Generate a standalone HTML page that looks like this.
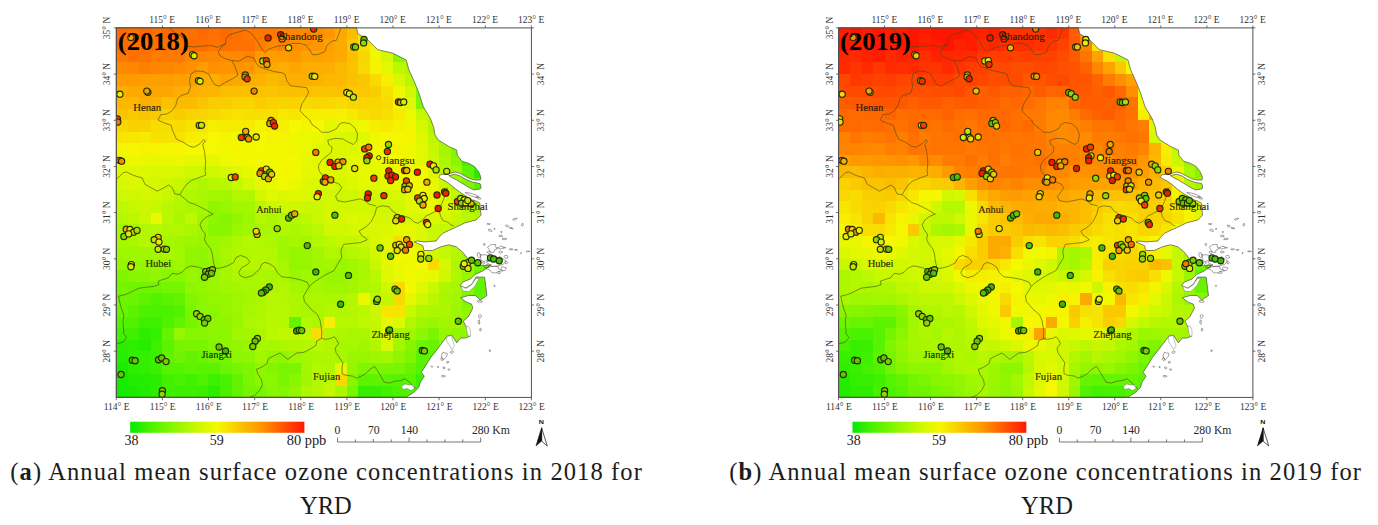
<!DOCTYPE html><html><head><meta charset="utf-8"><title>fig</title>
<style>html,body{margin:0;padding:0;background:#fff}body{width:1378px;height:525px;overflow:hidden;position:relative;font-family:"Liberation Serif",serif}svg{position:absolute;left:0;top:0;display:block}.cap{position:absolute;font-family:"Liberation Serif",serif;font-size:22.5px;color:#222;white-space:nowrap;line-height:1}</style></head><body>
<svg width="1378" height="525" viewBox="0 0 1378 525">
<defs>
<path id="landshape" d="M116.3,27.6 L356.5,27.6 L357.8,33.7 L361.7,36.0 L367.4,39.4 L374.3,46.3 L377.7,49.7 L392.6,53.1 L406.3,60.0 L408.6,69.1 L414.3,81.7 L418.9,93.1 L423.4,106.9 L430.3,118.3 L433.7,127.4 L435.0,135.0 L438.3,140.0 L449.7,146.9 L456.7,150.0 L457.3,155.3 L462.0,161.3 L468.7,163.3 L474.7,166.7 L478.7,172.0 L480.9,177.3 L480.4,180.0 L475.3,180.0 L470.0,178.7 L464.7,176.0 L460.0,173.3 L455.3,172.0 L450.0,173.3 L446.0,174.0 L440.7,174.7 L438.7,176.7 L440.7,178.7 L446.0,181.3 L451.3,185.3 L455.3,188.7 L460.7,192.7 L466.0,196.0 L472.7,200.0 L476.7,201.3 L480.0,203.3 L480.0,207.6 L481.0,215.2 L476.2,220.0 L464.8,222.9 L455.2,227.6 L448.6,230.5 L442.9,233.3 L439.0,237.1 L436.2,241.0 L424.8,241.9 L417.1,241.0 L414.3,241.9 L422.9,245.7 L423.8,250.5 L432.4,250.5 L441.0,246.7 L448.6,244.8 L456.2,246.7 L461.9,251.4 L466.7,257.1 L469.5,261.9 L481.9,265.7 L491.4,264.8 L481.9,271.4 L475.2,274.3 L470.5,279.0 L462.9,281.9 L460.0,285.7 L466.0,288.0 L472.0,284.0 L476.0,277.0 L484.6,277.2 L486.9,295.5 L480.1,300.1 L475.5,295.5 L468.6,295.5 L460.6,297.8 L466.3,302.0 L471.5,304.0 L472.9,308.0 L468.1,317.1 L463.3,321.0 L466.2,326.7 L470.0,336.2 L465.2,338.1 L460.5,338.1 L456.7,342.9 L451.9,335.2 L447.1,336.2 L441.4,343.8 L435.7,351.4 L431.0,357.1 L426.2,364.8 L421.4,372.4 L424.3,376.2 L420.5,381.9 L418.6,387.6 L413.8,392.4 L406.2,397.2 L116.3,397.2Z M448.7,175.6 L455.3,174.2 L460.7,176.2 L466.0,179.5 L472.7,182.2 L480.0,183.5 L481.0,186.0 L480.7,188.7 L474.0,190.0 L468.7,187.3 L463.3,184.0 L456.7,180.0 L451.3,177.3Z"/>
<clipPath id="land"><use href="#landshape"/></clipPath>
<clipPath id="frameclip"><rect x="116.3" y="27.9" width="415.1" height="369.5"/></clipPath>
<linearGradient id="cb" x1="0" x2="1" y1="0" y2="0">
<stop offset="0.000" stop-color="#06e804"/>
<stop offset="0.120" stop-color="#4cf200"/>
<stop offset="0.250" stop-color="#8cf600"/>
<stop offset="0.370" stop-color="#c3f800"/>
<stop offset="0.500" stop-color="#f5f800"/>
<stop offset="0.750" stop-color="#ff9600"/>
<stop offset="1.000" stop-color="#ff1800"/>
</linearGradient>
<filter id="blur" x="-2%" y="-2%" width="104%" height="104%"><feGaussianBlur stdDeviation="0.7"/></filter><filter id="blur2" x="-2%" y="-2%" width="104%" height="104%"><feGaussianBlur stdDeviation="0.35"/></filter>
</defs>
<g transform="translate(0.00,0) scale(1.00000,1)">
<g clip-path="url(#land)"><g filter="url(#blur)" shape-rendering="crispEdges">
<rect x="116.25" y="27.85" width="11.63" height="11.65" fill="#ff6b00"/>
<rect x="127.78" y="27.85" width="11.63" height="11.65" fill="#ff6e00"/>
<rect x="139.31" y="27.85" width="11.63" height="11.65" fill="#ff6600"/>
<rect x="150.84" y="27.85" width="11.63" height="11.65" fill="#ff6f00"/>
<rect x="162.37" y="27.85" width="11.63" height="11.65" fill="#ff6800"/>
<rect x="173.90" y="27.85" width="11.63" height="11.65" fill="#ff6b00"/>
<rect x="185.43" y="27.85" width="11.63" height="11.65" fill="#ff6f00"/>
<rect x="196.96" y="27.85" width="11.63" height="11.65" fill="#ff6900"/>
<rect x="208.49" y="27.85" width="11.63" height="11.65" fill="#ff7000"/>
<rect x="220.02" y="27.85" width="11.63" height="11.65" fill="#ff6a00"/>
<rect x="231.55" y="27.85" width="11.63" height="11.65" fill="#ff6f00"/>
<rect x="243.08" y="27.85" width="11.63" height="11.65" fill="#ff7400"/>
<rect x="254.61" y="27.85" width="11.63" height="11.65" fill="#ff7900"/>
<rect x="266.14" y="27.85" width="11.63" height="11.65" fill="#ff7800"/>
<rect x="277.67" y="27.85" width="11.63" height="11.65" fill="#ff8200"/>
<rect x="289.20" y="27.85" width="11.63" height="11.65" fill="#ff8600"/>
<rect x="300.73" y="27.85" width="11.63" height="11.65" fill="#ff8a00"/>
<rect x="312.26" y="27.85" width="11.63" height="11.65" fill="#ff8d00"/>
<rect x="323.79" y="27.85" width="11.63" height="11.65" fill="#ff9700"/>
<rect x="335.32" y="27.85" width="11.63" height="11.65" fill="#fda900"/>
<rect x="346.85" y="27.85" width="11.63" height="11.65" fill="#fbbd00"/>
<rect x="358.38" y="27.85" width="11.63" height="11.65" fill="#f6ea00"/>
<rect x="369.91" y="27.85" width="11.63" height="11.65" fill="#e6f800"/>
<rect x="381.44" y="27.85" width="11.63" height="11.65" fill="#c9f800"/>
<rect x="392.97" y="27.85" width="11.63" height="11.65" fill="#c2f800"/>
<rect x="404.50" y="27.85" width="11.63" height="11.65" fill="#baf800"/>
<rect x="416.03" y="27.85" width="11.63" height="11.65" fill="#b6f800"/>
<rect x="427.56" y="27.85" width="11.63" height="11.65" fill="#b9f800"/>
<rect x="439.09" y="27.85" width="11.63" height="11.65" fill="#aef700"/>
<rect x="450.62" y="27.85" width="11.63" height="11.65" fill="#b1f700"/>
<rect x="462.15" y="27.85" width="11.63" height="11.65" fill="#aff700"/>
<rect x="473.68" y="27.85" width="11.63" height="11.65" fill="#a9f700"/>
<rect x="485.21" y="27.85" width="11.63" height="11.65" fill="#a8f700"/>
<rect x="496.74" y="27.85" width="11.63" height="11.65" fill="#9df700"/>
<rect x="508.27" y="27.85" width="11.63" height="11.65" fill="#99f600"/>
<rect x="519.80" y="27.85" width="11.63" height="11.65" fill="#99f600"/>
<rect x="116.25" y="39.40" width="11.63" height="11.65" fill="#ff6b00"/>
<rect x="127.78" y="39.40" width="11.63" height="11.65" fill="#ff6f00"/>
<rect x="139.31" y="39.40" width="11.63" height="11.65" fill="#ff7000"/>
<rect x="150.84" y="39.40" width="11.63" height="11.65" fill="#ff6c00"/>
<rect x="162.37" y="39.40" width="11.63" height="11.65" fill="#ff6e00"/>
<rect x="173.90" y="39.40" width="11.63" height="11.65" fill="#ff7200"/>
<rect x="185.43" y="39.40" width="11.63" height="11.65" fill="#ff6c00"/>
<rect x="196.96" y="39.40" width="11.63" height="11.65" fill="#ff6e00"/>
<rect x="208.49" y="39.40" width="11.63" height="11.65" fill="#ff7500"/>
<rect x="220.02" y="39.40" width="11.63" height="11.65" fill="#ff7000"/>
<rect x="231.55" y="39.40" width="11.63" height="11.65" fill="#ff7100"/>
<rect x="243.08" y="39.40" width="11.63" height="11.65" fill="#ff7100"/>
<rect x="254.61" y="39.40" width="11.63" height="11.65" fill="#ff7e00"/>
<rect x="266.14" y="39.40" width="11.63" height="11.65" fill="#ff8a00"/>
<rect x="277.67" y="39.40" width="11.63" height="11.65" fill="#ff8000"/>
<rect x="289.20" y="39.40" width="11.63" height="11.65" fill="#ff9000"/>
<rect x="300.73" y="39.40" width="11.63" height="11.65" fill="#ff9300"/>
<rect x="312.26" y="39.40" width="11.63" height="11.65" fill="#ff9500"/>
<rect x="323.79" y="39.40" width="11.63" height="11.65" fill="#fea000"/>
<rect x="335.32" y="39.40" width="11.63" height="11.65" fill="#fdaa00"/>
<rect x="346.85" y="39.40" width="11.63" height="11.65" fill="#fac800"/>
<rect x="358.38" y="39.40" width="11.63" height="11.65" fill="#f8df00"/>
<rect x="369.91" y="39.40" width="11.63" height="11.65" fill="#eaf800"/>
<rect x="381.44" y="39.40" width="11.63" height="11.65" fill="#d0f800"/>
<rect x="392.97" y="39.40" width="11.63" height="11.65" fill="#c7f800"/>
<rect x="404.50" y="39.40" width="11.63" height="11.65" fill="#b5f700"/>
<rect x="416.03" y="39.40" width="11.63" height="11.65" fill="#b7f800"/>
<rect x="427.56" y="39.40" width="11.63" height="11.65" fill="#b3f700"/>
<rect x="439.09" y="39.40" width="11.63" height="11.65" fill="#b0f700"/>
<rect x="450.62" y="39.40" width="11.63" height="11.65" fill="#acf700"/>
<rect x="462.15" y="39.40" width="11.63" height="11.65" fill="#aff700"/>
<rect x="473.68" y="39.40" width="11.63" height="11.65" fill="#adf700"/>
<rect x="485.21" y="39.40" width="11.63" height="11.65" fill="#a2f700"/>
<rect x="496.74" y="39.40" width="11.63" height="11.65" fill="#a1f700"/>
<rect x="508.27" y="39.40" width="11.63" height="11.65" fill="#94f600"/>
<rect x="519.80" y="39.40" width="11.63" height="11.65" fill="#9af700"/>
<rect x="116.25" y="50.94" width="11.63" height="11.65" fill="#ff7600"/>
<rect x="127.78" y="50.94" width="11.63" height="11.65" fill="#ff7000"/>
<rect x="139.31" y="50.94" width="11.63" height="11.65" fill="#ff7300"/>
<rect x="150.84" y="50.94" width="11.63" height="11.65" fill="#ff7b00"/>
<rect x="162.37" y="50.94" width="11.63" height="11.65" fill="#ff7900"/>
<rect x="173.90" y="50.94" width="11.63" height="11.65" fill="#ff7800"/>
<rect x="185.43" y="50.94" width="11.63" height="11.65" fill="#ff8700"/>
<rect x="196.96" y="50.94" width="11.63" height="11.65" fill="#ff8400"/>
<rect x="208.49" y="50.94" width="11.63" height="11.65" fill="#ff8800"/>
<rect x="220.02" y="50.94" width="11.63" height="11.65" fill="#ff8900"/>
<rect x="231.55" y="50.94" width="11.63" height="11.65" fill="#ff8a00"/>
<rect x="243.08" y="50.94" width="11.63" height="11.65" fill="#ff8500"/>
<rect x="254.61" y="50.94" width="11.63" height="11.65" fill="#ff9a00"/>
<rect x="266.14" y="50.94" width="11.63" height="11.65" fill="#fe9d00"/>
<rect x="277.67" y="50.94" width="11.63" height="11.65" fill="#fe9b00"/>
<rect x="289.20" y="50.94" width="11.63" height="11.65" fill="#ff9700"/>
<rect x="300.73" y="50.94" width="11.63" height="11.65" fill="#fea200"/>
<rect x="312.26" y="50.94" width="11.63" height="11.65" fill="#fea000"/>
<rect x="323.79" y="50.94" width="11.63" height="11.65" fill="#fea300"/>
<rect x="335.32" y="50.94" width="11.63" height="11.65" fill="#fdaa00"/>
<rect x="346.85" y="50.94" width="11.63" height="11.65" fill="#fbbe00"/>
<rect x="358.38" y="50.94" width="11.63" height="11.65" fill="#f8d700"/>
<rect x="369.91" y="50.94" width="11.63" height="11.65" fill="#f0f800"/>
<rect x="381.44" y="50.94" width="11.63" height="11.65" fill="#d5f800"/>
<rect x="392.97" y="50.94" width="11.63" height="11.65" fill="#8cf600"/>
<rect x="404.50" y="50.94" width="11.63" height="11.65" fill="#b6f800"/>
<rect x="416.03" y="50.94" width="11.63" height="11.65" fill="#b5f700"/>
<rect x="427.56" y="50.94" width="11.63" height="11.65" fill="#a7f700"/>
<rect x="439.09" y="50.94" width="11.63" height="11.65" fill="#a4f700"/>
<rect x="450.62" y="50.94" width="11.63" height="11.65" fill="#a2f700"/>
<rect x="462.15" y="50.94" width="11.63" height="11.65" fill="#9ef700"/>
<rect x="473.68" y="50.94" width="11.63" height="11.65" fill="#9df700"/>
<rect x="485.21" y="50.94" width="11.63" height="11.65" fill="#99f600"/>
<rect x="496.74" y="50.94" width="11.63" height="11.65" fill="#8ff600"/>
<rect x="508.27" y="50.94" width="11.63" height="11.65" fill="#85f600"/>
<rect x="519.80" y="50.94" width="11.63" height="11.65" fill="#87f600"/>
<rect x="116.25" y="62.49" width="11.63" height="11.65" fill="#ff8900"/>
<rect x="127.78" y="62.49" width="11.63" height="11.65" fill="#ff8600"/>
<rect x="139.31" y="62.49" width="11.63" height="11.65" fill="#ff8000"/>
<rect x="150.84" y="62.49" width="11.63" height="11.65" fill="#ff8400"/>
<rect x="162.37" y="62.49" width="11.63" height="11.65" fill="#ff8700"/>
<rect x="173.90" y="62.49" width="11.63" height="11.65" fill="#ff8900"/>
<rect x="185.43" y="62.49" width="11.63" height="11.65" fill="#ff9100"/>
<rect x="196.96" y="62.49" width="11.63" height="11.65" fill="#fe9c00"/>
<rect x="208.49" y="62.49" width="11.63" height="11.65" fill="#ff9100"/>
<rect x="220.02" y="62.49" width="11.63" height="11.65" fill="#ff9300"/>
<rect x="231.55" y="62.49" width="11.63" height="11.65" fill="#ff9200"/>
<rect x="243.08" y="62.49" width="11.63" height="11.65" fill="#ff9800"/>
<rect x="254.61" y="62.49" width="11.63" height="11.65" fill="#fda500"/>
<rect x="266.14" y="62.49" width="11.63" height="11.65" fill="#fda900"/>
<rect x="277.67" y="62.49" width="11.63" height="11.65" fill="#fdac00"/>
<rect x="289.20" y="62.49" width="11.63" height="11.65" fill="#fda600"/>
<rect x="300.73" y="62.49" width="11.63" height="11.65" fill="#fdad00"/>
<rect x="312.26" y="62.49" width="11.63" height="11.65" fill="#fdae00"/>
<rect x="323.79" y="62.49" width="11.63" height="11.65" fill="#fcaf00"/>
<rect x="335.32" y="62.49" width="11.63" height="11.65" fill="#fcb800"/>
<rect x="346.85" y="62.49" width="11.63" height="11.65" fill="#fbc200"/>
<rect x="358.38" y="62.49" width="11.63" height="11.65" fill="#f8d800"/>
<rect x="369.91" y="62.49" width="11.63" height="11.65" fill="#f6f200"/>
<rect x="381.44" y="62.49" width="11.63" height="11.65" fill="#e0f800"/>
<rect x="392.97" y="62.49" width="11.63" height="11.65" fill="#bef800"/>
<rect x="404.50" y="62.49" width="11.63" height="11.65" fill="#b0f700"/>
<rect x="416.03" y="62.49" width="11.63" height="11.65" fill="#a6f700"/>
<rect x="427.56" y="62.49" width="11.63" height="11.65" fill="#acf700"/>
<rect x="439.09" y="62.49" width="11.63" height="11.65" fill="#a5f700"/>
<rect x="450.62" y="62.49" width="11.63" height="11.65" fill="#9af700"/>
<rect x="462.15" y="62.49" width="11.63" height="11.65" fill="#97f600"/>
<rect x="473.68" y="62.49" width="11.63" height="11.65" fill="#93f600"/>
<rect x="485.21" y="62.49" width="11.63" height="11.65" fill="#8df600"/>
<rect x="496.74" y="62.49" width="11.63" height="11.65" fill="#83f500"/>
<rect x="508.27" y="62.49" width="11.63" height="11.65" fill="#86f600"/>
<rect x="519.80" y="62.49" width="11.63" height="11.65" fill="#84f500"/>
<rect x="116.25" y="74.04" width="11.63" height="11.65" fill="#ff9a00"/>
<rect x="127.78" y="74.04" width="11.63" height="11.65" fill="#ff9a00"/>
<rect x="139.31" y="74.04" width="11.63" height="11.65" fill="#fe9f00"/>
<rect x="150.84" y="74.04" width="11.63" height="11.65" fill="#fe9f00"/>
<rect x="162.37" y="74.04" width="11.63" height="11.65" fill="#fe9c00"/>
<rect x="173.90" y="74.04" width="11.63" height="11.65" fill="#fea000"/>
<rect x="185.43" y="74.04" width="11.63" height="11.65" fill="#fea100"/>
<rect x="196.96" y="74.04" width="11.63" height="11.65" fill="#fdad00"/>
<rect x="208.49" y="74.04" width="11.63" height="11.65" fill="#fdae00"/>
<rect x="220.02" y="74.04" width="11.63" height="11.65" fill="#fea300"/>
<rect x="231.55" y="74.04" width="11.63" height="11.65" fill="#fda800"/>
<rect x="243.08" y="74.04" width="11.63" height="11.65" fill="#fcaf00"/>
<rect x="254.61" y="74.04" width="11.63" height="11.65" fill="#fcb000"/>
<rect x="266.14" y="74.04" width="11.63" height="11.65" fill="#fbb900"/>
<rect x="277.67" y="74.04" width="11.63" height="11.65" fill="#fcb300"/>
<rect x="289.20" y="74.04" width="11.63" height="11.65" fill="#fdae00"/>
<rect x="300.73" y="74.04" width="11.63" height="11.65" fill="#fcaf00"/>
<rect x="312.26" y="74.04" width="11.63" height="11.65" fill="#fcb200"/>
<rect x="323.79" y="74.04" width="11.63" height="11.65" fill="#fcb800"/>
<rect x="335.32" y="74.04" width="11.63" height="11.65" fill="#fbba00"/>
<rect x="346.85" y="74.04" width="11.63" height="11.65" fill="#fbc100"/>
<rect x="358.38" y="74.04" width="11.63" height="11.65" fill="#fac600"/>
<rect x="369.91" y="74.04" width="11.63" height="11.65" fill="#f8da00"/>
<rect x="381.44" y="74.04" width="11.63" height="11.65" fill="#f6f000"/>
<rect x="392.97" y="74.04" width="11.63" height="11.65" fill="#d8f800"/>
<rect x="404.50" y="74.04" width="11.63" height="11.65" fill="#b9f800"/>
<rect x="416.03" y="74.04" width="11.63" height="11.65" fill="#b2f700"/>
<rect x="427.56" y="74.04" width="11.63" height="11.65" fill="#abf700"/>
<rect x="439.09" y="74.04" width="11.63" height="11.65" fill="#a6f700"/>
<rect x="450.62" y="74.04" width="11.63" height="11.65" fill="#a0f700"/>
<rect x="462.15" y="74.04" width="11.63" height="11.65" fill="#9bf700"/>
<rect x="473.68" y="74.04" width="11.63" height="11.65" fill="#95f600"/>
<rect x="485.21" y="74.04" width="11.63" height="11.65" fill="#87f600"/>
<rect x="496.74" y="74.04" width="11.63" height="11.65" fill="#83f500"/>
<rect x="508.27" y="74.04" width="11.63" height="11.65" fill="#79f500"/>
<rect x="519.80" y="74.04" width="11.63" height="11.65" fill="#6ff400"/>
<rect x="116.25" y="85.58" width="11.63" height="11.65" fill="#fdad00"/>
<rect x="127.78" y="85.58" width="11.63" height="11.65" fill="#fdaa00"/>
<rect x="139.31" y="85.58" width="11.63" height="11.65" fill="#fdaa00"/>
<rect x="150.84" y="85.58" width="11.63" height="11.65" fill="#fda600"/>
<rect x="162.37" y="85.58" width="11.63" height="11.65" fill="#fda500"/>
<rect x="173.90" y="85.58" width="11.63" height="11.65" fill="#fcaf00"/>
<rect x="185.43" y="85.58" width="11.63" height="11.65" fill="#fcaf00"/>
<rect x="196.96" y="85.58" width="11.63" height="11.65" fill="#fcb300"/>
<rect x="208.49" y="85.58" width="11.63" height="11.65" fill="#fcb500"/>
<rect x="220.02" y="85.58" width="11.63" height="11.65" fill="#fbbd00"/>
<rect x="231.55" y="85.58" width="11.63" height="11.65" fill="#fbbf00"/>
<rect x="243.08" y="85.58" width="11.63" height="11.65" fill="#fbc000"/>
<rect x="254.61" y="85.58" width="11.63" height="11.65" fill="#fac300"/>
<rect x="266.14" y="85.58" width="11.63" height="11.65" fill="#fac500"/>
<rect x="277.67" y="85.58" width="11.63" height="11.65" fill="#fbc100"/>
<rect x="289.20" y="85.58" width="11.63" height="11.65" fill="#fbbf00"/>
<rect x="300.73" y="85.58" width="11.63" height="11.65" fill="#fbc000"/>
<rect x="312.26" y="85.58" width="11.63" height="11.65" fill="#fac500"/>
<rect x="323.79" y="85.58" width="11.63" height="11.65" fill="#fac300"/>
<rect x="335.32" y="85.58" width="11.63" height="11.65" fill="#fbc100"/>
<rect x="346.85" y="85.58" width="11.63" height="11.65" fill="#fac900"/>
<rect x="358.38" y="85.58" width="11.63" height="11.65" fill="#fac700"/>
<rect x="369.91" y="85.58" width="11.63" height="11.65" fill="#f9cd00"/>
<rect x="381.44" y="85.58" width="11.63" height="11.65" fill="#f7e100"/>
<rect x="392.97" y="85.58" width="11.63" height="11.65" fill="#f0f800"/>
<rect x="404.50" y="85.58" width="11.63" height="11.65" fill="#cef800"/>
<rect x="416.03" y="85.58" width="11.63" height="11.65" fill="#7df500"/>
<rect x="427.56" y="85.58" width="11.63" height="11.65" fill="#abf700"/>
<rect x="439.09" y="85.58" width="11.63" height="11.65" fill="#a1f700"/>
<rect x="450.62" y="85.58" width="11.63" height="11.65" fill="#a3f700"/>
<rect x="462.15" y="85.58" width="11.63" height="11.65" fill="#a0f700"/>
<rect x="473.68" y="85.58" width="11.63" height="11.65" fill="#93f600"/>
<rect x="485.21" y="85.58" width="11.63" height="11.65" fill="#8df600"/>
<rect x="496.74" y="85.58" width="11.63" height="11.65" fill="#8ef600"/>
<rect x="508.27" y="85.58" width="11.63" height="11.65" fill="#82f500"/>
<rect x="519.80" y="85.58" width="11.63" height="11.65" fill="#76f500"/>
<rect x="116.25" y="97.13" width="11.63" height="11.65" fill="#fcb800"/>
<rect x="127.78" y="97.13" width="11.63" height="11.65" fill="#fcb800"/>
<rect x="139.31" y="97.13" width="11.63" height="11.65" fill="#fcaf00"/>
<rect x="150.84" y="97.13" width="11.63" height="11.65" fill="#fcb300"/>
<rect x="162.37" y="97.13" width="11.63" height="11.65" fill="#fbc000"/>
<rect x="173.90" y="97.13" width="11.63" height="11.65" fill="#fbbc00"/>
<rect x="185.43" y="97.13" width="11.63" height="11.65" fill="#fbbc00"/>
<rect x="196.96" y="97.13" width="11.63" height="11.65" fill="#fac400"/>
<rect x="208.49" y="97.13" width="11.63" height="11.65" fill="#f9ce00"/>
<rect x="220.02" y="97.13" width="11.63" height="11.65" fill="#f9ce00"/>
<rect x="231.55" y="97.13" width="11.63" height="11.65" fill="#f9d300"/>
<rect x="243.08" y="97.13" width="11.63" height="11.65" fill="#f9d500"/>
<rect x="254.61" y="97.13" width="11.63" height="11.65" fill="#facb00"/>
<rect x="266.14" y="97.13" width="11.63" height="11.65" fill="#f9d100"/>
<rect x="277.67" y="97.13" width="11.63" height="11.65" fill="#f9d500"/>
<rect x="289.20" y="97.13" width="11.63" height="11.65" fill="#f9d200"/>
<rect x="300.73" y="97.13" width="11.63" height="11.65" fill="#f8da00"/>
<rect x="312.26" y="97.13" width="11.63" height="11.65" fill="#f8d600"/>
<rect x="323.79" y="97.13" width="11.63" height="11.65" fill="#f8d800"/>
<rect x="335.32" y="97.13" width="11.63" height="11.65" fill="#f8dd00"/>
<rect x="346.85" y="97.13" width="11.63" height="11.65" fill="#f8d700"/>
<rect x="358.38" y="97.13" width="11.63" height="11.65" fill="#f9d400"/>
<rect x="369.91" y="97.13" width="11.63" height="11.65" fill="#f9d600"/>
<rect x="381.44" y="97.13" width="11.63" height="11.65" fill="#f8dc00"/>
<rect x="392.97" y="97.13" width="11.63" height="11.65" fill="#f6f300"/>
<rect x="404.50" y="97.13" width="11.63" height="11.65" fill="#def800"/>
<rect x="416.03" y="97.13" width="11.63" height="11.65" fill="#7df500"/>
<rect x="427.56" y="97.13" width="11.63" height="11.65" fill="#b1f700"/>
<rect x="439.09" y="97.13" width="11.63" height="11.65" fill="#a7f700"/>
<rect x="450.62" y="97.13" width="11.63" height="11.65" fill="#a5f700"/>
<rect x="462.15" y="97.13" width="11.63" height="11.65" fill="#a3f700"/>
<rect x="473.68" y="97.13" width="11.63" height="11.65" fill="#a3f700"/>
<rect x="485.21" y="97.13" width="11.63" height="11.65" fill="#97f600"/>
<rect x="496.74" y="97.13" width="11.63" height="11.65" fill="#98f600"/>
<rect x="508.27" y="97.13" width="11.63" height="11.65" fill="#8cf600"/>
<rect x="519.80" y="97.13" width="11.63" height="11.65" fill="#89f600"/>
<rect x="116.25" y="108.67" width="11.63" height="11.65" fill="#fac300"/>
<rect x="127.78" y="108.67" width="11.63" height="11.65" fill="#fac900"/>
<rect x="139.31" y="108.67" width="11.63" height="11.65" fill="#fac400"/>
<rect x="150.84" y="108.67" width="11.63" height="11.65" fill="#faca00"/>
<rect x="162.37" y="108.67" width="11.63" height="11.65" fill="#f9d200"/>
<rect x="173.90" y="108.67" width="11.63" height="11.65" fill="#facc00"/>
<rect x="185.43" y="108.67" width="11.63" height="11.65" fill="#f9d300"/>
<rect x="196.96" y="108.67" width="11.63" height="11.65" fill="#f9d400"/>
<rect x="208.49" y="108.67" width="11.63" height="11.65" fill="#f8d900"/>
<rect x="220.02" y="108.67" width="11.63" height="11.65" fill="#f8df00"/>
<rect x="231.55" y="108.67" width="11.63" height="11.65" fill="#f7e200"/>
<rect x="243.08" y="108.67" width="11.63" height="11.65" fill="#f7e000"/>
<rect x="254.61" y="108.67" width="11.63" height="11.65" fill="#f7e000"/>
<rect x="266.14" y="108.67" width="11.63" height="11.65" fill="#f8df00"/>
<rect x="277.67" y="108.67" width="11.63" height="11.65" fill="#f6ea00"/>
<rect x="289.20" y="108.67" width="11.63" height="11.65" fill="#f7e700"/>
<rect x="300.73" y="108.67" width="11.63" height="11.65" fill="#f6ed00"/>
<rect x="312.26" y="108.67" width="11.63" height="11.65" fill="#f6f000"/>
<rect x="323.79" y="108.67" width="11.63" height="11.65" fill="#f6ef00"/>
<rect x="335.32" y="108.67" width="11.63" height="11.65" fill="#f6f100"/>
<rect x="346.85" y="108.67" width="11.63" height="11.65" fill="#f7e900"/>
<rect x="358.38" y="108.67" width="11.63" height="11.65" fill="#f7e000"/>
<rect x="369.91" y="108.67" width="11.63" height="11.65" fill="#f8d900"/>
<rect x="381.44" y="108.67" width="11.63" height="11.65" fill="#f7e000"/>
<rect x="392.97" y="108.67" width="11.63" height="11.65" fill="#f7e900"/>
<rect x="404.50" y="108.67" width="11.63" height="11.65" fill="#ebf800"/>
<rect x="416.03" y="108.67" width="11.63" height="11.65" fill="#c5f800"/>
<rect x="427.56" y="108.67" width="11.63" height="11.65" fill="#b3f700"/>
<rect x="439.09" y="108.67" width="11.63" height="11.65" fill="#a7f700"/>
<rect x="450.62" y="108.67" width="11.63" height="11.65" fill="#a1f700"/>
<rect x="462.15" y="108.67" width="11.63" height="11.65" fill="#9cf700"/>
<rect x="473.68" y="108.67" width="11.63" height="11.65" fill="#9df700"/>
<rect x="485.21" y="108.67" width="11.63" height="11.65" fill="#94f600"/>
<rect x="496.74" y="108.67" width="11.63" height="11.65" fill="#90f600"/>
<rect x="508.27" y="108.67" width="11.63" height="11.65" fill="#8af600"/>
<rect x="519.80" y="108.67" width="11.63" height="11.65" fill="#7cf500"/>
<rect x="116.25" y="120.22" width="11.63" height="11.65" fill="#f8d600"/>
<rect x="127.78" y="120.22" width="11.63" height="11.65" fill="#f9d100"/>
<rect x="139.31" y="120.22" width="11.63" height="11.65" fill="#f9d300"/>
<rect x="150.84" y="120.22" width="11.63" height="11.65" fill="#f8dc00"/>
<rect x="162.37" y="120.22" width="11.63" height="11.65" fill="#f8de00"/>
<rect x="173.90" y="120.22" width="11.63" height="11.65" fill="#f8dc00"/>
<rect x="185.43" y="120.22" width="11.63" height="11.65" fill="#f7e200"/>
<rect x="196.96" y="120.22" width="11.63" height="11.65" fill="#f7e500"/>
<rect x="208.49" y="120.22" width="11.63" height="11.65" fill="#f6ee00"/>
<rect x="220.02" y="120.22" width="11.63" height="11.65" fill="#f6ec00"/>
<rect x="231.55" y="120.22" width="11.63" height="11.65" fill="#f6ec00"/>
<rect x="243.08" y="120.22" width="11.63" height="11.65" fill="#f6eb00"/>
<rect x="254.61" y="120.22" width="11.63" height="11.65" fill="#f5f400"/>
<rect x="266.14" y="120.22" width="11.63" height="11.65" fill="#f6ee00"/>
<rect x="277.67" y="120.22" width="11.63" height="11.65" fill="#f6f000"/>
<rect x="289.20" y="120.22" width="11.63" height="11.65" fill="#f5f800"/>
<rect x="300.73" y="120.22" width="11.63" height="11.65" fill="#f6f300"/>
<rect x="312.26" y="120.22" width="11.63" height="11.65" fill="#f5f800"/>
<rect x="323.79" y="120.22" width="11.63" height="11.65" fill="#e3f800"/>
<rect x="335.32" y="120.22" width="11.63" height="11.65" fill="#e9f800"/>
<rect x="346.85" y="120.22" width="11.63" height="11.65" fill="#e8f800"/>
<rect x="358.38" y="120.22" width="11.63" height="11.65" fill="#f0f800"/>
<rect x="369.91" y="120.22" width="11.63" height="11.65" fill="#f6ed00"/>
<rect x="381.44" y="120.22" width="11.63" height="11.65" fill="#f6ea00"/>
<rect x="392.97" y="120.22" width="11.63" height="11.65" fill="#f6f100"/>
<rect x="404.50" y="120.22" width="11.63" height="11.65" fill="#f0f800"/>
<rect x="416.03" y="120.22" width="11.63" height="11.65" fill="#d4f800"/>
<rect x="427.56" y="120.22" width="11.63" height="11.65" fill="#b1f700"/>
<rect x="439.09" y="120.22" width="11.63" height="11.65" fill="#9cf700"/>
<rect x="450.62" y="120.22" width="11.63" height="11.65" fill="#88f600"/>
<rect x="462.15" y="120.22" width="11.63" height="11.65" fill="#86f600"/>
<rect x="473.68" y="120.22" width="11.63" height="11.65" fill="#74f400"/>
<rect x="485.21" y="120.22" width="11.63" height="11.65" fill="#73f400"/>
<rect x="496.74" y="120.22" width="11.63" height="11.65" fill="#67f400"/>
<rect x="508.27" y="120.22" width="11.63" height="11.65" fill="#57f300"/>
<rect x="519.80" y="120.22" width="11.63" height="11.65" fill="#56f300"/>
<rect x="116.25" y="131.77" width="11.63" height="11.65" fill="#f7e500"/>
<rect x="127.78" y="131.77" width="11.63" height="11.65" fill="#f7e600"/>
<rect x="139.31" y="131.77" width="11.63" height="11.65" fill="#f6eb00"/>
<rect x="150.84" y="131.77" width="11.63" height="11.65" fill="#f7e100"/>
<rect x="162.37" y="131.77" width="11.63" height="11.65" fill="#f7e300"/>
<rect x="173.90" y="131.77" width="11.63" height="11.65" fill="#f7e200"/>
<rect x="185.43" y="131.77" width="11.63" height="11.65" fill="#f6ed00"/>
<rect x="196.96" y="131.77" width="11.63" height="11.65" fill="#f6ef00"/>
<rect x="208.49" y="131.77" width="11.63" height="11.65" fill="#f5f800"/>
<rect x="220.02" y="131.77" width="11.63" height="11.65" fill="#f6f300"/>
<rect x="231.55" y="131.77" width="11.63" height="11.65" fill="#f3f800"/>
<rect x="243.08" y="131.77" width="11.63" height="11.65" fill="#f1f800"/>
<rect x="254.61" y="131.77" width="11.63" height="11.65" fill="#f4f800"/>
<rect x="266.14" y="131.77" width="11.63" height="11.65" fill="#f5f300"/>
<rect x="277.67" y="131.77" width="11.63" height="11.65" fill="#f5f400"/>
<rect x="289.20" y="131.77" width="11.63" height="11.65" fill="#f0f800"/>
<rect x="300.73" y="131.77" width="11.63" height="11.65" fill="#eaf800"/>
<rect x="312.26" y="131.77" width="11.63" height="11.65" fill="#ecf800"/>
<rect x="323.79" y="131.77" width="11.63" height="11.65" fill="#ddf800"/>
<rect x="335.32" y="131.77" width="11.63" height="11.65" fill="#dbf800"/>
<rect x="346.85" y="131.77" width="11.63" height="11.65" fill="#d8f800"/>
<rect x="358.38" y="131.77" width="11.63" height="11.65" fill="#dff800"/>
<rect x="369.91" y="131.77" width="11.63" height="11.65" fill="#f0f800"/>
<rect x="381.44" y="131.77" width="11.63" height="11.65" fill="#f5f800"/>
<rect x="392.97" y="131.77" width="11.63" height="11.65" fill="#f5f700"/>
<rect x="404.50" y="131.77" width="11.63" height="11.65" fill="#f5f500"/>
<rect x="416.03" y="131.77" width="11.63" height="11.65" fill="#dff800"/>
<rect x="427.56" y="131.77" width="11.63" height="11.65" fill="#bdf800"/>
<rect x="439.09" y="131.77" width="11.63" height="11.65" fill="#99f600"/>
<rect x="450.62" y="131.77" width="11.63" height="11.65" fill="#82f500"/>
<rect x="462.15" y="131.77" width="11.63" height="11.65" fill="#61f300"/>
<rect x="473.68" y="131.77" width="11.63" height="11.65" fill="#5df300"/>
<rect x="485.21" y="131.77" width="11.63" height="11.65" fill="#4ff200"/>
<rect x="496.74" y="131.77" width="11.63" height="11.65" fill="#44f100"/>
<rect x="508.27" y="131.77" width="11.63" height="11.65" fill="#3df001"/>
<rect x="519.80" y="131.77" width="11.63" height="11.65" fill="#3ef001"/>
<rect x="116.25" y="143.31" width="11.63" height="11.65" fill="#f5f500"/>
<rect x="127.78" y="143.31" width="11.63" height="11.65" fill="#f5f600"/>
<rect x="139.31" y="143.31" width="11.63" height="11.65" fill="#f6f200"/>
<rect x="150.84" y="143.31" width="11.63" height="11.65" fill="#f5f500"/>
<rect x="162.37" y="143.31" width="11.63" height="11.65" fill="#f5f700"/>
<rect x="173.90" y="143.31" width="11.63" height="11.65" fill="#f5f600"/>
<rect x="185.43" y="143.31" width="11.63" height="11.65" fill="#f5f800"/>
<rect x="196.96" y="143.31" width="11.63" height="11.65" fill="#f5f800"/>
<rect x="208.49" y="143.31" width="11.63" height="11.65" fill="#f5f800"/>
<rect x="220.02" y="143.31" width="11.63" height="11.65" fill="#f3f800"/>
<rect x="231.55" y="143.31" width="11.63" height="11.65" fill="#f5f500"/>
<rect x="243.08" y="143.31" width="11.63" height="11.65" fill="#f3f800"/>
<rect x="254.61" y="143.31" width="11.63" height="11.65" fill="#f5f800"/>
<rect x="266.14" y="143.31" width="11.63" height="11.65" fill="#f1f800"/>
<rect x="277.67" y="143.31" width="11.63" height="11.65" fill="#f3f800"/>
<rect x="289.20" y="143.31" width="11.63" height="11.65" fill="#edf800"/>
<rect x="300.73" y="143.31" width="11.63" height="11.65" fill="#eaf800"/>
<rect x="312.26" y="143.31" width="11.63" height="11.65" fill="#e0f800"/>
<rect x="323.79" y="143.31" width="11.63" height="11.65" fill="#def800"/>
<rect x="335.32" y="143.31" width="11.63" height="11.65" fill="#d9f800"/>
<rect x="346.85" y="143.31" width="11.63" height="11.65" fill="#dbf800"/>
<rect x="358.38" y="143.31" width="11.63" height="11.65" fill="#e4f800"/>
<rect x="369.91" y="143.31" width="11.63" height="11.65" fill="#f1f800"/>
<rect x="381.44" y="143.31" width="11.63" height="11.65" fill="#edf800"/>
<rect x="392.97" y="143.31" width="11.63" height="11.65" fill="#f5f400"/>
<rect x="404.50" y="143.31" width="11.63" height="11.65" fill="#f0f800"/>
<rect x="416.03" y="143.31" width="11.63" height="11.65" fill="#e1f800"/>
<rect x="427.56" y="143.31" width="11.63" height="11.65" fill="#c7f800"/>
<rect x="439.09" y="143.31" width="11.63" height="11.65" fill="#a3f700"/>
<rect x="450.62" y="143.31" width="11.63" height="11.65" fill="#80f500"/>
<rect x="462.15" y="143.31" width="11.63" height="11.65" fill="#54f300"/>
<rect x="473.68" y="143.31" width="11.63" height="11.65" fill="#39ef01"/>
<rect x="485.21" y="143.31" width="11.63" height="11.65" fill="#2aed02"/>
<rect x="496.74" y="143.31" width="11.63" height="11.65" fill="#2fee02"/>
<rect x="508.27" y="143.31" width="11.63" height="11.65" fill="#29ed02"/>
<rect x="519.80" y="143.31" width="11.63" height="11.65" fill="#26ed02"/>
<rect x="116.25" y="154.86" width="11.63" height="11.65" fill="#eef800"/>
<rect x="127.78" y="154.86" width="11.63" height="11.65" fill="#edf800"/>
<rect x="139.31" y="154.86" width="11.63" height="11.65" fill="#e9f800"/>
<rect x="150.84" y="154.86" width="11.63" height="11.65" fill="#e9f800"/>
<rect x="162.37" y="154.86" width="11.63" height="11.65" fill="#e7f800"/>
<rect x="173.90" y="154.86" width="11.63" height="11.65" fill="#edf800"/>
<rect x="185.43" y="154.86" width="11.63" height="11.65" fill="#e6f800"/>
<rect x="196.96" y="154.86" width="11.63" height="11.65" fill="#e4f800"/>
<rect x="208.49" y="154.86" width="11.63" height="11.65" fill="#e3f800"/>
<rect x="220.02" y="154.86" width="11.63" height="11.65" fill="#eef800"/>
<rect x="231.55" y="154.86" width="11.63" height="11.65" fill="#f2f800"/>
<rect x="243.08" y="154.86" width="11.63" height="11.65" fill="#f3f800"/>
<rect x="254.61" y="154.86" width="11.63" height="11.65" fill="#f1f800"/>
<rect x="266.14" y="154.86" width="11.63" height="11.65" fill="#f2f800"/>
<rect x="277.67" y="154.86" width="11.63" height="11.65" fill="#f3f800"/>
<rect x="289.20" y="154.86" width="11.63" height="11.65" fill="#f1f800"/>
<rect x="300.73" y="154.86" width="11.63" height="11.65" fill="#e8f800"/>
<rect x="312.26" y="154.86" width="11.63" height="11.65" fill="#e3f800"/>
<rect x="323.79" y="154.86" width="11.63" height="11.65" fill="#d8f800"/>
<rect x="335.32" y="154.86" width="11.63" height="11.65" fill="#def800"/>
<rect x="346.85" y="154.86" width="11.63" height="11.65" fill="#e4f800"/>
<rect x="358.38" y="154.86" width="11.63" height="11.65" fill="#e5f800"/>
<rect x="369.91" y="154.86" width="11.63" height="11.65" fill="#e7f800"/>
<rect x="381.44" y="154.86" width="11.63" height="11.65" fill="#f4f800"/>
<rect x="392.97" y="154.86" width="11.63" height="11.65" fill="#f1f800"/>
<rect x="404.50" y="154.86" width="11.63" height="11.65" fill="#eff800"/>
<rect x="416.03" y="154.86" width="11.63" height="11.65" fill="#e2f800"/>
<rect x="427.56" y="154.86" width="11.63" height="11.65" fill="#ccf800"/>
<rect x="439.09" y="154.86" width="11.63" height="11.65" fill="#acf700"/>
<rect x="450.62" y="154.86" width="11.63" height="11.65" fill="#8cf600"/>
<rect x="462.15" y="154.86" width="11.63" height="11.65" fill="#48f100"/>
<rect x="473.68" y="154.86" width="11.63" height="11.65" fill="#1deb03"/>
<rect x="485.21" y="154.86" width="11.63" height="11.65" fill="#12ea03"/>
<rect x="496.74" y="154.86" width="11.63" height="11.65" fill="#16ea03"/>
<rect x="508.27" y="154.86" width="11.63" height="11.65" fill="#13ea03"/>
<rect x="519.80" y="154.86" width="11.63" height="11.65" fill="#18eb03"/>
<rect x="116.25" y="166.41" width="11.63" height="11.65" fill="#def800"/>
<rect x="127.78" y="166.41" width="11.63" height="11.65" fill="#ddf800"/>
<rect x="139.31" y="166.41" width="11.63" height="11.65" fill="#ddf800"/>
<rect x="150.84" y="166.41" width="11.63" height="11.65" fill="#d9f800"/>
<rect x="162.37" y="166.41" width="11.63" height="11.65" fill="#dbf800"/>
<rect x="173.90" y="166.41" width="11.63" height="11.65" fill="#d6f800"/>
<rect x="185.43" y="166.41" width="11.63" height="11.65" fill="#d2f800"/>
<rect x="196.96" y="166.41" width="11.63" height="11.65" fill="#cef800"/>
<rect x="208.49" y="166.41" width="11.63" height="11.65" fill="#cff800"/>
<rect x="220.02" y="166.41" width="11.63" height="11.65" fill="#d7f800"/>
<rect x="231.55" y="166.41" width="11.63" height="11.65" fill="#dff800"/>
<rect x="243.08" y="166.41" width="11.63" height="11.65" fill="#e8f800"/>
<rect x="254.61" y="166.41" width="11.63" height="11.65" fill="#f5f600"/>
<rect x="266.14" y="166.41" width="11.63" height="11.65" fill="#f1f800"/>
<rect x="277.67" y="166.41" width="11.63" height="11.65" fill="#f5f500"/>
<rect x="289.20" y="166.41" width="11.63" height="11.65" fill="#f3f800"/>
<rect x="300.73" y="166.41" width="11.63" height="11.65" fill="#e5f800"/>
<rect x="312.26" y="166.41" width="11.63" height="11.65" fill="#e6f800"/>
<rect x="323.79" y="166.41" width="11.63" height="11.65" fill="#dff800"/>
<rect x="335.32" y="166.41" width="11.63" height="11.65" fill="#dbf800"/>
<rect x="346.85" y="166.41" width="11.63" height="11.65" fill="#e2f800"/>
<rect x="358.38" y="166.41" width="11.63" height="11.65" fill="#e8f800"/>
<rect x="369.91" y="166.41" width="11.63" height="11.65" fill="#e4f800"/>
<rect x="381.44" y="166.41" width="11.63" height="11.65" fill="#edf800"/>
<rect x="392.97" y="166.41" width="11.63" height="11.65" fill="#f2f800"/>
<rect x="404.50" y="166.41" width="11.63" height="11.65" fill="#f5f600"/>
<rect x="416.03" y="166.41" width="11.63" height="11.65" fill="#f4f800"/>
<rect x="427.56" y="166.41" width="11.63" height="11.65" fill="#dff800"/>
<rect x="439.09" y="166.41" width="11.63" height="11.65" fill="#b5f700"/>
<rect x="450.62" y="166.41" width="11.63" height="11.65" fill="#a1f700"/>
<rect x="462.15" y="166.41" width="11.63" height="11.65" fill="#5ff300"/>
<rect x="473.68" y="166.41" width="11.63" height="11.65" fill="#28ed02"/>
<rect x="485.21" y="166.41" width="11.63" height="11.65" fill="#19eb03"/>
<rect x="496.74" y="166.41" width="11.63" height="11.65" fill="#12ea03"/>
<rect x="508.27" y="166.41" width="11.63" height="11.65" fill="#13ea03"/>
<rect x="519.80" y="166.41" width="11.63" height="11.65" fill="#17ea03"/>
<rect x="116.25" y="177.95" width="11.63" height="11.65" fill="#d6f800"/>
<rect x="127.78" y="177.95" width="11.63" height="11.65" fill="#ddf800"/>
<rect x="139.31" y="177.95" width="11.63" height="11.65" fill="#d6f800"/>
<rect x="150.84" y="177.95" width="11.63" height="11.65" fill="#d3f800"/>
<rect x="162.37" y="177.95" width="11.63" height="11.65" fill="#cff800"/>
<rect x="173.90" y="177.95" width="11.63" height="11.65" fill="#c7f800"/>
<rect x="185.43" y="177.95" width="11.63" height="11.65" fill="#b8f800"/>
<rect x="196.96" y="177.95" width="11.63" height="11.65" fill="#adf700"/>
<rect x="208.49" y="177.95" width="11.63" height="11.65" fill="#b7f800"/>
<rect x="220.02" y="177.95" width="11.63" height="11.65" fill="#b9f800"/>
<rect x="231.55" y="177.95" width="11.63" height="11.65" fill="#c7f800"/>
<rect x="243.08" y="177.95" width="11.63" height="11.65" fill="#d6f800"/>
<rect x="254.61" y="177.95" width="11.63" height="11.65" fill="#e6f800"/>
<rect x="266.14" y="177.95" width="11.63" height="11.65" fill="#e7f800"/>
<rect x="277.67" y="177.95" width="11.63" height="11.65" fill="#f1f800"/>
<rect x="289.20" y="177.95" width="11.63" height="11.65" fill="#e9f800"/>
<rect x="300.73" y="177.95" width="11.63" height="11.65" fill="#dff800"/>
<rect x="312.26" y="177.95" width="11.63" height="11.65" fill="#daf800"/>
<rect x="323.79" y="177.95" width="11.63" height="11.65" fill="#daf800"/>
<rect x="335.32" y="177.95" width="11.63" height="11.65" fill="#d3f800"/>
<rect x="346.85" y="177.95" width="11.63" height="11.65" fill="#def800"/>
<rect x="358.38" y="177.95" width="11.63" height="11.65" fill="#e4f800"/>
<rect x="369.91" y="177.95" width="11.63" height="11.65" fill="#e1f800"/>
<rect x="381.44" y="177.95" width="11.63" height="11.65" fill="#e4f800"/>
<rect x="392.97" y="177.95" width="11.63" height="11.65" fill="#eaf800"/>
<rect x="404.50" y="177.95" width="11.63" height="11.65" fill="#f1f800"/>
<rect x="416.03" y="177.95" width="11.63" height="11.65" fill="#f5f700"/>
<rect x="427.56" y="177.95" width="11.63" height="11.65" fill="#e7f800"/>
<rect x="439.09" y="177.95" width="11.63" height="11.65" fill="#c8f800"/>
<rect x="450.62" y="177.95" width="11.63" height="11.65" fill="#a6f700"/>
<rect x="462.15" y="177.95" width="11.63" height="11.65" fill="#81f500"/>
<rect x="473.68" y="177.95" width="11.63" height="11.65" fill="#5cf300"/>
<rect x="485.21" y="177.95" width="11.63" height="11.65" fill="#5bf300"/>
<rect x="496.74" y="177.95" width="11.63" height="11.65" fill="#4ff200"/>
<rect x="508.27" y="177.95" width="11.63" height="11.65" fill="#50f200"/>
<rect x="519.80" y="177.95" width="11.63" height="11.65" fill="#45f100"/>
<rect x="116.25" y="189.50" width="11.63" height="11.65" fill="#cdf800"/>
<rect x="127.78" y="189.50" width="11.63" height="11.65" fill="#cff800"/>
<rect x="139.31" y="189.50" width="11.63" height="11.65" fill="#d3f800"/>
<rect x="150.84" y="189.50" width="11.63" height="11.65" fill="#cff800"/>
<rect x="162.37" y="189.50" width="11.63" height="11.65" fill="#c8f800"/>
<rect x="173.90" y="189.50" width="11.63" height="11.65" fill="#b6f800"/>
<rect x="185.43" y="189.50" width="11.63" height="11.65" fill="#b0f700"/>
<rect x="196.96" y="189.50" width="11.63" height="11.65" fill="#a9f700"/>
<rect x="208.49" y="189.50" width="11.63" height="11.65" fill="#a5f700"/>
<rect x="220.02" y="189.50" width="11.63" height="11.65" fill="#a1f700"/>
<rect x="231.55" y="189.50" width="11.63" height="11.65" fill="#b2f700"/>
<rect x="243.08" y="189.50" width="11.63" height="11.65" fill="#b0f700"/>
<rect x="254.61" y="189.50" width="11.63" height="11.65" fill="#d2f800"/>
<rect x="266.14" y="189.50" width="11.63" height="11.65" fill="#e0f800"/>
<rect x="277.67" y="189.50" width="11.63" height="11.65" fill="#dbf800"/>
<rect x="289.20" y="189.50" width="11.63" height="11.65" fill="#dff800"/>
<rect x="300.73" y="189.50" width="11.63" height="11.65" fill="#dcf800"/>
<rect x="312.26" y="189.50" width="11.63" height="11.65" fill="#d9f800"/>
<rect x="323.79" y="189.50" width="11.63" height="11.65" fill="#d1f800"/>
<rect x="335.32" y="189.50" width="11.63" height="11.65" fill="#cff800"/>
<rect x="346.85" y="189.50" width="11.63" height="11.65" fill="#cff800"/>
<rect x="358.38" y="189.50" width="11.63" height="11.65" fill="#d9f800"/>
<rect x="369.91" y="189.50" width="11.63" height="11.65" fill="#d1f800"/>
<rect x="381.44" y="189.50" width="11.63" height="11.65" fill="#d8f800"/>
<rect x="392.97" y="189.50" width="11.63" height="11.65" fill="#d8f800"/>
<rect x="404.50" y="189.50" width="11.63" height="11.65" fill="#e4f800"/>
<rect x="416.03" y="189.50" width="11.63" height="11.65" fill="#f4f800"/>
<rect x="427.56" y="189.50" width="11.63" height="11.65" fill="#e8f800"/>
<rect x="439.09" y="189.50" width="11.63" height="11.65" fill="#dff800"/>
<rect x="450.62" y="189.50" width="11.63" height="11.65" fill="#c2f800"/>
<rect x="462.15" y="189.50" width="11.63" height="11.65" fill="#b1f700"/>
<rect x="473.68" y="189.50" width="11.63" height="11.65" fill="#a2f700"/>
<rect x="485.21" y="189.50" width="11.63" height="11.65" fill="#98f600"/>
<rect x="496.74" y="189.50" width="11.63" height="11.65" fill="#9cf700"/>
<rect x="508.27" y="189.50" width="11.63" height="11.65" fill="#92f600"/>
<rect x="519.80" y="189.50" width="11.63" height="11.65" fill="#8af600"/>
<rect x="116.25" y="201.04" width="11.63" height="11.65" fill="#bcf800"/>
<rect x="127.78" y="201.04" width="11.63" height="11.65" fill="#c6f800"/>
<rect x="139.31" y="201.04" width="11.63" height="11.65" fill="#cbf800"/>
<rect x="150.84" y="201.04" width="11.63" height="11.65" fill="#c7f800"/>
<rect x="162.37" y="201.04" width="11.63" height="11.65" fill="#b9f800"/>
<rect x="173.90" y="201.04" width="11.63" height="11.65" fill="#b1f700"/>
<rect x="185.43" y="201.04" width="11.63" height="11.65" fill="#a9f700"/>
<rect x="196.96" y="201.04" width="11.63" height="11.65" fill="#a7f700"/>
<rect x="208.49" y="201.04" width="11.63" height="11.65" fill="#8ff600"/>
<rect x="220.02" y="201.04" width="11.63" height="11.65" fill="#97f600"/>
<rect x="231.55" y="201.04" width="11.63" height="11.65" fill="#a3f700"/>
<rect x="243.08" y="201.04" width="11.63" height="11.65" fill="#a5f700"/>
<rect x="254.61" y="201.04" width="11.63" height="11.65" fill="#bbf800"/>
<rect x="266.14" y="201.04" width="11.63" height="11.65" fill="#caf800"/>
<rect x="277.67" y="201.04" width="11.63" height="11.65" fill="#d2f800"/>
<rect x="289.20" y="201.04" width="11.63" height="11.65" fill="#cdf800"/>
<rect x="300.73" y="201.04" width="11.63" height="11.65" fill="#cbf800"/>
<rect x="312.26" y="201.04" width="11.63" height="11.65" fill="#cbf800"/>
<rect x="323.79" y="201.04" width="11.63" height="11.65" fill="#d5f800"/>
<rect x="335.32" y="201.04" width="11.63" height="11.65" fill="#d2f800"/>
<rect x="346.85" y="201.04" width="11.63" height="11.65" fill="#d1f800"/>
<rect x="358.38" y="201.04" width="11.63" height="11.65" fill="#d2f800"/>
<rect x="369.91" y="201.04" width="11.63" height="11.65" fill="#cff800"/>
<rect x="381.44" y="201.04" width="11.63" height="11.65" fill="#cdf800"/>
<rect x="392.97" y="201.04" width="11.63" height="11.65" fill="#d2f800"/>
<rect x="404.50" y="201.04" width="11.63" height="11.65" fill="#e1f800"/>
<rect x="416.03" y="201.04" width="11.63" height="11.65" fill="#e4f800"/>
<rect x="427.56" y="201.04" width="11.63" height="11.65" fill="#edf800"/>
<rect x="439.09" y="201.04" width="11.63" height="11.65" fill="#def800"/>
<rect x="450.62" y="201.04" width="11.63" height="11.65" fill="#cdf800"/>
<rect x="462.15" y="201.04" width="11.63" height="11.65" fill="#b5f700"/>
<rect x="473.68" y="201.04" width="11.63" height="11.65" fill="#aaf700"/>
<rect x="485.21" y="201.04" width="11.63" height="11.65" fill="#aaf700"/>
<rect x="496.74" y="201.04" width="11.63" height="11.65" fill="#aff700"/>
<rect x="508.27" y="201.04" width="11.63" height="11.65" fill="#aaf700"/>
<rect x="519.80" y="201.04" width="11.63" height="11.65" fill="#a7f700"/>
<rect x="116.25" y="212.59" width="11.63" height="11.65" fill="#b3f700"/>
<rect x="127.78" y="212.59" width="11.63" height="11.65" fill="#baf800"/>
<rect x="139.31" y="212.59" width="11.63" height="11.65" fill="#cbf800"/>
<rect x="150.84" y="212.59" width="11.63" height="11.65" fill="#e9f800"/>
<rect x="162.37" y="212.59" width="11.63" height="11.65" fill="#b8f800"/>
<rect x="173.90" y="212.59" width="11.63" height="11.65" fill="#aaf700"/>
<rect x="185.43" y="212.59" width="11.63" height="11.65" fill="#bef800"/>
<rect x="196.96" y="212.59" width="11.63" height="11.65" fill="#a2f700"/>
<rect x="208.49" y="212.59" width="11.63" height="11.65" fill="#8ff600"/>
<rect x="220.02" y="212.59" width="11.63" height="11.65" fill="#86f600"/>
<rect x="231.55" y="212.59" width="11.63" height="11.65" fill="#91f600"/>
<rect x="243.08" y="212.59" width="11.63" height="11.65" fill="#9df700"/>
<rect x="254.61" y="212.59" width="11.63" height="11.65" fill="#b5f700"/>
<rect x="266.14" y="212.59" width="11.63" height="11.65" fill="#aef700"/>
<rect x="277.67" y="212.59" width="11.63" height="11.65" fill="#b4f700"/>
<rect x="289.20" y="212.59" width="11.63" height="11.65" fill="#b5f700"/>
<rect x="300.73" y="212.59" width="11.63" height="11.65" fill="#bcf800"/>
<rect x="312.26" y="212.59" width="11.63" height="11.65" fill="#caf800"/>
<rect x="323.79" y="212.59" width="11.63" height="11.65" fill="#d5f800"/>
<rect x="335.32" y="212.59" width="11.63" height="11.65" fill="#d4f800"/>
<rect x="346.85" y="212.59" width="11.63" height="11.65" fill="#ddf800"/>
<rect x="358.38" y="212.59" width="11.63" height="11.65" fill="#d9f800"/>
<rect x="369.91" y="212.59" width="11.63" height="11.65" fill="#d7f800"/>
<rect x="381.44" y="212.59" width="11.63" height="11.65" fill="#d5f800"/>
<rect x="392.97" y="212.59" width="11.63" height="11.65" fill="#d6f800"/>
<rect x="404.50" y="212.59" width="11.63" height="11.65" fill="#d7f800"/>
<rect x="416.03" y="212.59" width="11.63" height="11.65" fill="#d6f800"/>
<rect x="427.56" y="212.59" width="11.63" height="11.65" fill="#dcf800"/>
<rect x="439.09" y="212.59" width="11.63" height="11.65" fill="#d5f800"/>
<rect x="450.62" y="212.59" width="11.63" height="11.65" fill="#c5f800"/>
<rect x="462.15" y="212.59" width="11.63" height="11.65" fill="#b9f800"/>
<rect x="473.68" y="212.59" width="11.63" height="11.65" fill="#b5f700"/>
<rect x="485.21" y="212.59" width="11.63" height="11.65" fill="#abf700"/>
<rect x="496.74" y="212.59" width="11.63" height="11.65" fill="#a3f700"/>
<rect x="508.27" y="212.59" width="11.63" height="11.65" fill="#a1f700"/>
<rect x="519.80" y="212.59" width="11.63" height="11.65" fill="#9df700"/>
<rect x="116.25" y="224.14" width="11.63" height="11.65" fill="#a7f700"/>
<rect x="127.78" y="224.14" width="11.63" height="11.65" fill="#a8f700"/>
<rect x="139.31" y="224.14" width="11.63" height="11.65" fill="#b3f700"/>
<rect x="150.84" y="224.14" width="11.63" height="11.65" fill="#b7f800"/>
<rect x="162.37" y="224.14" width="11.63" height="11.65" fill="#b2f700"/>
<rect x="173.90" y="224.14" width="11.63" height="11.65" fill="#b1f700"/>
<rect x="185.43" y="224.14" width="11.63" height="11.65" fill="#acf700"/>
<rect x="196.96" y="224.14" width="11.63" height="11.65" fill="#9ef700"/>
<rect x="208.49" y="224.14" width="11.63" height="11.65" fill="#89f600"/>
<rect x="220.02" y="224.14" width="11.63" height="11.65" fill="#89f600"/>
<rect x="231.55" y="224.14" width="11.63" height="11.65" fill="#9af700"/>
<rect x="243.08" y="224.14" width="11.63" height="11.65" fill="#a4f700"/>
<rect x="254.61" y="224.14" width="11.63" height="11.65" fill="#a7f700"/>
<rect x="266.14" y="224.14" width="11.63" height="11.65" fill="#abf700"/>
<rect x="277.67" y="224.14" width="11.63" height="11.65" fill="#b3f700"/>
<rect x="289.20" y="224.14" width="11.63" height="11.65" fill="#a9f700"/>
<rect x="300.73" y="224.14" width="11.63" height="11.65" fill="#b2f700"/>
<rect x="312.26" y="224.14" width="11.63" height="11.65" fill="#b9f800"/>
<rect x="323.79" y="224.14" width="11.63" height="11.65" fill="#cdf800"/>
<rect x="335.32" y="224.14" width="11.63" height="11.65" fill="#cff800"/>
<rect x="346.85" y="224.14" width="11.63" height="11.65" fill="#d4f800"/>
<rect x="358.38" y="224.14" width="11.63" height="11.65" fill="#d6f800"/>
<rect x="369.91" y="224.14" width="11.63" height="11.65" fill="#d7f800"/>
<rect x="381.44" y="224.14" width="11.63" height="11.65" fill="#daf800"/>
<rect x="392.97" y="224.14" width="11.63" height="11.65" fill="#e6f800"/>
<rect x="404.50" y="224.14" width="11.63" height="11.65" fill="#e3f800"/>
<rect x="416.03" y="224.14" width="11.63" height="11.65" fill="#daf800"/>
<rect x="427.56" y="224.14" width="11.63" height="11.65" fill="#c9f800"/>
<rect x="439.09" y="224.14" width="11.63" height="11.65" fill="#c6f800"/>
<rect x="450.62" y="224.14" width="11.63" height="11.65" fill="#c1f800"/>
<rect x="462.15" y="224.14" width="11.63" height="11.65" fill="#b5f800"/>
<rect x="473.68" y="224.14" width="11.63" height="11.65" fill="#a9f700"/>
<rect x="485.21" y="224.14" width="11.63" height="11.65" fill="#a7f700"/>
<rect x="496.74" y="224.14" width="11.63" height="11.65" fill="#9bf700"/>
<rect x="508.27" y="224.14" width="11.63" height="11.65" fill="#9cf700"/>
<rect x="519.80" y="224.14" width="11.63" height="11.65" fill="#a1f700"/>
<rect x="116.25" y="235.68" width="11.63" height="11.65" fill="#a6f700"/>
<rect x="127.78" y="235.68" width="11.63" height="11.65" fill="#abf700"/>
<rect x="139.31" y="235.68" width="11.63" height="11.65" fill="#b4f700"/>
<rect x="150.84" y="235.68" width="11.63" height="11.65" fill="#acf700"/>
<rect x="162.37" y="235.68" width="11.63" height="11.65" fill="#a6f700"/>
<rect x="173.90" y="235.68" width="11.63" height="11.65" fill="#a2f700"/>
<rect x="185.43" y="235.68" width="11.63" height="11.65" fill="#9ef700"/>
<rect x="196.96" y="235.68" width="11.63" height="11.65" fill="#9af600"/>
<rect x="208.49" y="235.68" width="11.63" height="11.65" fill="#9bf700"/>
<rect x="220.02" y="235.68" width="11.63" height="11.65" fill="#a2f700"/>
<rect x="231.55" y="235.68" width="11.63" height="11.65" fill="#aff700"/>
<rect x="243.08" y="235.68" width="11.63" height="11.65" fill="#b5f800"/>
<rect x="254.61" y="235.68" width="11.63" height="11.65" fill="#b0f700"/>
<rect x="266.14" y="235.68" width="11.63" height="11.65" fill="#adf700"/>
<rect x="277.67" y="235.68" width="11.63" height="11.65" fill="#a0f700"/>
<rect x="289.20" y="235.68" width="11.63" height="11.65" fill="#a8f700"/>
<rect x="300.73" y="235.68" width="11.63" height="11.65" fill="#a2f700"/>
<rect x="312.26" y="235.68" width="11.63" height="11.65" fill="#b3f700"/>
<rect x="323.79" y="235.68" width="11.63" height="11.65" fill="#baf800"/>
<rect x="335.32" y="235.68" width="11.63" height="11.65" fill="#c3f800"/>
<rect x="346.85" y="235.68" width="11.63" height="11.65" fill="#c3f800"/>
<rect x="358.38" y="235.68" width="11.63" height="11.65" fill="#caf800"/>
<rect x="369.91" y="235.68" width="11.63" height="11.65" fill="#d9f800"/>
<rect x="381.44" y="235.68" width="11.63" height="11.65" fill="#e3f800"/>
<rect x="392.97" y="235.68" width="11.63" height="11.65" fill="#f8dd00"/>
<rect x="404.50" y="235.68" width="11.63" height="11.65" fill="#e4f800"/>
<rect x="416.03" y="235.68" width="11.63" height="11.65" fill="#dbf800"/>
<rect x="427.56" y="235.68" width="11.63" height="11.65" fill="#d0f800"/>
<rect x="439.09" y="235.68" width="11.63" height="11.65" fill="#c4f800"/>
<rect x="450.62" y="235.68" width="11.63" height="11.65" fill="#b0f700"/>
<rect x="462.15" y="235.68" width="11.63" height="11.65" fill="#a9f700"/>
<rect x="473.68" y="235.68" width="11.63" height="11.65" fill="#95f600"/>
<rect x="485.21" y="235.68" width="11.63" height="11.65" fill="#94f600"/>
<rect x="496.74" y="235.68" width="11.63" height="11.65" fill="#91f600"/>
<rect x="508.27" y="235.68" width="11.63" height="11.65" fill="#91f600"/>
<rect x="519.80" y="235.68" width="11.63" height="11.65" fill="#89f600"/>
<rect x="116.25" y="247.23" width="11.63" height="11.65" fill="#9ff700"/>
<rect x="127.78" y="247.23" width="11.63" height="11.65" fill="#9df700"/>
<rect x="139.31" y="247.23" width="11.63" height="11.65" fill="#a1f700"/>
<rect x="150.84" y="247.23" width="11.63" height="11.65" fill="#a3f700"/>
<rect x="162.37" y="247.23" width="11.63" height="11.65" fill="#abf700"/>
<rect x="173.90" y="247.23" width="11.63" height="11.65" fill="#a3f700"/>
<rect x="185.43" y="247.23" width="11.63" height="11.65" fill="#93f600"/>
<rect x="196.96" y="247.23" width="11.63" height="11.65" fill="#8df600"/>
<rect x="208.49" y="247.23" width="11.63" height="11.65" fill="#9af700"/>
<rect x="220.02" y="247.23" width="11.63" height="11.65" fill="#a8f700"/>
<rect x="231.55" y="247.23" width="11.63" height="11.65" fill="#b0f700"/>
<rect x="243.08" y="247.23" width="11.63" height="11.65" fill="#b1f700"/>
<rect x="254.61" y="247.23" width="11.63" height="11.65" fill="#b4f700"/>
<rect x="266.14" y="247.23" width="11.63" height="11.65" fill="#b2f700"/>
<rect x="277.67" y="247.23" width="11.63" height="11.65" fill="#9ef700"/>
<rect x="289.20" y="247.23" width="11.63" height="11.65" fill="#95f600"/>
<rect x="300.73" y="247.23" width="11.63" height="11.65" fill="#99f600"/>
<rect x="312.26" y="247.23" width="11.63" height="11.65" fill="#a2f700"/>
<rect x="323.79" y="247.23" width="11.63" height="11.65" fill="#b1f700"/>
<rect x="335.32" y="247.23" width="11.63" height="11.65" fill="#aef700"/>
<rect x="346.85" y="247.23" width="11.63" height="11.65" fill="#b6f800"/>
<rect x="358.38" y="247.23" width="11.63" height="11.65" fill="#bbf800"/>
<rect x="369.91" y="247.23" width="11.63" height="11.65" fill="#d2f800"/>
<rect x="381.44" y="247.23" width="11.63" height="11.65" fill="#e0f800"/>
<rect x="392.97" y="247.23" width="11.63" height="11.65" fill="#f5f800"/>
<rect x="404.50" y="247.23" width="11.63" height="11.65" fill="#eef800"/>
<rect x="416.03" y="247.23" width="11.63" height="11.65" fill="#e9f800"/>
<rect x="427.56" y="247.23" width="11.63" height="11.65" fill="#d4f800"/>
<rect x="439.09" y="247.23" width="11.63" height="11.65" fill="#c3f800"/>
<rect x="450.62" y="247.23" width="11.63" height="11.65" fill="#b5f700"/>
<rect x="462.15" y="247.23" width="11.63" height="11.65" fill="#9df700"/>
<rect x="473.68" y="247.23" width="11.63" height="11.65" fill="#94f600"/>
<rect x="485.21" y="247.23" width="11.63" height="11.65" fill="#87f600"/>
<rect x="496.74" y="247.23" width="11.63" height="11.65" fill="#7af500"/>
<rect x="508.27" y="247.23" width="11.63" height="11.65" fill="#72f400"/>
<rect x="519.80" y="247.23" width="11.63" height="11.65" fill="#71f400"/>
<rect x="116.25" y="258.77" width="11.63" height="11.65" fill="#95f600"/>
<rect x="127.78" y="258.77" width="11.63" height="11.65" fill="#9bf700"/>
<rect x="139.31" y="258.77" width="11.63" height="11.65" fill="#96f600"/>
<rect x="150.84" y="258.77" width="11.63" height="11.65" fill="#9bf700"/>
<rect x="162.37" y="258.77" width="11.63" height="11.65" fill="#98f600"/>
<rect x="173.90" y="258.77" width="11.63" height="11.65" fill="#a0f700"/>
<rect x="185.43" y="258.77" width="11.63" height="11.65" fill="#91f600"/>
<rect x="196.96" y="258.77" width="11.63" height="11.65" fill="#90f600"/>
<rect x="208.49" y="258.77" width="11.63" height="11.65" fill="#95f600"/>
<rect x="220.02" y="258.77" width="11.63" height="11.65" fill="#a2f700"/>
<rect x="231.55" y="258.77" width="11.63" height="11.65" fill="#b3f700"/>
<rect x="243.08" y="258.77" width="11.63" height="11.65" fill="#b7f800"/>
<rect x="254.61" y="258.77" width="11.63" height="11.65" fill="#b5f700"/>
<rect x="266.14" y="258.77" width="11.63" height="11.65" fill="#b4f700"/>
<rect x="277.67" y="258.77" width="11.63" height="11.65" fill="#a7f700"/>
<rect x="289.20" y="258.77" width="11.63" height="11.65" fill="#96f600"/>
<rect x="300.73" y="258.77" width="11.63" height="11.65" fill="#94f600"/>
<rect x="312.26" y="258.77" width="11.63" height="11.65" fill="#a1f700"/>
<rect x="323.79" y="258.77" width="11.63" height="11.65" fill="#a4f700"/>
<rect x="335.32" y="258.77" width="11.63" height="11.65" fill="#9bf700"/>
<rect x="346.85" y="258.77" width="11.63" height="11.65" fill="#a2f700"/>
<rect x="358.38" y="258.77" width="11.63" height="11.65" fill="#aaf700"/>
<rect x="369.91" y="258.77" width="11.63" height="11.65" fill="#c8f800"/>
<rect x="381.44" y="258.77" width="11.63" height="11.65" fill="#e2f800"/>
<rect x="392.97" y="258.77" width="11.63" height="11.65" fill="#ebf800"/>
<rect x="404.50" y="258.77" width="11.63" height="11.65" fill="#eff800"/>
<rect x="416.03" y="258.77" width="11.63" height="11.65" fill="#f1f800"/>
<rect x="427.56" y="258.77" width="11.63" height="11.65" fill="#f8d900"/>
<rect x="439.09" y="258.77" width="11.63" height="11.65" fill="#d5f800"/>
<rect x="450.62" y="258.77" width="11.63" height="11.65" fill="#adf700"/>
<rect x="462.15" y="258.77" width="11.63" height="11.65" fill="#a2f700"/>
<rect x="473.68" y="258.77" width="11.63" height="11.65" fill="#7df500"/>
<rect x="485.21" y="258.77" width="11.63" height="11.65" fill="#77f500"/>
<rect x="496.74" y="258.77" width="11.63" height="11.65" fill="#75f500"/>
<rect x="508.27" y="258.77" width="11.63" height="11.65" fill="#6bf400"/>
<rect x="519.80" y="258.77" width="11.63" height="11.65" fill="#60f300"/>
<rect x="116.25" y="270.32" width="11.63" height="11.65" fill="#80f500"/>
<rect x="127.78" y="270.32" width="11.63" height="11.65" fill="#88f600"/>
<rect x="139.31" y="270.32" width="11.63" height="11.65" fill="#89f600"/>
<rect x="150.84" y="270.32" width="11.63" height="11.65" fill="#92f600"/>
<rect x="162.37" y="270.32" width="11.63" height="11.65" fill="#87f600"/>
<rect x="173.90" y="270.32" width="11.63" height="11.65" fill="#8cf600"/>
<rect x="185.43" y="270.32" width="11.63" height="11.65" fill="#98f600"/>
<rect x="196.96" y="270.32" width="11.63" height="11.65" fill="#90f600"/>
<rect x="208.49" y="270.32" width="11.63" height="11.65" fill="#98f600"/>
<rect x="220.02" y="270.32" width="11.63" height="11.65" fill="#a5f700"/>
<rect x="231.55" y="270.32" width="11.63" height="11.65" fill="#adf700"/>
<rect x="243.08" y="270.32" width="11.63" height="11.65" fill="#a8f700"/>
<rect x="254.61" y="270.32" width="11.63" height="11.65" fill="#aaf700"/>
<rect x="266.14" y="270.32" width="11.63" height="11.65" fill="#a8f700"/>
<rect x="277.67" y="270.32" width="11.63" height="11.65" fill="#abf700"/>
<rect x="289.20" y="270.32" width="11.63" height="11.65" fill="#9bf700"/>
<rect x="300.73" y="270.32" width="11.63" height="11.65" fill="#9ff700"/>
<rect x="312.26" y="270.32" width="11.63" height="11.65" fill="#9ff700"/>
<rect x="323.79" y="270.32" width="11.63" height="11.65" fill="#98f600"/>
<rect x="335.32" y="270.32" width="11.63" height="11.65" fill="#97f600"/>
<rect x="346.85" y="270.32" width="11.63" height="11.65" fill="#a0f700"/>
<rect x="358.38" y="270.32" width="11.63" height="11.65" fill="#a9f700"/>
<rect x="369.91" y="270.32" width="11.63" height="11.65" fill="#bbf800"/>
<rect x="381.44" y="270.32" width="11.63" height="11.65" fill="#def800"/>
<rect x="392.97" y="270.32" width="11.63" height="11.65" fill="#eaf800"/>
<rect x="404.50" y="270.32" width="11.63" height="11.65" fill="#f1f800"/>
<rect x="416.03" y="270.32" width="11.63" height="11.65" fill="#ecf800"/>
<rect x="427.56" y="270.32" width="11.63" height="11.65" fill="#e7f800"/>
<rect x="439.09" y="270.32" width="11.63" height="11.65" fill="#cff800"/>
<rect x="450.62" y="270.32" width="11.63" height="11.65" fill="#b1f700"/>
<rect x="462.15" y="270.32" width="11.63" height="11.65" fill="#99f600"/>
<rect x="473.68" y="270.32" width="11.63" height="11.65" fill="#6cf400"/>
<rect x="485.21" y="270.32" width="11.63" height="11.65" fill="#66f400"/>
<rect x="496.74" y="270.32" width="11.63" height="11.65" fill="#5ff300"/>
<rect x="508.27" y="270.32" width="11.63" height="11.65" fill="#5cf300"/>
<rect x="519.80" y="270.32" width="11.63" height="11.65" fill="#56f300"/>
<rect x="116.25" y="281.87" width="11.63" height="11.65" fill="#75f500"/>
<rect x="127.78" y="281.87" width="11.63" height="11.65" fill="#71f400"/>
<rect x="139.31" y="281.87" width="11.63" height="11.65" fill="#71f400"/>
<rect x="150.84" y="281.87" width="11.63" height="11.65" fill="#70f400"/>
<rect x="162.37" y="281.87" width="11.63" height="11.65" fill="#77f500"/>
<rect x="173.90" y="281.87" width="11.63" height="11.65" fill="#75f500"/>
<rect x="185.43" y="281.87" width="11.63" height="11.65" fill="#8ef600"/>
<rect x="196.96" y="281.87" width="11.63" height="11.65" fill="#96f600"/>
<rect x="208.49" y="281.87" width="11.63" height="11.65" fill="#9bf700"/>
<rect x="220.02" y="281.87" width="11.63" height="11.65" fill="#a0f700"/>
<rect x="231.55" y="281.87" width="11.63" height="11.65" fill="#a5f700"/>
<rect x="243.08" y="281.87" width="11.63" height="11.65" fill="#a7f700"/>
<rect x="254.61" y="281.87" width="11.63" height="11.65" fill="#acf700"/>
<rect x="266.14" y="281.87" width="11.63" height="11.65" fill="#aef700"/>
<rect x="277.67" y="281.87" width="11.63" height="11.65" fill="#b2f700"/>
<rect x="289.20" y="281.87" width="11.63" height="11.65" fill="#a5f700"/>
<rect x="300.73" y="281.87" width="11.63" height="11.65" fill="#a0f700"/>
<rect x="312.26" y="281.87" width="11.63" height="11.65" fill="#a4f700"/>
<rect x="323.79" y="281.87" width="11.63" height="11.65" fill="#9ef700"/>
<rect x="335.32" y="281.87" width="11.63" height="11.65" fill="#9ef700"/>
<rect x="346.85" y="281.87" width="11.63" height="11.65" fill="#a2f700"/>
<rect x="358.38" y="281.87" width="11.63" height="11.65" fill="#aef700"/>
<rect x="369.91" y="281.87" width="11.63" height="11.65" fill="#b1f700"/>
<rect x="381.44" y="281.87" width="11.63" height="11.65" fill="#cff800"/>
<rect x="392.97" y="281.87" width="11.63" height="11.65" fill="#f8d900"/>
<rect x="404.50" y="281.87" width="11.63" height="11.65" fill="#f4f800"/>
<rect x="416.03" y="281.87" width="11.63" height="11.65" fill="#def800"/>
<rect x="427.56" y="281.87" width="11.63" height="11.65" fill="#c9f800"/>
<rect x="439.09" y="281.87" width="11.63" height="11.65" fill="#aff700"/>
<rect x="450.62" y="281.87" width="11.63" height="11.65" fill="#a7f700"/>
<rect x="462.15" y="281.87" width="11.63" height="11.65" fill="#88f600"/>
<rect x="473.68" y="281.87" width="11.63" height="11.65" fill="#62f300"/>
<rect x="485.21" y="281.87" width="11.63" height="11.65" fill="#55f300"/>
<rect x="496.74" y="281.87" width="11.63" height="11.65" fill="#4cf200"/>
<rect x="508.27" y="281.87" width="11.63" height="11.65" fill="#42f101"/>
<rect x="519.80" y="281.87" width="11.63" height="11.65" fill="#3cf001"/>
<rect x="116.25" y="293.41" width="11.63" height="11.65" fill="#6df400"/>
<rect x="127.78" y="293.41" width="11.63" height="11.65" fill="#6bf400"/>
<rect x="139.31" y="293.41" width="11.63" height="11.65" fill="#5ff300"/>
<rect x="150.84" y="293.41" width="11.63" height="11.65" fill="#52f200"/>
<rect x="162.37" y="293.41" width="11.63" height="11.65" fill="#5cf300"/>
<rect x="173.90" y="293.41" width="11.63" height="11.65" fill="#63f300"/>
<rect x="185.43" y="293.41" width="11.63" height="11.65" fill="#82f500"/>
<rect x="196.96" y="293.41" width="11.63" height="11.65" fill="#8cf600"/>
<rect x="208.49" y="293.41" width="11.63" height="11.65" fill="#96f600"/>
<rect x="220.02" y="293.41" width="11.63" height="11.65" fill="#95f600"/>
<rect x="231.55" y="293.41" width="11.63" height="11.65" fill="#9df700"/>
<rect x="243.08" y="293.41" width="11.63" height="11.65" fill="#a5f700"/>
<rect x="254.61" y="293.41" width="11.63" height="11.65" fill="#aaf700"/>
<rect x="266.14" y="293.41" width="11.63" height="11.65" fill="#b7f800"/>
<rect x="277.67" y="293.41" width="11.63" height="11.65" fill="#b4f700"/>
<rect x="289.20" y="293.41" width="11.63" height="11.65" fill="#aef700"/>
<rect x="300.73" y="293.41" width="11.63" height="11.65" fill="#a9f700"/>
<rect x="312.26" y="293.41" width="11.63" height="11.65" fill="#aff700"/>
<rect x="323.79" y="293.41" width="11.63" height="11.65" fill="#aaf700"/>
<rect x="335.32" y="293.41" width="11.63" height="11.65" fill="#a9f700"/>
<rect x="346.85" y="293.41" width="11.63" height="11.65" fill="#b4f700"/>
<rect x="358.38" y="293.41" width="11.63" height="11.65" fill="#e9f800"/>
<rect x="369.91" y="293.41" width="11.63" height="11.65" fill="#bcf800"/>
<rect x="381.44" y="293.41" width="11.63" height="11.65" fill="#c1f800"/>
<rect x="392.97" y="293.41" width="11.63" height="11.65" fill="#f8d900"/>
<rect x="404.50" y="293.41" width="11.63" height="11.65" fill="#e4f800"/>
<rect x="416.03" y="293.41" width="11.63" height="11.65" fill="#cff800"/>
<rect x="427.56" y="293.41" width="11.63" height="11.65" fill="#bbf800"/>
<rect x="439.09" y="293.41" width="11.63" height="11.65" fill="#a8f700"/>
<rect x="450.62" y="293.41" width="11.63" height="11.65" fill="#9ff700"/>
<rect x="462.15" y="293.41" width="11.63" height="11.65" fill="#80f500"/>
<rect x="473.68" y="293.41" width="11.63" height="11.65" fill="#67f400"/>
<rect x="485.21" y="293.41" width="11.63" height="11.65" fill="#68f400"/>
<rect x="496.74" y="293.41" width="11.63" height="11.65" fill="#58f300"/>
<rect x="508.27" y="293.41" width="11.63" height="11.65" fill="#52f200"/>
<rect x="519.80" y="293.41" width="11.63" height="11.65" fill="#42f101"/>
<rect x="116.25" y="304.96" width="11.63" height="11.65" fill="#68f400"/>
<rect x="127.78" y="304.96" width="11.63" height="11.65" fill="#5cf300"/>
<rect x="139.31" y="304.96" width="11.63" height="11.65" fill="#4df200"/>
<rect x="150.84" y="304.96" width="11.63" height="11.65" fill="#4cf200"/>
<rect x="162.37" y="304.96" width="11.63" height="11.65" fill="#4cf200"/>
<rect x="173.90" y="304.96" width="11.63" height="11.65" fill="#51f200"/>
<rect x="185.43" y="304.96" width="11.63" height="11.65" fill="#7af500"/>
<rect x="196.96" y="304.96" width="11.63" height="11.65" fill="#8bf600"/>
<rect x="208.49" y="304.96" width="11.63" height="11.65" fill="#8af600"/>
<rect x="220.02" y="304.96" width="11.63" height="11.65" fill="#95f600"/>
<rect x="231.55" y="304.96" width="11.63" height="11.65" fill="#9df700"/>
<rect x="243.08" y="304.96" width="11.63" height="11.65" fill="#a7f700"/>
<rect x="254.61" y="304.96" width="11.63" height="11.65" fill="#aef700"/>
<rect x="266.14" y="304.96" width="11.63" height="11.65" fill="#b5f800"/>
<rect x="277.67" y="304.96" width="11.63" height="11.65" fill="#b6f800"/>
<rect x="289.20" y="304.96" width="11.63" height="11.65" fill="#aff700"/>
<rect x="300.73" y="304.96" width="11.63" height="11.65" fill="#a8f700"/>
<rect x="312.26" y="304.96" width="11.63" height="11.65" fill="#acf700"/>
<rect x="323.79" y="304.96" width="11.63" height="11.65" fill="#b5f700"/>
<rect x="335.32" y="304.96" width="11.63" height="11.65" fill="#b0f700"/>
<rect x="346.85" y="304.96" width="11.63" height="11.65" fill="#b4f700"/>
<rect x="358.38" y="304.96" width="11.63" height="11.65" fill="#b9f800"/>
<rect x="369.91" y="304.96" width="11.63" height="11.65" fill="#cbf800"/>
<rect x="381.44" y="304.96" width="11.63" height="11.65" fill="#f7e400"/>
<rect x="392.97" y="304.96" width="11.63" height="11.65" fill="#f7e400"/>
<rect x="404.50" y="304.96" width="11.63" height="11.65" fill="#c6f800"/>
<rect x="416.03" y="304.96" width="11.63" height="11.65" fill="#b1f700"/>
<rect x="427.56" y="304.96" width="11.63" height="11.65" fill="#adf700"/>
<rect x="439.09" y="304.96" width="11.63" height="11.65" fill="#abf700"/>
<rect x="450.62" y="304.96" width="11.63" height="11.65" fill="#9cf700"/>
<rect x="462.15" y="304.96" width="11.63" height="11.65" fill="#90f600"/>
<rect x="473.68" y="304.96" width="11.63" height="11.65" fill="#8bf600"/>
<rect x="485.21" y="304.96" width="11.63" height="11.65" fill="#7ff500"/>
<rect x="496.74" y="304.96" width="11.63" height="11.65" fill="#75f500"/>
<rect x="508.27" y="304.96" width="11.63" height="11.65" fill="#6cf400"/>
<rect x="519.80" y="304.96" width="11.63" height="11.65" fill="#70f400"/>
<rect x="116.25" y="316.51" width="11.63" height="11.65" fill="#52f200"/>
<rect x="127.78" y="316.51" width="11.63" height="11.65" fill="#50f200"/>
<rect x="139.31" y="316.51" width="11.63" height="11.65" fill="#3ef001"/>
<rect x="150.84" y="316.51" width="11.63" height="11.65" fill="#3cf001"/>
<rect x="162.37" y="316.51" width="11.63" height="11.65" fill="#4df200"/>
<rect x="173.90" y="316.51" width="11.63" height="11.65" fill="#63f300"/>
<rect x="185.43" y="316.51" width="11.63" height="11.65" fill="#76f500"/>
<rect x="196.96" y="316.51" width="11.63" height="11.65" fill="#82f500"/>
<rect x="208.49" y="316.51" width="11.63" height="11.65" fill="#8ef600"/>
<rect x="220.02" y="316.51" width="11.63" height="11.65" fill="#90f600"/>
<rect x="231.55" y="316.51" width="11.63" height="11.65" fill="#9af700"/>
<rect x="243.08" y="316.51" width="11.63" height="11.65" fill="#aff700"/>
<rect x="254.61" y="316.51" width="11.63" height="11.65" fill="#b0f700"/>
<rect x="266.14" y="316.51" width="11.63" height="11.65" fill="#b9f800"/>
<rect x="277.67" y="316.51" width="11.63" height="11.65" fill="#b6f800"/>
<rect x="289.20" y="316.51" width="11.63" height="11.65" fill="#65f400"/>
<rect x="300.73" y="316.51" width="11.63" height="11.65" fill="#b3f700"/>
<rect x="312.26" y="316.51" width="11.63" height="11.65" fill="#aff700"/>
<rect x="323.79" y="316.51" width="11.63" height="11.65" fill="#f6f000"/>
<rect x="335.32" y="316.51" width="11.63" height="11.65" fill="#b7f800"/>
<rect x="346.85" y="316.51" width="11.63" height="11.65" fill="#b6f800"/>
<rect x="358.38" y="316.51" width="11.63" height="11.65" fill="#bff800"/>
<rect x="369.91" y="316.51" width="11.63" height="11.65" fill="#c5f800"/>
<rect x="381.44" y="316.51" width="11.63" height="11.65" fill="#e6f800"/>
<rect x="392.97" y="316.51" width="11.63" height="11.65" fill="#def800"/>
<rect x="404.50" y="316.51" width="11.63" height="11.65" fill="#b2f700"/>
<rect x="416.03" y="316.51" width="11.63" height="11.65" fill="#a0f700"/>
<rect x="427.56" y="316.51" width="11.63" height="11.65" fill="#9af600"/>
<rect x="439.09" y="316.51" width="11.63" height="11.65" fill="#a1f700"/>
<rect x="450.62" y="316.51" width="11.63" height="11.65" fill="#a5f700"/>
<rect x="462.15" y="316.51" width="11.63" height="11.65" fill="#92f600"/>
<rect x="473.68" y="316.51" width="11.63" height="11.65" fill="#90f600"/>
<rect x="485.21" y="316.51" width="11.63" height="11.65" fill="#8ef600"/>
<rect x="496.74" y="316.51" width="11.63" height="11.65" fill="#89f600"/>
<rect x="508.27" y="316.51" width="11.63" height="11.65" fill="#75f500"/>
<rect x="519.80" y="316.51" width="11.63" height="11.65" fill="#6ff400"/>
<rect x="116.25" y="328.05" width="11.63" height="11.65" fill="#43f101"/>
<rect x="127.78" y="328.05" width="11.63" height="11.65" fill="#40f001"/>
<rect x="139.31" y="328.05" width="11.63" height="11.65" fill="#2fee02"/>
<rect x="150.84" y="328.05" width="11.63" height="11.65" fill="#36ef01"/>
<rect x="162.37" y="328.05" width="11.63" height="11.65" fill="#64f400"/>
<rect x="173.90" y="328.05" width="11.63" height="11.65" fill="#95f600"/>
<rect x="185.43" y="328.05" width="11.63" height="11.65" fill="#85f600"/>
<rect x="196.96" y="328.05" width="11.63" height="11.65" fill="#88f600"/>
<rect x="208.49" y="328.05" width="11.63" height="11.65" fill="#8ef600"/>
<rect x="220.02" y="328.05" width="11.63" height="11.65" fill="#8cf600"/>
<rect x="231.55" y="328.05" width="11.63" height="11.65" fill="#a0f700"/>
<rect x="243.08" y="328.05" width="11.63" height="11.65" fill="#a2f700"/>
<rect x="254.61" y="328.05" width="11.63" height="11.65" fill="#acf700"/>
<rect x="266.14" y="328.05" width="11.63" height="11.65" fill="#b8f800"/>
<rect x="277.67" y="328.05" width="11.63" height="11.65" fill="#c1f800"/>
<rect x="289.20" y="328.05" width="11.63" height="11.65" fill="#bff800"/>
<rect x="300.73" y="328.05" width="11.63" height="11.65" fill="#c1f800"/>
<rect x="312.26" y="328.05" width="11.63" height="11.65" fill="#f8dd00"/>
<rect x="323.79" y="328.05" width="11.63" height="11.65" fill="#b4f700"/>
<rect x="335.32" y="328.05" width="11.63" height="11.65" fill="#aef700"/>
<rect x="346.85" y="328.05" width="11.63" height="11.65" fill="#a7f700"/>
<rect x="358.38" y="328.05" width="11.63" height="11.65" fill="#abf700"/>
<rect x="369.91" y="328.05" width="11.63" height="11.65" fill="#bcf800"/>
<rect x="381.44" y="328.05" width="11.63" height="11.65" fill="#e2f800"/>
<rect x="392.97" y="328.05" width="11.63" height="11.65" fill="#a8f700"/>
<rect x="404.50" y="328.05" width="11.63" height="11.65" fill="#a2f700"/>
<rect x="416.03" y="328.05" width="11.63" height="11.65" fill="#8df600"/>
<rect x="427.56" y="328.05" width="11.63" height="11.65" fill="#7cf500"/>
<rect x="439.09" y="328.05" width="11.63" height="11.65" fill="#98f600"/>
<rect x="450.62" y="328.05" width="11.63" height="11.65" fill="#92f600"/>
<rect x="462.15" y="328.05" width="11.63" height="11.65" fill="#92f600"/>
<rect x="473.68" y="328.05" width="11.63" height="11.65" fill="#8af600"/>
<rect x="485.21" y="328.05" width="11.63" height="11.65" fill="#84f500"/>
<rect x="496.74" y="328.05" width="11.63" height="11.65" fill="#76f500"/>
<rect x="508.27" y="328.05" width="11.63" height="11.65" fill="#6ff400"/>
<rect x="519.80" y="328.05" width="11.63" height="11.65" fill="#6df400"/>
<rect x="116.25" y="339.60" width="11.63" height="11.65" fill="#29ed02"/>
<rect x="127.78" y="339.60" width="11.63" height="11.65" fill="#2dee02"/>
<rect x="139.31" y="339.60" width="11.63" height="11.65" fill="#28ed02"/>
<rect x="150.84" y="339.60" width="11.63" height="11.65" fill="#3ef001"/>
<rect x="162.37" y="339.60" width="11.63" height="11.65" fill="#5df300"/>
<rect x="173.90" y="339.60" width="11.63" height="11.65" fill="#77f500"/>
<rect x="185.43" y="339.60" width="11.63" height="11.65" fill="#7af500"/>
<rect x="196.96" y="339.60" width="11.63" height="11.65" fill="#7af500"/>
<rect x="208.49" y="339.60" width="11.63" height="11.65" fill="#85f600"/>
<rect x="220.02" y="339.60" width="11.63" height="11.65" fill="#8df600"/>
<rect x="231.55" y="339.60" width="11.63" height="11.65" fill="#93f600"/>
<rect x="243.08" y="339.60" width="11.63" height="11.65" fill="#99f600"/>
<rect x="254.61" y="339.60" width="11.63" height="11.65" fill="#a7f700"/>
<rect x="266.14" y="339.60" width="11.63" height="11.65" fill="#a7f700"/>
<rect x="277.67" y="339.60" width="11.63" height="11.65" fill="#aaf700"/>
<rect x="289.20" y="339.60" width="11.63" height="11.65" fill="#b2f700"/>
<rect x="300.73" y="339.60" width="11.63" height="11.65" fill="#b4f700"/>
<rect x="312.26" y="339.60" width="11.63" height="11.65" fill="#b8f800"/>
<rect x="323.79" y="339.60" width="11.63" height="11.65" fill="#b2f700"/>
<rect x="335.32" y="339.60" width="11.63" height="11.65" fill="#a6f700"/>
<rect x="346.85" y="339.60" width="11.63" height="11.65" fill="#a7f700"/>
<rect x="358.38" y="339.60" width="11.63" height="11.65" fill="#a0f700"/>
<rect x="369.91" y="339.60" width="11.63" height="11.65" fill="#b2f700"/>
<rect x="381.44" y="339.60" width="11.63" height="11.65" fill="#daf800"/>
<rect x="392.97" y="339.60" width="11.63" height="11.65" fill="#a0f700"/>
<rect x="404.50" y="339.60" width="11.63" height="11.65" fill="#85f600"/>
<rect x="416.03" y="339.60" width="11.63" height="11.65" fill="#6ef400"/>
<rect x="427.56" y="339.60" width="11.63" height="11.65" fill="#66f400"/>
<rect x="439.09" y="339.60" width="11.63" height="11.65" fill="#83f500"/>
<rect x="450.62" y="339.60" width="11.63" height="11.65" fill="#7cf500"/>
<rect x="462.15" y="339.60" width="11.63" height="11.65" fill="#7ff500"/>
<rect x="473.68" y="339.60" width="11.63" height="11.65" fill="#79f500"/>
<rect x="485.21" y="339.60" width="11.63" height="11.65" fill="#6ef400"/>
<rect x="496.74" y="339.60" width="11.63" height="11.65" fill="#67f400"/>
<rect x="508.27" y="339.60" width="11.63" height="11.65" fill="#56f300"/>
<rect x="519.80" y="339.60" width="11.63" height="11.65" fill="#5ef300"/>
<rect x="116.25" y="351.14" width="11.63" height="11.65" fill="#26ed02"/>
<rect x="127.78" y="351.14" width="11.63" height="11.65" fill="#31ee02"/>
<rect x="139.31" y="351.14" width="11.63" height="11.65" fill="#36ef01"/>
<rect x="150.84" y="351.14" width="11.63" height="11.65" fill="#3bf001"/>
<rect x="162.37" y="351.14" width="11.63" height="11.65" fill="#5ff300"/>
<rect x="173.90" y="351.14" width="11.63" height="11.65" fill="#6ef400"/>
<rect x="185.43" y="351.14" width="11.63" height="11.65" fill="#63f300"/>
<rect x="196.96" y="351.14" width="11.63" height="11.65" fill="#6af400"/>
<rect x="208.49" y="351.14" width="11.63" height="11.65" fill="#76f500"/>
<rect x="220.02" y="351.14" width="11.63" height="11.65" fill="#76f500"/>
<rect x="231.55" y="351.14" width="11.63" height="11.65" fill="#8df600"/>
<rect x="243.08" y="351.14" width="11.63" height="11.65" fill="#8ef600"/>
<rect x="254.61" y="351.14" width="11.63" height="11.65" fill="#9ff700"/>
<rect x="266.14" y="351.14" width="11.63" height="11.65" fill="#95f600"/>
<rect x="277.67" y="351.14" width="11.63" height="11.65" fill="#90f600"/>
<rect x="289.20" y="351.14" width="11.63" height="11.65" fill="#9cf700"/>
<rect x="300.73" y="351.14" width="11.63" height="11.65" fill="#a3f700"/>
<rect x="312.26" y="351.14" width="11.63" height="11.65" fill="#abf700"/>
<rect x="323.79" y="351.14" width="11.63" height="11.65" fill="#aff700"/>
<rect x="335.32" y="351.14" width="11.63" height="11.65" fill="#a9f700"/>
<rect x="346.85" y="351.14" width="11.63" height="11.65" fill="#9af700"/>
<rect x="358.38" y="351.14" width="11.63" height="11.65" fill="#98f600"/>
<rect x="369.91" y="351.14" width="11.63" height="11.65" fill="#9cf700"/>
<rect x="381.44" y="351.14" width="11.63" height="11.65" fill="#a3f700"/>
<rect x="392.97" y="351.14" width="11.63" height="11.65" fill="#91f600"/>
<rect x="404.50" y="351.14" width="11.63" height="11.65" fill="#80f500"/>
<rect x="416.03" y="351.14" width="11.63" height="11.65" fill="#5df300"/>
<rect x="427.56" y="351.14" width="11.63" height="11.65" fill="#5af300"/>
<rect x="439.09" y="351.14" width="11.63" height="11.65" fill="#51f200"/>
<rect x="450.62" y="351.14" width="11.63" height="11.65" fill="#52f200"/>
<rect x="462.15" y="351.14" width="11.63" height="11.65" fill="#47f100"/>
<rect x="473.68" y="351.14" width="11.63" height="11.65" fill="#3aef01"/>
<rect x="485.21" y="351.14" width="11.63" height="11.65" fill="#3ff001"/>
<rect x="496.74" y="351.14" width="11.63" height="11.65" fill="#36ef01"/>
<rect x="508.27" y="351.14" width="11.63" height="11.65" fill="#33ee01"/>
<rect x="519.80" y="351.14" width="11.63" height="11.65" fill="#36ef01"/>
<rect x="116.25" y="362.69" width="11.63" height="11.65" fill="#1aeb03"/>
<rect x="127.78" y="362.69" width="11.63" height="11.65" fill="#2eee02"/>
<rect x="139.31" y="362.69" width="11.63" height="11.65" fill="#30ee02"/>
<rect x="150.84" y="362.69" width="11.63" height="11.65" fill="#3bf001"/>
<rect x="162.37" y="362.69" width="11.63" height="11.65" fill="#55f300"/>
<rect x="173.90" y="362.69" width="11.63" height="11.65" fill="#55f300"/>
<rect x="185.43" y="362.69" width="11.63" height="11.65" fill="#60f300"/>
<rect x="196.96" y="362.69" width="11.63" height="11.65" fill="#5bf300"/>
<rect x="208.49" y="362.69" width="11.63" height="11.65" fill="#5cf300"/>
<rect x="220.02" y="362.69" width="11.63" height="11.65" fill="#6cf400"/>
<rect x="231.55" y="362.69" width="11.63" height="11.65" fill="#77f500"/>
<rect x="243.08" y="362.69" width="11.63" height="11.65" fill="#80f500"/>
<rect x="254.61" y="362.69" width="11.63" height="11.65" fill="#91f600"/>
<rect x="266.14" y="362.69" width="11.63" height="11.65" fill="#83f500"/>
<rect x="277.67" y="362.69" width="11.63" height="11.65" fill="#79f500"/>
<rect x="289.20" y="362.69" width="11.63" height="11.65" fill="#7cf500"/>
<rect x="300.73" y="362.69" width="11.63" height="11.65" fill="#a2f700"/>
<rect x="312.26" y="362.69" width="11.63" height="11.65" fill="#b3f700"/>
<rect x="323.79" y="362.69" width="11.63" height="11.65" fill="#b2f700"/>
<rect x="335.32" y="362.69" width="11.63" height="11.65" fill="#e2f800"/>
<rect x="346.85" y="362.69" width="11.63" height="11.65" fill="#95f600"/>
<rect x="358.38" y="362.69" width="11.63" height="11.65" fill="#7ff500"/>
<rect x="369.91" y="362.69" width="11.63" height="11.65" fill="#7ff500"/>
<rect x="381.44" y="362.69" width="11.63" height="11.65" fill="#7cf500"/>
<rect x="392.97" y="362.69" width="11.63" height="11.65" fill="#78f500"/>
<rect x="404.50" y="362.69" width="11.63" height="11.65" fill="#67f400"/>
<rect x="416.03" y="362.69" width="11.63" height="11.65" fill="#56f300"/>
<rect x="427.56" y="362.69" width="11.63" height="11.65" fill="#4cf200"/>
<rect x="439.09" y="362.69" width="11.63" height="11.65" fill="#30ee02"/>
<rect x="450.62" y="362.69" width="11.63" height="11.65" fill="#25ec02"/>
<rect x="462.15" y="362.69" width="11.63" height="11.65" fill="#22ec02"/>
<rect x="473.68" y="362.69" width="11.63" height="11.65" fill="#11ea03"/>
<rect x="485.21" y="362.69" width="11.63" height="11.65" fill="#11ea03"/>
<rect x="496.74" y="362.69" width="11.63" height="11.65" fill="#17ea03"/>
<rect x="508.27" y="362.69" width="11.63" height="11.65" fill="#13ea03"/>
<rect x="519.80" y="362.69" width="11.63" height="11.65" fill="#17ea03"/>
<rect x="116.25" y="374.24" width="11.63" height="11.65" fill="#17ea03"/>
<rect x="127.78" y="374.24" width="11.63" height="11.65" fill="#21ec02"/>
<rect x="139.31" y="374.24" width="11.63" height="11.65" fill="#27ed02"/>
<rect x="150.84" y="374.24" width="11.63" height="11.65" fill="#2ced02"/>
<rect x="162.37" y="374.24" width="11.63" height="11.65" fill="#43f100"/>
<rect x="173.90" y="374.24" width="11.63" height="11.65" fill="#49f200"/>
<rect x="185.43" y="374.24" width="11.63" height="11.65" fill="#43f101"/>
<rect x="196.96" y="374.24" width="11.63" height="11.65" fill="#4ef200"/>
<rect x="208.49" y="374.24" width="11.63" height="11.65" fill="#3ef001"/>
<rect x="220.02" y="374.24" width="11.63" height="11.65" fill="#4af200"/>
<rect x="231.55" y="374.24" width="11.63" height="11.65" fill="#62f300"/>
<rect x="243.08" y="374.24" width="11.63" height="11.65" fill="#7bf500"/>
<rect x="254.61" y="374.24" width="11.63" height="11.65" fill="#8af600"/>
<rect x="266.14" y="374.24" width="11.63" height="11.65" fill="#8af600"/>
<rect x="277.67" y="374.24" width="11.63" height="11.65" fill="#7bf500"/>
<rect x="289.20" y="374.24" width="11.63" height="11.65" fill="#8af600"/>
<rect x="300.73" y="374.24" width="11.63" height="11.65" fill="#a1f700"/>
<rect x="312.26" y="374.24" width="11.63" height="11.65" fill="#b4f700"/>
<rect x="323.79" y="374.24" width="11.63" height="11.65" fill="#bef800"/>
<rect x="335.32" y="374.24" width="11.63" height="11.65" fill="#f8d900"/>
<rect x="346.85" y="374.24" width="11.63" height="11.65" fill="#89f600"/>
<rect x="358.38" y="374.24" width="11.63" height="11.65" fill="#5af300"/>
<rect x="369.91" y="374.24" width="11.63" height="11.65" fill="#5ff300"/>
<rect x="381.44" y="374.24" width="11.63" height="11.65" fill="#5cf300"/>
<rect x="392.97" y="374.24" width="11.63" height="11.65" fill="#57f300"/>
<rect x="404.50" y="374.24" width="11.63" height="11.65" fill="#5bf300"/>
<rect x="416.03" y="374.24" width="11.63" height="11.65" fill="#3ef001"/>
<rect x="427.56" y="374.24" width="11.63" height="11.65" fill="#37ef01"/>
<rect x="439.09" y="374.24" width="11.63" height="11.65" fill="#27ed02"/>
<rect x="450.62" y="374.24" width="11.63" height="11.65" fill="#1beb03"/>
<rect x="462.15" y="374.24" width="11.63" height="11.65" fill="#14ea03"/>
<rect x="473.68" y="374.24" width="11.63" height="11.65" fill="#1fec03"/>
<rect x="485.21" y="374.24" width="11.63" height="11.65" fill="#11ea03"/>
<rect x="496.74" y="374.24" width="11.63" height="11.65" fill="#1beb03"/>
<rect x="508.27" y="374.24" width="11.63" height="11.65" fill="#21ec02"/>
<rect x="519.80" y="374.24" width="11.63" height="11.65" fill="#13ea03"/>
<rect x="116.25" y="385.78" width="11.63" height="11.65" fill="#14ea03"/>
<rect x="127.78" y="385.78" width="11.63" height="11.65" fill="#1eeb03"/>
<rect x="139.31" y="385.78" width="11.63" height="11.65" fill="#21ec02"/>
<rect x="150.84" y="385.78" width="11.63" height="11.65" fill="#2dee02"/>
<rect x="162.37" y="385.78" width="11.63" height="11.65" fill="#3ff001"/>
<rect x="173.90" y="385.78" width="11.63" height="11.65" fill="#3aef01"/>
<rect x="185.43" y="385.78" width="11.63" height="11.65" fill="#3df001"/>
<rect x="196.96" y="385.78" width="11.63" height="11.65" fill="#38ef01"/>
<rect x="208.49" y="385.78" width="11.63" height="11.65" fill="#2aed02"/>
<rect x="220.02" y="385.78" width="11.63" height="11.65" fill="#47f100"/>
<rect x="231.55" y="385.78" width="11.63" height="11.65" fill="#64f300"/>
<rect x="243.08" y="385.78" width="11.63" height="11.65" fill="#77f500"/>
<rect x="254.61" y="385.78" width="11.63" height="11.65" fill="#78f500"/>
<rect x="266.14" y="385.78" width="11.63" height="11.65" fill="#88f600"/>
<rect x="277.67" y="385.78" width="11.63" height="11.65" fill="#84f600"/>
<rect x="289.20" y="385.78" width="11.63" height="11.65" fill="#93f600"/>
<rect x="300.73" y="385.78" width="11.63" height="11.65" fill="#aff700"/>
<rect x="312.26" y="385.78" width="11.63" height="11.65" fill="#b5f700"/>
<rect x="323.79" y="385.78" width="11.63" height="11.65" fill="#c4f800"/>
<rect x="335.32" y="385.78" width="11.63" height="11.65" fill="#acf700"/>
<rect x="346.85" y="385.78" width="11.63" height="11.65" fill="#78f500"/>
<rect x="358.38" y="385.78" width="11.63" height="11.65" fill="#36ef01"/>
<rect x="369.91" y="385.78" width="11.63" height="11.65" fill="#36ef01"/>
<rect x="381.44" y="385.78" width="11.63" height="11.65" fill="#42f101"/>
<rect x="392.97" y="385.78" width="11.63" height="11.65" fill="#4ef200"/>
<rect x="404.50" y="385.78" width="11.63" height="11.65" fill="#51f200"/>
<rect x="416.03" y="385.78" width="11.63" height="11.65" fill="#41f001"/>
<rect x="427.56" y="385.78" width="11.63" height="11.65" fill="#2bed02"/>
<rect x="439.09" y="385.78" width="11.63" height="11.65" fill="#22ec02"/>
<rect x="450.62" y="385.78" width="11.63" height="11.65" fill="#19eb03"/>
<rect x="462.15" y="385.78" width="11.63" height="11.65" fill="#1fec03"/>
<rect x="473.68" y="385.78" width="11.63" height="11.65" fill="#1aeb03"/>
<rect x="485.21" y="385.78" width="11.63" height="11.65" fill="#16ea03"/>
<rect x="496.74" y="385.78" width="11.63" height="11.65" fill="#1ceb03"/>
<rect x="508.27" y="385.78" width="11.63" height="11.65" fill="#22ec02"/>
<rect x="519.80" y="385.78" width="11.63" height="11.65" fill="#15ea03"/>
</g></g>
<use href="#landshape" fill="none" stroke="#505040" stroke-width="0.7"/>
<path d="M466.2,326.7 L468.5,326.0 L470.3,330.0 L470.5,335.5 L468.5,336.5 L467.0,332.0Z" fill="#fff" stroke="#666" stroke-width="0.4"/>
<path d="M447.0,336.5 L451.5,335.5 L452.5,340.0 L454.5,346.0 L452.0,349.5 L449.0,344.5 L446.5,341.0Z" fill="#fff" stroke="#666" stroke-width="0.4"/>
<path d="M401.5,386.5 L405.0,384.0 L409.0,385.0 L413.5,384.5 L414.8,388.0 L411.0,390.5 L407.0,388.5 L403.0,389.5Z" fill="#fff" stroke="#666" stroke-width="0.4"/>
<path d="M461.0,286.0 L466.0,288.5 L471.5,285.0 L476.0,278.5 L479.0,278.5 L475.0,286.0 L469.0,291.5 L463.0,291.0Z" fill="#fff" stroke="#666" stroke-width="0.4"/>
<path d="M504.1,259.3 L505.5,261.2 L503.3,264.3 L497.2,266.1 L491.3,266.5 L489.4,264.2 L486.2,262.4 L490.5,259.4 L495.9,258.5 L500.3,256.5 L502.1,258.3Z" fill="none" stroke="#444" stroke-width="0.5"/>
<path d="M497.1,248.9 L494.8,249.8 L493.6,252.6 L490.3,251.8 L489.0,249.2 L487.5,247.2 L489.5,245.8 L490.9,244.8 L492.9,244.5 L495.7,244.5 L495.7,246.9Z" fill="none" stroke="#444" stroke-width="0.5"/>
<path d="M485.0,244.5 L484.8,245.6 L483.9,245.3 L483.3,244.5 L483.8,243.4 L484.7,243.5Z" fill="none" stroke="#444" stroke-width="0.5"/>
<path d="M489.0,260.5 L485.9,260.7 L483.8,261.6 L481.0,260.4 L480.6,258.0 L480.7,256.7 L479.9,254.4 L482.5,255.0 L484.4,254.7 L487.5,255.3 L488.9,257.9Z" fill="none" stroke="#444" stroke-width="0.5"/>
<path d="M481.1,255.0 L480.4,256.9 L478.8,257.5 L477.7,256.3 L477.2,255.0 L477.4,253.2 L478.8,252.4 L479.7,253.9Z" fill="none" stroke="#444" stroke-width="0.5"/>
<path d="M502.9,270.8 L498.8,271.4 L496.8,273.0 L491.9,272.7 L489.8,270.1 L485.8,268.4 L488.4,267.1 L491.0,266.7 L493.7,266.3 L498.1,266.5 L498.4,268.7Z" fill="none" stroke="#444" stroke-width="0.5"/>
<path d="M489.0,266.5 L488.4,267.9 L486.5,267.6 L484.5,267.9 L483.9,266.5 L485.4,265.7 L486.5,264.6 L488.3,265.2Z" fill="none" stroke="#444" stroke-width="0.5"/>
<path d="M505.5,269.4 L504.8,270.5 L502.6,270.6 L501.1,269.0 L501.1,267.5 L502.4,266.8 L504.0,267.2 L506.3,267.9Z" fill="none" stroke="#444" stroke-width="0.5"/>
<path d="M507.7,256.5 L507.9,257.8 L506.0,258.3 L504.6,257.5 L504.1,256.5 L504.7,255.6 L506.0,255.4 L507.3,255.6Z" fill="none" stroke="#444" stroke-width="0.5"/>
<path d="M490.4,252.5 L490.1,253.3 L489.0,253.6 L488.1,253.1 L487.4,252.5 L487.6,251.5 L489.0,251.4 L490.1,251.7Z" fill="none" stroke="#444" stroke-width="0.5"/>
<path d="M502.8,252.0 L501.7,252.7 L500.5,253.2 L499.4,252.6 L498.7,252.0 L499.4,251.4 L500.5,251.0 L501.4,251.5Z" fill="none" stroke="#444" stroke-width="0.5"/>
<path d="M484.9,263.0 L483.9,263.7 L483.0,264.5 L481.9,263.8 L481.5,263.0 L481.8,262.1 L483.0,262.0 L483.9,262.3Z" fill="none" stroke="#444" stroke-width="0.5"/>
<path d="M500.5,272.5 L500.2,273.3 L499.0,273.6 L497.8,273.3 L497.1,272.5 L497.8,271.7 L499.0,271.7 L499.9,271.9Z" fill="none" stroke="#444" stroke-width="0.5"/>
<path d="M479.4,262.5 L479.2,263.6 L477.8,263.5 L477.6,262.5 L477.9,261.6 L479.0,261.8Z" fill="none" stroke="#444" stroke-width="0.5"/>
<path d="M507.6,262.5 L507.0,263.6 L505.8,264.0 L505.4,262.5 L505.8,261.0 L507.0,261.4Z" fill="none" stroke="#444" stroke-width="0.5"/>
<path d="M492.1,231.2 L490.8,231.3 L489.8,231.2 L488.9,230.7 L488.0,229.9 L488.8,229.3 L490.3,229.4 L491.6,230.2Z" fill="none" stroke="#444" stroke-width="0.5"/>
<path d="M490.4,224.0 L489.7,224.3 L488.5,224.5 L487.7,224.2 L486.8,224.0 L487.2,223.7 L488.5,223.6 L489.6,223.7Z" fill="none" stroke="#444" stroke-width="0.5"/>
<path d="M508.4,226.6 L507.7,226.9 L506.6,226.9 L505.8,226.1 L505.4,225.3 L506.3,225.1 L507.4,225.1 L508.5,225.8Z" fill="none" stroke="#444" stroke-width="0.5"/>
<path d="M511.9,228.0 L511.0,228.5 L510.0,228.5 L509.4,228.0 L509.8,227.3 L511.0,227.5Z" fill="none" stroke="#444" stroke-width="0.5"/>
<path d="M517.3,218.3 L516.2,219.1 L515.3,219.9 L513.9,220.0 L512.7,219.7 L513.5,218.9 L514.8,218.3 L515.8,218.3Z" fill="none" stroke="#444" stroke-width="0.5"/>
<path d="M523.4,224.8 L522.9,225.6 L521.9,226.1 L521.5,224.8 L522.0,223.7 L523.1,223.5Z" fill="none" stroke="#444" stroke-width="0.5"/>
<path d="M502.5,236.2 L502.4,236.7 L500.9,236.7 L499.2,236.5 L498.9,235.8 L499.6,235.3 L501.1,235.0 L502.3,235.6Z" fill="none" stroke="#444" stroke-width="0.5"/>
<path d="M506.7,239.0 L506.1,239.5 L504.5,239.6 L502.5,239.6 L502.0,239.0 L502.7,238.4 L504.5,238.3 L506.4,238.4Z" fill="none" stroke="#444" stroke-width="0.5"/>
<path d="M502.2,232.0 L501.9,232.4 L501.0,232.5 L500.7,232.0 L500.9,231.4 L501.9,231.6Z" fill="none" stroke="#444" stroke-width="0.5"/>
<path d="M505.9,247.6 L504.1,248.2 L502.1,248.3 L500.3,249.0 L498.8,248.3 L496.8,247.9 L498.8,247.4 L499.3,247.0 L500.3,246.2 L502.9,246.5 L502.9,247.3Z" fill="none" stroke="#444" stroke-width="0.5"/>
<path d="M513.0,249.3 L511.9,249.7 L511.0,250.0 L510.0,249.7 L509.2,249.3 L510.0,248.9 L511.0,248.7 L512.2,248.8Z" fill="none" stroke="#444" stroke-width="0.5"/>
<path d="M517.6,249.8 L517.1,250.2 L516.0,250.3 L514.8,250.2 L514.5,249.8 L515.0,249.5 L516.0,249.4 L516.8,249.5Z" fill="none" stroke="#444" stroke-width="0.5"/>
<path d="M521.6,253.0 L521.4,253.5 L520.6,253.4 L520.4,253.0 L520.7,252.7 L521.5,252.5Z" fill="none" stroke="#444" stroke-width="0.5"/>
<path d="M530.0,251.4 L528.7,251.7 L527.5,251.9 L526.4,251.7 L526.1,251.4 L526.4,251.1 L527.5,250.9 L528.7,251.1Z" fill="none" stroke="#444" stroke-width="0.5"/>
<path d="M495.2,229.0 L494.9,229.5 L494.2,229.4 L493.6,229.0 L494.1,228.5 L494.9,228.4Z" fill="none" stroke="#444" stroke-width="0.5"/>
<path d="M513.3,228.5 L512.8,228.9 L512.0,229.1 L511.6,228.5 L512.1,227.9 L512.8,228.1Z" fill="none" stroke="#444" stroke-width="0.5"/>
<path d="M482.3,301.5 L482.1,302.3 L480.0,302.3 L478.4,302.1 L477.6,301.5 L477.7,300.6 L480.0,300.6 L481.9,300.8Z" fill="none" stroke="#444" stroke-width="0.5"/>
<path d="M481.4,316.5 L481.0,317.4 L480.0,318.2 L478.7,317.7 L478.7,316.5 L478.7,315.3 L480.0,314.7 L481.3,315.3Z" fill="none" stroke="#444" stroke-width="0.5"/>
<path d="M481.3,329.5 L480.9,330.8 L480.0,331.0 L479.6,329.5 L480.1,328.3 L480.9,328.2Z" fill="none" stroke="#444" stroke-width="0.5"/>
<path d="M447.0,356.0 L445.6,357.7 L443.6,359.8 L441.7,358.0 L441.6,354.9 L442.9,352.2 L445.0,353.1 L447.1,353.2Z" fill="none" stroke="#444" stroke-width="0.5"/>
<path d="M443.3,359.0 L442.6,360.4 L441.4,360.4 L440.8,359.0 L441.3,357.5 L442.5,358.0Z" fill="none" stroke="#444" stroke-width="0.5"/>
<path d="M432.8,366.5 L432.4,367.2 L431.6,367.2 L431.1,366.5 L431.6,365.8 L432.3,366.0Z" fill="none" stroke="#444" stroke-width="0.5"/>
<path d="M445.0,368.0 L444.9,368.5 L444.0,369.0 L443.2,368.5 L442.7,368.0 L442.8,367.3 L444.0,367.0 L445.0,367.4Z" fill="none" stroke="#444" stroke-width="0.5"/>
<path d="M450.0,369.5 L449.6,370.1 L448.3,370.2 L448.0,369.5 L448.3,368.8 L449.5,369.0Z" fill="none" stroke="#444" stroke-width="0.5"/>
<path d="M438.5,367.0 L438.4,367.6 L437.6,367.5 L437.1,367.0 L437.6,366.3 L438.4,366.4Z" fill="none" stroke="#444" stroke-width="0.5"/>
<path d="M445.5,376.2 L444.3,376.7 L443.3,377.1 L441.9,376.9 L441.9,376.2 L441.8,375.4 L443.3,375.5 L444.4,375.6Z" fill="none" stroke="#444" stroke-width="0.5"/>
<path d="M491.0,350.7 L490.4,351.2 L489.4,351.5 L489.2,350.7 L489.4,349.9 L490.4,350.2Z" fill="none" stroke="#444" stroke-width="0.5"/>
<path d="M495.0,285.8 L494.7,286.5 L494.0,286.4 L493.6,285.8 L494.0,285.3 L494.7,285.1Z" fill="none" stroke="#444" stroke-width="0.5"/>
<path d="M479.8,322.0 L479.3,324.3 L478.5,323.4 L478.1,322.0 L478.5,320.4 L479.3,319.8Z" fill="none" stroke="#444" stroke-width="0.5"/>
<path d="M453.5,352.0 L453.0,352.8 L452.0,353.5 L450.8,353.0 L450.2,352.0 L451.2,351.4 L452.0,350.9 L453.1,351.1Z" fill="none" stroke="#444" stroke-width="0.5"/>
<path d="M449.0,362.0 L448.2,363.0 L446.8,363.1 L446.7,362.0 L447.1,361.4 L448.0,361.2Z" fill="none" stroke="#444" stroke-width="0.5"/>
<path d="M465.0,192.5 L470.0,193.0 L476.0,195.0 L479.0,197.0 L476.0,197.5 L470.0,195.5Z" fill="none" stroke="#444" stroke-width="0.5"/>
<path d="M476.0,196.5 L480.0,197.5 L481.0,199.0 L478.0,199.0Z" fill="none" stroke="#444" stroke-width="0.5"/>
<g fill="#555">
</g>
<g clip-path="url(#frameclip)" fill="none" stroke="#4a4a18" stroke-width="0.75" stroke-opacity="0.8">
<path d="M169.4,28.0 L173.8,31.9 L181.7,35.9 L185.2,41.1 L187.8,46.4 L194.9,46.9 L203.6,45.9 L211.5,45.5 L217.6,47.3 L222.0,45.2 L226.0,43.4"/>
<path d="M226.0,43.4 L225.5,39.4 L229.0,35.0 L236.9,32.4 L245.7,30.1 L250.0,32.4 L254.4,36.8 L257.9,42.0 L261.4,48.2 L264.9,52.5 L268.4,49.4 L272.8,47.6 L279.0,45.9 L286.0,45.5 L292.1,43.4 L300.0,43.4 L306.1,45.2 L309.6,49.9 L312.3,54.6 L317.5,54.6 L325.0,51.7 L326.8,45.5 L332.1,41.1 L336.4,40.3 L339.1,33.3 L340.8,28.0"/>
<path d="M226.0,43.4 L221.1,47.6 L218.0,51.7 L220.3,56.0 L225.5,58.7 L231.6,60.4 L234.8,65.7 L236.9,71.8 L237.8,75.3 L232.5,78.8 L225.5,82.3 L219.4,86.2 L214.5,84.4 L211.5,79.7 L208.9,74.4 L203.6,71.5 L195.7,70.9 L191.0,73.9 L189.6,80.2 L190.5,87.2 L188.2,93.2 L181.2,95.5 L177.7,98.4 L175.9,105.1 L172.4,110.4 L167.2,113.9 L160.7,114.7 L158.1,120.0 L163.3,122.6 L171.2,125.3 L172.9,131.4 L176.5,139.3 L182.6,141.9 L189.6,146.3 L194.0,147.2 L200.1,143.7 L203.6,139.6 L205.4,141.0 L202.7,144.5 L204.5,151.5 L205.7,162.1 L205.0,170.8 L205.7,175.2 L198.4,177.8 L191.3,180.5 L186.1,184.8 L182.6,190.1 L180.0,194.5"/>
<path d="M231.6,60.4 L238.7,61.3 L247.1,56.4 L253.6,57.8 L256.2,63.0 L258.8,66.5 L264.9,68.7 L273.7,71.5 L281.6,72.7 L285.1,74.4 L286.8,80.6 L290.3,85.8 L298.2,86.7 L306.6,87.6 L308.7,92.5 L305.6,98.1 L302.1,103.3 L300.0,110.4 L304.4,115.6 L309.6,120.0 L312.0,124.4 L318.1,128.8 L321.6,132.3 L328.6,132.3 L336.5,128.8 L339.2,124.4 L342.7,122.6 L349.7,123.5 L354.9,127.9 L357.6,134.0 L356.7,141.0 L353.2,144.5 L347.9,141.9 L342.7,138.9 L334.8,138.4 L327.8,140.2 L328.6,144.5 L332.1,147.2 L331.3,152.4 L326.9,155.9 L321.6,160.3 L318.5,165.6 L319.0,170.8 L322.5,175.2 L326.9,176.9 L332.1,181.3 L339.2,184.0 L341.8,187.5 L339.2,191.8 L335.6,196.2 L337.4,200.6 L344.4,202.0 L353.2,200.3 L360.2,198.9 L365.4,201.0 L368.9,204.1 L375.9,205.9"/>
<path d="M376.6,207.5 L374.8,214.5 L371.3,221.5 L366.1,226.8 L359.0,231.2 L361.7,235.6 L366.1,238.2 L367.2,240.0 L360.2,242.6 L351.4,243.5 L343.5,244.4 L340.9,250.5 L341.8,257.5 L337.4,264.5 L333.9,270.7 L325.1,275.0 L318.1,279.4 L312.0,283.8 L309.4,286.4"/>
<path d="M376.6,207.5 L381.8,205.8 L388.8,206.6 L392.3,211.0 L397.6,214.5 L404.6,216.3 L409.9,218.0 L413.4,221.5 L417.7,223.3 L422.1,220.7 L425.6,216.3 L430.9,213.7 L436.1,211.0 L439.6,211.9"/>
<path d="M439.6,211.9 L440.5,206.6 L443.2,200.5 L444.9,195.3 L446.7,190.0 L447.5,187.4"/>
<path d="M439.6,211.9 L440.5,216.3 L443.2,220.7 L448.4,222.4 L451.0,225.0 L453.7,225.9"/>
<path d="M309.4,286.4 L307.0,282.1 L299.1,279.4 L290.3,277.7 L281.6,276.8 L277.2,272.4 L274.6,267.2 L269.3,263.7 L264.9,262.4 L261.4,264.5 L259.7,268.9 L256.2,272.4 L251.8,275.9 L245.7,277.7 L240.4,275.9 L238.7,272.4 L241.3,268.0 L247.4,264.5 L250.0,261.9 L246.5,257.5 L240.4,255.4 L236.0,257.5 L233.4,262.8 L226.4,266.3 L220.3,268.0 L215.0,268.4"/>
<path d="M180.0,194.7 L185.2,199.1 L189.6,202.6 L194.9,204.3 L200.1,206.9 L205.4,209.6 L210.6,212.7 L213.2,214.0 L207.1,216.6 L202.7,220.1 L200.1,224.5 L201.9,229.7 L205.4,234.1 L204.5,239.9 L207.1,244.4 L210.6,248.8 L212.4,254.0 L213.2,261.0 L215.0,268.4"/>
<path d="M215.0,268.4 L210.6,269.8 L203.6,268.9 L198.4,267.2 L191.3,265.9 L186.1,268.0 L181.7,272.4 L177.3,274.2 L172.1,273.3 L168.6,277.7 L163.3,279.4 L158.1,281.2 L158.9,284.7 L153.7,286.4 L145.8,287.3 L138.8,288.2 L133.5,290.8 L128.3,293.4 L123.0,295.2 L118.6,296.1 L119.5,301.3 L121.3,308.3 L123.9,315.3 L123.0,322.4 L123.9,332.0 L123.1,332.3 L126.6,337.7 L123.1,342.1 L116.0,343.9"/>
<path d="M115.1,178.9 L117.8,178.0 L123.0,172.8 L126.5,171.9 L133.5,175.4 L142.3,178.0 L144.9,184.2 L151.0,187.7 L157.2,191.2 L164.2,187.7 L168.6,185.0 L172.4,187.7 L174.7,193.8 L180.0,194.7"/>
<path d="M309.4,286.4 L306.1,291.7 L303.5,296.1 L304.4,301.3 L308.7,306.6 L313.1,311.0 L317.5,314.5 L320.1,320.6 L321.0,325.9 L321.9,332.0 L321.5,338.4"/>
<path d="M321.5,338.4 L316.7,341.0 L315.9,345.4 L310.6,348.9 L303.6,352.4 L296.6,353.0 L291.3,356.8 L287.8,359.4 L282.6,355.1 L279.9,353.0 L273.8,355.9 L268.5,358.6 L266.8,363.8 L261.5,367.3 L256.3,369.4 L258.0,374.3 L261.5,379.6 L262.4,384.9 L259.8,390.1 L254.5,395.4 L247.5,398.0"/>
<path d="M321.5,338.4 L325.5,339.3 L330.8,338.4 L334.3,336.7 L336.9,340.2 L338.6,343.7 L335.1,348.1 L336.0,352.4 L339.5,357.7 L343.0,362.9 L342.1,367.3 L342.1,373.5 L345.6,375.2 L352.7,376.1 L356.2,378.2 L361.4,376.1 L365.8,373.5 L370.2,369.1 L374.6,366.5 L377.2,370.0 L380.7,376.1 L384.2,382.2 L389.5,383.1 L394.7,381.3 L400.8,380.5 L405.2,378.7 L410.5,383.1 L413.1,386.6 L415.7,388.4"/>
</g>
<g clip-path="url(#frameclip)" stroke="#262a00" stroke-width="1.15" filter="url(#blur2)">
<circle cx="130.9" cy="37.6" r="3.1" fill="#f2a301"/>
<circle cx="192.6" cy="54.6" r="3.1" fill="#ebee01"/>
<circle cx="194.1" cy="55.7" r="3.1" fill="#d8ee01"/>
<circle cx="268.1" cy="38.0" r="3.1" fill="#f41b01"/>
<circle cx="280.7" cy="34.7" r="3.1" fill="#f41701"/>
<circle cx="282.1" cy="38.9" r="3.1" fill="#f47801"/>
<circle cx="288.6" cy="47.8" r="3.1" fill="#edda01"/>
<circle cx="313.7" cy="29.1" r="3.1" fill="#f42501"/>
<circle cx="262.8" cy="60.9" r="3.1" fill="#c1e702"/>
<circle cx="266.3" cy="60.6" r="3.1" fill="#f42f01"/>
<circle cx="267.0" cy="64.4" r="3.1" fill="#f2a301"/>
<circle cx="245.3" cy="75.0" r="3.1" fill="#a8e003"/>
<circle cx="245.0" cy="77.1" r="3.1" fill="#f49001"/>
<circle cx="247.1" cy="78.8" r="3.1" fill="#f42f01"/>
<circle cx="198.4" cy="80.6" r="3.1" fill="#a8e003"/>
<circle cx="200.1" cy="81.3" r="3.1" fill="#e3ee01"/>
<circle cx="312.3" cy="76.2" r="3.1" fill="#8fd904"/>
<circle cx="314.7" cy="76.4" r="3.1" fill="#ece601"/>
<circle cx="254.1" cy="91.1" r="3.1" fill="#f48101"/>
<circle cx="147.9" cy="92.3" r="3.1" fill="#edda01"/>
<circle cx="146.8" cy="91.1" r="3.1" fill="#f2a301"/>
<circle cx="119.9" cy="94.2" r="3.1" fill="#ebee01"/>
<circle cx="117.4" cy="118.8" r="3.1" fill="#f43d01"/>
<circle cx="271.1" cy="120.5" r="3.1" fill="#f2a301"/>
<circle cx="364.0" cy="39.4" r="3.1" fill="#5fc906"/>
<circle cx="363.6" cy="42.9" r="3.1" fill="#8fd904"/>
<circle cx="353.8" cy="46.9" r="3.1" fill="#8fd904"/>
<circle cx="355.5" cy="46.9" r="3.1" fill="#77d105"/>
<circle cx="346.8" cy="92.5" r="3.1" fill="#ebee01"/>
<circle cx="349.4" cy="93.7" r="3.1" fill="#d8ee01"/>
<circle cx="353.4" cy="97.2" r="3.1" fill="#c1e702"/>
<circle cx="398.5" cy="101.9" r="3.1" fill="#f42501"/>
<circle cx="400.6" cy="102.5" r="3.1" fill="#8fd904"/>
<circle cx="403.7" cy="101.9" r="3.1" fill="#d8ee01"/>
<circle cx="117.8" cy="122.1" r="3.1" fill="#f47801"/>
<circle cx="199.2" cy="125.3" r="3.1" fill="#8fd904"/>
<circle cx="201.5" cy="125.3" r="3.1" fill="#c1e702"/>
<circle cx="269.8" cy="123.5" r="3.1" fill="#f39b01"/>
<circle cx="273.4" cy="122.6" r="3.1" fill="#f42f01"/>
<circle cx="274.6" cy="126.1" r="3.1" fill="#f42501"/>
<circle cx="245.7" cy="131.4" r="3.1" fill="#f1a901"/>
<circle cx="241.3" cy="137.5" r="3.1" fill="#f42f01"/>
<circle cx="247.4" cy="137.5" r="3.1" fill="#f39b01"/>
<circle cx="248.6" cy="138.9" r="3.1" fill="#f49001"/>
<circle cx="256.2" cy="137.0" r="3.1" fill="#ece601"/>
<circle cx="315.8" cy="152.4" r="3.1" fill="#f47801"/>
<circle cx="119.5" cy="160.3" r="3.1" fill="#f47801"/>
<circle cx="121.6" cy="161.2" r="3.1" fill="#f49001"/>
<circle cx="231.3" cy="177.5" r="3.1" fill="#ebee01"/>
<circle cx="235.2" cy="176.9" r="3.1" fill="#f43d01"/>
<circle cx="261.4" cy="170.8" r="3.1" fill="#f43d01"/>
<circle cx="260.0" cy="173.4" r="3.1" fill="#f48101"/>
<circle cx="266.3" cy="169.1" r="3.1" fill="#edda01"/>
<circle cx="269.8" cy="172.2" r="3.1" fill="#5fc906"/>
<circle cx="264.6" cy="176.4" r="3.1" fill="#a8e003"/>
<circle cx="268.4" cy="178.7" r="3.1" fill="#f2a301"/>
<circle cx="271.6" cy="174.3" r="3.1" fill="#efc801"/>
<circle cx="323.3" cy="181.3" r="3.1" fill="#f2a301"/>
<circle cx="318.4" cy="193.6" r="3.1" fill="#f41b01"/>
<circle cx="317.2" cy="196.7" r="3.1" fill="#ebee01"/>
<circle cx="364.7" cy="148.9" r="3.1" fill="#f43d01"/>
<circle cx="368.7" cy="147.2" r="3.1" fill="#f47801"/>
<circle cx="388.5" cy="144.5" r="3.1" fill="#8fd904"/>
<circle cx="387.4" cy="151.5" r="3.1" fill="#f42f01"/>
<circle cx="369.2" cy="155.9" r="3.1" fill="#f41b01"/>
<circle cx="366.9" cy="157.7" r="3.1" fill="#f42501"/>
<circle cx="366.9" cy="160.7" r="3.1" fill="#8fd904"/>
<circle cx="378.7" cy="157.7" r="2.1" fill="none" stroke-width="0.9"/>
<circle cx="330.1" cy="162.4" r="3.1" fill="#f41701"/>
<circle cx="334.9" cy="166.4" r="3.1" fill="#f41701"/>
<circle cx="338.0" cy="162.1" r="3.1" fill="#f2a301"/>
<circle cx="342.9" cy="161.7" r="3.1" fill="#f49001"/>
<circle cx="338.9" cy="165.9" r="3.1" fill="#efc801"/>
<circle cx="354.7" cy="168.5" r="3.1" fill="#edda01"/>
<circle cx="388.8" cy="170.8" r="3.1" fill="#f41701"/>
<circle cx="404.6" cy="170.5" r="3.1" fill="#f42f01"/>
<circle cx="406.7" cy="170.5" r="3.1" fill="#f0b501"/>
<circle cx="417.4" cy="172.2" r="3.1" fill="#f41701"/>
<circle cx="430.0" cy="164.2" r="3.1" fill="#f41b01"/>
<circle cx="433.5" cy="165.9" r="3.1" fill="#ebee01"/>
<circle cx="436.1" cy="169.9" r="3.1" fill="#a8e003"/>
<circle cx="446.7" cy="171.3" r="3.1" fill="#c1e702"/>
<circle cx="388.0" cy="176.1" r="3.1" fill="#f42501"/>
<circle cx="392.0" cy="175.2" r="3.1" fill="#f41b01"/>
<circle cx="395.5" cy="176.9" r="3.1" fill="#f41701"/>
<circle cx="390.6" cy="180.5" r="3.1" fill="#f42501"/>
<circle cx="373.9" cy="178.2" r="3.1" fill="#f43d01"/>
<circle cx="325.4" cy="177.8" r="3.1" fill="#f42501"/>
<circle cx="330.7" cy="179.9" r="3.1" fill="#f2a301"/>
<circle cx="324.9" cy="182.2" r="3.1" fill="#f2a301"/>
<circle cx="426.9" cy="182.2" r="3.1" fill="#f1a901"/>
<circle cx="406.4" cy="181.0" r="3.1" fill="#f43d01"/>
<circle cx="405.0" cy="186.2" r="3.1" fill="#8fd904"/>
<circle cx="409.3" cy="185.7" r="3.1" fill="#f0b501"/>
<circle cx="404.6" cy="189.7" r="3.1" fill="#f2a301"/>
<circle cx="407.8" cy="189.2" r="3.1" fill="#efc801"/>
<circle cx="368.2" cy="193.9" r="3.1" fill="#f41701"/>
<circle cx="367.5" cy="198.0" r="3.1" fill="#f41b01"/>
<circle cx="383.9" cy="195.7" r="3.1" fill="#f42f01"/>
<circle cx="437.0" cy="195.0" r="3.1" fill="#f41701"/>
<circle cx="444.6" cy="191.8" r="3.1" fill="#f42f01"/>
<circle cx="445.8" cy="193.2" r="3.1" fill="#f42501"/>
<circle cx="417.7" cy="198.0" r="3.1" fill="#f43d01"/>
<circle cx="423.0" cy="195.3" r="3.1" fill="#ebee01"/>
<circle cx="424.2" cy="198.5" r="3.1" fill="#ebee01"/>
<circle cx="419.5" cy="201.0" r="3.1" fill="#a8e003"/>
<circle cx="423.0" cy="205.0" r="3.1" fill="#f2a301"/>
<circle cx="438.2" cy="208.5" r="3.1" fill="#f41701"/>
<circle cx="457.5" cy="201.5" r="3.1" fill="#f43d01"/>
<circle cx="460.7" cy="198.5" r="3.1" fill="#c1e702"/>
<circle cx="464.2" cy="199.7" r="3.1" fill="#d8ee01"/>
<circle cx="461.6" cy="203.2" r="3.1" fill="#8fd904"/>
<circle cx="465.9" cy="203.2" r="3.1" fill="#ebee01"/>
<circle cx="471.2" cy="203.8" r="3.1" fill="#f0b501"/>
<circle cx="467.7" cy="200.6" r="3.1" fill="#c1e702"/>
<circle cx="288.6" cy="218.1" r="3.1" fill="#48c208"/>
<circle cx="291.6" cy="215.2" r="3.1" fill="#48c208"/>
<circle cx="294.7" cy="213.8" r="3.1" fill="#f2a301"/>
<circle cx="126.2" cy="229.2" r="3.1" fill="#f0b501"/>
<circle cx="130.0" cy="229.5" r="3.1" fill="#ebee01"/>
<circle cx="133.5" cy="232.2" r="3.1" fill="#c1e702"/>
<circle cx="137.0" cy="230.4" r="3.1" fill="#a8e003"/>
<circle cx="123.9" cy="236.5" r="3.1" fill="#8fd904"/>
<circle cx="128.6" cy="233.9" r="3.1" fill="#d8ee01"/>
<circle cx="158.1" cy="237.4" r="3.1" fill="#f0c001"/>
<circle cx="154.2" cy="239.7" r="3.1" fill="#c1e702"/>
<circle cx="158.9" cy="242.1" r="3.1" fill="#ebee01"/>
<circle cx="158.1" cy="249.3" r="3.1" fill="#caea02"/>
<circle cx="164.2" cy="249.1" r="3.1" fill="#efc801"/>
<circle cx="166.5" cy="249.3" r="3.1" fill="#77d105"/>
<circle cx="131.4" cy="264.6" r="3.1" fill="#edda01"/>
<circle cx="130.9" cy="266.7" r="3.1" fill="#d8ee01"/>
<circle cx="257.1" cy="234.4" r="3.1" fill="#f0b501"/>
<circle cx="256.2" cy="231.3" r="3.1" fill="#edda01"/>
<circle cx="277.2" cy="228.6" r="3.1" fill="#8fd904"/>
<circle cx="307.3" cy="245.6" r="3.1" fill="#3bbd08"/>
<circle cx="205.7" cy="271.6" r="3.1" fill="#5fc906"/>
<circle cx="209.7" cy="270.7" r="3.1" fill="#77d105"/>
<circle cx="212.4" cy="269.8" r="3.1" fill="#8fd904"/>
<circle cx="208.0" cy="274.2" r="3.1" fill="#5fc906"/>
<circle cx="204.5" cy="277.2" r="3.1" fill="#77d105"/>
<circle cx="211.5" cy="273.3" r="3.1" fill="#5fc906"/>
<circle cx="315.8" cy="271.9" r="3.1" fill="#31b909"/>
<circle cx="269.3" cy="287.0" r="3.1" fill="#31b909"/>
<circle cx="265.8" cy="290.0" r="3.1" fill="#3bbd08"/>
<circle cx="263.2" cy="292.3" r="3.1" fill="#48c208"/>
<circle cx="261.4" cy="293.0" r="3.1" fill="#48c208"/>
<circle cx="334.9" cy="215.2" r="3.1" fill="#48c208"/>
<circle cx="397.2" cy="217.6" r="3.1" fill="#f0b501"/>
<circle cx="401.6" cy="219.0" r="3.1" fill="#f41701"/>
<circle cx="395.8" cy="220.8" r="3.1" fill="#edda01"/>
<circle cx="426.5" cy="222.5" r="3.1" fill="#f42501"/>
<circle cx="427.7" cy="224.6" r="3.1" fill="#ebee01"/>
<circle cx="406.7" cy="239.7" r="3.1" fill="#f39b01"/>
<circle cx="409.5" cy="244.4" r="3.1" fill="#f43d01"/>
<circle cx="395.8" cy="245.3" r="3.1" fill="#f0b501"/>
<circle cx="399.3" cy="244.4" r="3.1" fill="#ebee01"/>
<circle cx="401.1" cy="247.0" r="3.1" fill="#edda01"/>
<circle cx="397.2" cy="250.5" r="3.1" fill="#edda01"/>
<circle cx="405.5" cy="250.2" r="3.1" fill="#f47801"/>
<circle cx="380.1" cy="247.9" r="3.1" fill="#5fc906"/>
<circle cx="390.6" cy="256.3" r="3.1" fill="#48c208"/>
<circle cx="420.9" cy="254.4" r="3.1" fill="#ebee01"/>
<circle cx="420.7" cy="259.0" r="3.1" fill="#a8e003"/>
<circle cx="428.8" cy="258.4" r="3.1" fill="#8fd904"/>
<circle cx="467.7" cy="262.8" r="3.1" fill="#ebee01"/>
<circle cx="463.3" cy="266.3" r="3.1" fill="#8fd904"/>
<circle cx="468.0" cy="268.4" r="3.1" fill="#d8ee01"/>
<circle cx="464.2" cy="263.7" r="3.1" fill="#ebee01"/>
<circle cx="471.5" cy="260.2" r="3.1" fill="#5fc906"/>
<circle cx="477.8" cy="262.8" r="3.1" fill="#5fc906"/>
<circle cx="490.5" cy="257.9" r="3.1" fill="#3bbd08"/>
<circle cx="493.6" cy="259.0" r="3.1" fill="#48c208"/>
<circle cx="499.2" cy="260.7" r="3.1" fill="#3bbd08"/>
<circle cx="348.5" cy="275.4" r="3.1" fill="#48c208"/>
<circle cx="395.0" cy="289.1" r="3.1" fill="#48c208"/>
<circle cx="397.2" cy="290.9" r="3.1" fill="#5fc906"/>
<circle cx="376.6" cy="301.4" r="3.1" fill="#5fc906"/>
<circle cx="377.4" cy="299.3" r="3.1" fill="#8fd904"/>
<circle cx="340.6" cy="304.2" r="3.1" fill="#31b909"/>
<circle cx="196.6" cy="313.7" r="3.1" fill="#8fd904"/>
<circle cx="200.1" cy="316.4" r="3.1" fill="#8fd904"/>
<circle cx="204.2" cy="319.6" r="3.1" fill="#48c208"/>
<circle cx="207.8" cy="318.5" r="3.1" fill="#5fc906"/>
<circle cx="204.6" cy="323.1" r="3.1" fill="#77d105"/>
<circle cx="219.1" cy="347.0" r="3.1" fill="#5fc906"/>
<circle cx="225.5" cy="350.9" r="3.1" fill="#3bbd08"/>
<circle cx="257.4" cy="338.5" r="3.1" fill="#8fd904"/>
<circle cx="255.1" cy="341.2" r="3.1" fill="#5fc906"/>
<circle cx="252.8" cy="346.5" r="3.1" fill="#77d105"/>
<circle cx="296.7" cy="330.9" r="3.1" fill="#31b909"/>
<circle cx="299.3" cy="330.2" r="3.1" fill="#48c208"/>
<circle cx="301.7" cy="330.6" r="3.1" fill="#5fc906"/>
<circle cx="132.3" cy="360.3" r="3.1" fill="#5fc906"/>
<circle cx="135.1" cy="360.7" r="3.1" fill="#5fc906"/>
<circle cx="158.5" cy="359.8" r="3.1" fill="#48c208"/>
<circle cx="161.7" cy="358.0" r="3.1" fill="#5fc906"/>
<circle cx="166.0" cy="361.6" r="3.1" fill="#77d105"/>
<circle cx="121.0" cy="374.5" r="3.1" fill="#5fc906"/>
<circle cx="162.4" cy="390.8" r="3.1" fill="#77d105"/>
<circle cx="162.1" cy="394.3" r="3.1" fill="#8fd904"/>
<circle cx="388.7" cy="330.6" r="3.1" fill="#31b909"/>
<circle cx="389.5" cy="329.9" r="3.1" fill="#3bbd08"/>
<circle cx="458.3" cy="321.2" r="3.1" fill="#5fc906"/>
<circle cx="422.3" cy="350.4" r="3.1" fill="#48c208"/>
<circle cx="424.4" cy="350.9" r="3.1" fill="#77d105"/>
</g>
<g font-family="Liberation Serif, serif" font-size="11" fill="#1c1c08" stroke="#1c1c08" stroke-width="0.2" fill-opacity="0.92">
<text x="279.0" y="39.8" textLength="43.8" lengthAdjust="spacingAndGlyphs">Shandong</text>
<text x="133.2" y="111.3" textLength="28.0" lengthAdjust="spacingAndGlyphs">Henan</text>
<text x="381.8" y="163.6" textLength="33.0" lengthAdjust="spacingAndGlyphs">Jiangsu</text>
<text x="447.5" y="209.8" textLength="40.3" lengthAdjust="spacingAndGlyphs">Shanghai</text>
<text x="256.2" y="213.3" textLength="25.4" lengthAdjust="spacingAndGlyphs">Anhui</text>
<text x="145.4" y="266.8" textLength="25.8" lengthAdjust="spacingAndGlyphs">Hubei</text>
<text x="201.4" y="357.6" textLength="30.6" lengthAdjust="spacingAndGlyphs">Jiangxi</text>
<text x="371.5" y="338.0" textLength="38.5" lengthAdjust="spacingAndGlyphs">Zhejiang</text>
<text x="313.0" y="380.2" textLength="27.3" lengthAdjust="spacingAndGlyphs">Fujian</text>
</g>
<text x="117.8" y="49.8" font-family="Liberation Serif, serif" font-weight="bold" font-size="25" fill="#000" textLength="71" lengthAdjust="spacingAndGlyphs">(2018)</text>
<rect x="116.3" y="27.9" width="415.1" height="369.5" fill="none" stroke="#484848" stroke-width="0.95"/>
<g stroke="#484848" stroke-width="0.8">
<line x1="162.4" y1="27.9" x2="162.4" y2="25.4"/>
<line x1="162.4" y1="397.4" x2="162.4" y2="400.2"/>
<line x1="208.5" y1="27.9" x2="208.5" y2="25.4"/>
<line x1="208.5" y1="397.4" x2="208.5" y2="400.2"/>
<line x1="254.7" y1="27.9" x2="254.7" y2="25.4"/>
<line x1="254.7" y1="397.4" x2="254.7" y2="400.2"/>
<line x1="300.8" y1="27.9" x2="300.8" y2="25.4"/>
<line x1="300.8" y1="397.4" x2="300.8" y2="400.2"/>
<line x1="346.9" y1="27.9" x2="346.9" y2="25.4"/>
<line x1="346.9" y1="397.4" x2="346.9" y2="400.2"/>
<line x1="393.0" y1="27.9" x2="393.0" y2="25.4"/>
<line x1="393.0" y1="397.4" x2="393.0" y2="400.2"/>
<line x1="439.1" y1="27.9" x2="439.1" y2="25.4"/>
<line x1="439.1" y1="397.4" x2="439.1" y2="400.2"/>
<line x1="485.3" y1="27.9" x2="485.3" y2="25.4"/>
<line x1="485.3" y1="397.4" x2="485.3" y2="400.2"/>
<line x1="531.4" y1="27.9" x2="531.4" y2="25.4"/>
<line x1="531.4" y1="397.4" x2="531.4" y2="400.2"/>
<line x1="116.3" y1="397.4" x2="116.3" y2="400.2"/>
<line x1="116.3" y1="27.9" x2="113.8" y2="27.9"/>
<line x1="531.4" y1="27.9" x2="533.9" y2="27.9"/>
<line x1="116.3" y1="74.1" x2="113.8" y2="74.1"/>
<line x1="531.4" y1="74.1" x2="533.9" y2="74.1"/>
<line x1="116.3" y1="120.3" x2="113.8" y2="120.3"/>
<line x1="531.4" y1="120.3" x2="533.9" y2="120.3"/>
<line x1="116.3" y1="166.5" x2="113.8" y2="166.5"/>
<line x1="531.4" y1="166.5" x2="533.9" y2="166.5"/>
<line x1="116.3" y1="212.6" x2="113.8" y2="212.6"/>
<line x1="531.4" y1="212.6" x2="533.9" y2="212.6"/>
<line x1="116.3" y1="258.8" x2="113.8" y2="258.8"/>
<line x1="531.4" y1="258.8" x2="533.9" y2="258.8"/>
<line x1="116.3" y1="305.0" x2="113.8" y2="305.0"/>
<line x1="531.4" y1="305.0" x2="533.9" y2="305.0"/>
<line x1="116.3" y1="351.2" x2="113.8" y2="351.2"/>
<line x1="531.4" y1="351.2" x2="533.9" y2="351.2"/>
</g>
<g font-family="Liberation Serif, serif" font-size="9.5" fill="#333" text-anchor="middle">
<text x="162.1" y="23.1">115° E</text>
<text x="208.2" y="23.1">116° E</text>
<text x="254.4" y="23.1">117° E</text>
<text x="300.5" y="23.1">118° E</text>
<text x="346.6" y="23.1">119° E</text>
<text x="392.7" y="23.1">120° E</text>
<text x="438.8" y="23.1">121° E</text>
<text x="485.0" y="23.1">122° E</text>
<text x="531.1" y="23.1">123° E</text>
<text x="116.6" y="410.1">114° E</text>
<text x="162.7" y="410.1">115° E</text>
<text x="208.8" y="410.1">116° E</text>
<text x="255.0" y="410.1">117° E</text>
<text x="301.1" y="410.1">118° E</text>
<text x="347.2" y="410.1">119° E</text>
<text x="393.3" y="410.1">120° E</text>
<text x="439.4" y="410.1">121° E</text>
<text x="485.6" y="410.1">122° E</text>
<text x="531.7" y="410.1">123° E</text>
<text transform="translate(110.3,27.9) rotate(-90)">35° N</text>
<text transform="translate(110.3,74.1) rotate(-90)">34° N</text>
<text transform="translate(543.9,74.1) rotate(-90)">34° N</text>
<text transform="translate(110.3,120.3) rotate(-90)">33° N</text>
<text transform="translate(543.9,120.3) rotate(-90)">33° N</text>
<text transform="translate(110.3,166.5) rotate(-90)">32° N</text>
<text transform="translate(543.9,166.5) rotate(-90)">32° N</text>
<text transform="translate(110.3,212.6) rotate(-90)">31° N</text>
<text transform="translate(543.9,212.6) rotate(-90)">31° N</text>
<text transform="translate(110.3,258.8) rotate(-90)">30° N</text>
<text transform="translate(543.9,258.8) rotate(-90)">30° N</text>
<text transform="translate(110.3,305.0) rotate(-90)">29° N</text>
<text transform="translate(543.9,305.0) rotate(-90)">29° N</text>
<text transform="translate(110.3,351.2) rotate(-90)">28° N</text>
<text transform="translate(543.9,351.2) rotate(-90)">28° N</text>
</g>
<rect x="130.2" y="421.7" width="174.2" height="11.1" fill="url(#cb)"/>
<g font-family="Liberation Serif, serif" font-size="14" fill="#222">
<text x="124.5" y="445.3">38</text><text x="216.8" y="445.3" text-anchor="middle">59</text><text x="286.7" y="445.3" textLength="39.6" lengthAdjust="spacingAndGlyphs">80 ppb</text>
</g>
<g stroke="#555" stroke-width="0.8" fill="none">
<path d="M337.5,437.6 V442.0 H480.7 V437.6"/>
<line x1="355.4" y1="442.0" x2="355.4" y2="439.4"/>
<line x1="373.3" y1="442.0" x2="373.3" y2="439.0"/>
<line x1="391.2" y1="442.0" x2="391.2" y2="439.4"/>
<line x1="409.1" y1="442.0" x2="409.1" y2="437.6"/>
<line x1="427.0" y1="442.0" x2="427.0" y2="439.4"/>
<line x1="444.9" y1="442.0" x2="444.9" y2="439.4"/>
<line x1="462.8" y1="442.0" x2="462.8" y2="439.4"/>
</g>
<g font-family="Liberation Serif, serif" font-size="11.7" fill="#2a2a2a" text-anchor="middle">
<text x="337.5" y="433.8">0</text><text x="373.8" y="433.8">70</text><text x="409.4" y="433.8">140</text><text x="471.9" y="433.8" text-anchor="start" textLength="38" lengthAdjust="spacingAndGlyphs">280 Km</text>
</g>
<g><text x="538.8" y="424.2" font-family="Liberation Sans, sans-serif" font-weight="bold" font-size="6.2" fill="#222" textLength="5.2" lengthAdjust="spacingAndGlyphs">N</text>
<path d="M541.6,427.8 L547.3,446 L541.6,441.1 Z" fill="#fff" stroke="#111" stroke-width="0.7" stroke-linejoin="miter"/>
<path d="M541.6,427.8 L536,445.8 L541.6,441.1 Z" fill="#111" stroke="#111" stroke-width="0.6"/></g>
</g>
<g transform="translate(722.52,0) scale(0.99807,1)">
<g clip-path="url(#land)"><g filter="url(#blur)" shape-rendering="crispEdges">
<rect x="116.25" y="27.85" width="11.63" height="11.65" fill="#ff1c00"/>
<rect x="127.78" y="27.85" width="11.63" height="11.65" fill="#ff1800"/>
<rect x="139.31" y="27.85" width="11.63" height="11.65" fill="#ff1e00"/>
<rect x="150.84" y="27.85" width="11.63" height="11.65" fill="#ff1800"/>
<rect x="162.37" y="27.85" width="11.63" height="11.65" fill="#ff1e00"/>
<rect x="173.90" y="27.85" width="11.63" height="11.65" fill="#ff1c00"/>
<rect x="185.43" y="27.85" width="11.63" height="11.65" fill="#ff1800"/>
<rect x="196.96" y="27.85" width="11.63" height="11.65" fill="#ff1c00"/>
<rect x="208.49" y="27.85" width="11.63" height="11.65" fill="#ff1800"/>
<rect x="220.02" y="27.85" width="11.63" height="11.65" fill="#ff1900"/>
<rect x="231.55" y="27.85" width="11.63" height="11.65" fill="#ff1900"/>
<rect x="243.08" y="27.85" width="11.63" height="11.65" fill="#ff1a00"/>
<rect x="254.61" y="27.85" width="11.63" height="11.65" fill="#ff2200"/>
<rect x="266.14" y="27.85" width="11.63" height="11.65" fill="#ff1e00"/>
<rect x="277.67" y="27.85" width="11.63" height="11.65" fill="#ff3100"/>
<rect x="289.20" y="27.85" width="11.63" height="11.65" fill="#ff3300"/>
<rect x="300.73" y="27.85" width="11.63" height="11.65" fill="#ff3600"/>
<rect x="312.26" y="27.85" width="11.63" height="11.65" fill="#ff3100"/>
<rect x="323.79" y="27.85" width="11.63" height="11.65" fill="#ff2c00"/>
<rect x="335.32" y="27.85" width="11.63" height="11.65" fill="#ff3400"/>
<rect x="346.85" y="27.85" width="11.63" height="11.65" fill="#ff5d00"/>
<rect x="358.38" y="27.85" width="11.63" height="11.65" fill="#ff8f00"/>
<rect x="369.91" y="27.85" width="11.63" height="11.65" fill="#fbbd00"/>
<rect x="381.44" y="27.85" width="11.63" height="11.65" fill="#f9ce00"/>
<rect x="392.97" y="27.85" width="11.63" height="11.65" fill="#f8df00"/>
<rect x="404.50" y="27.85" width="11.63" height="11.65" fill="#f8de00"/>
<rect x="416.03" y="27.85" width="11.63" height="11.65" fill="#f7e700"/>
<rect x="427.56" y="27.85" width="11.63" height="11.65" fill="#f6e900"/>
<rect x="439.09" y="27.85" width="11.63" height="11.65" fill="#f6f300"/>
<rect x="450.62" y="27.85" width="11.63" height="11.65" fill="#f5f500"/>
<rect x="462.15" y="27.85" width="11.63" height="11.65" fill="#f0f800"/>
<rect x="473.68" y="27.85" width="11.63" height="11.65" fill="#ecf800"/>
<rect x="485.21" y="27.85" width="11.63" height="11.65" fill="#e9f800"/>
<rect x="496.74" y="27.85" width="11.63" height="11.65" fill="#e0f800"/>
<rect x="508.27" y="27.85" width="11.63" height="11.65" fill="#d5f800"/>
<rect x="519.80" y="27.85" width="11.63" height="11.65" fill="#d1f800"/>
<rect x="116.25" y="39.40" width="11.63" height="11.65" fill="#ff1800"/>
<rect x="127.78" y="39.40" width="11.63" height="11.65" fill="#ff1d00"/>
<rect x="139.31" y="39.40" width="11.63" height="11.65" fill="#ff2100"/>
<rect x="150.84" y="39.40" width="11.63" height="11.65" fill="#ff1800"/>
<rect x="162.37" y="39.40" width="11.63" height="11.65" fill="#ff1b00"/>
<rect x="173.90" y="39.40" width="11.63" height="11.65" fill="#ff1900"/>
<rect x="185.43" y="39.40" width="11.63" height="11.65" fill="#ff1800"/>
<rect x="196.96" y="39.40" width="11.63" height="11.65" fill="#ff2000"/>
<rect x="208.49" y="39.40" width="11.63" height="11.65" fill="#ff1f00"/>
<rect x="220.02" y="39.40" width="11.63" height="11.65" fill="#ff1800"/>
<rect x="231.55" y="39.40" width="11.63" height="11.65" fill="#ff2200"/>
<rect x="243.08" y="39.40" width="11.63" height="11.65" fill="#ff1b00"/>
<rect x="254.61" y="39.40" width="11.63" height="11.65" fill="#ff2b00"/>
<rect x="266.14" y="39.40" width="11.63" height="11.65" fill="#ff2800"/>
<rect x="277.67" y="39.40" width="11.63" height="11.65" fill="#ff2e00"/>
<rect x="289.20" y="39.40" width="11.63" height="11.65" fill="#ff2d00"/>
<rect x="300.73" y="39.40" width="11.63" height="11.65" fill="#ff2f00"/>
<rect x="312.26" y="39.40" width="11.63" height="11.65" fill="#ff3300"/>
<rect x="323.79" y="39.40" width="11.63" height="11.65" fill="#ff3500"/>
<rect x="335.32" y="39.40" width="11.63" height="11.65" fill="#ff4300"/>
<rect x="346.85" y="39.40" width="11.63" height="11.65" fill="#ff5800"/>
<rect x="358.38" y="39.40" width="11.63" height="11.65" fill="#ff8200"/>
<rect x="369.91" y="39.40" width="11.63" height="11.65" fill="#f7e400"/>
<rect x="381.44" y="39.40" width="11.63" height="11.65" fill="#facb00"/>
<rect x="392.97" y="39.40" width="11.63" height="11.65" fill="#f7e000"/>
<rect x="404.50" y="39.40" width="11.63" height="11.65" fill="#f6eb00"/>
<rect x="416.03" y="39.40" width="11.63" height="11.65" fill="#f3f800"/>
<rect x="427.56" y="39.40" width="11.63" height="11.65" fill="#ecf800"/>
<rect x="439.09" y="39.40" width="11.63" height="11.65" fill="#e4f800"/>
<rect x="450.62" y="39.40" width="11.63" height="11.65" fill="#e2f800"/>
<rect x="462.15" y="39.40" width="11.63" height="11.65" fill="#dbf800"/>
<rect x="473.68" y="39.40" width="11.63" height="11.65" fill="#d7f800"/>
<rect x="485.21" y="39.40" width="11.63" height="11.65" fill="#d1f800"/>
<rect x="496.74" y="39.40" width="11.63" height="11.65" fill="#d0f800"/>
<rect x="508.27" y="39.40" width="11.63" height="11.65" fill="#cbf800"/>
<rect x="519.80" y="39.40" width="11.63" height="11.65" fill="#c0f800"/>
<rect x="116.25" y="50.94" width="11.63" height="11.65" fill="#ff2700"/>
<rect x="127.78" y="50.94" width="11.63" height="11.65" fill="#ff2a00"/>
<rect x="139.31" y="50.94" width="11.63" height="11.65" fill="#ff2300"/>
<rect x="150.84" y="50.94" width="11.63" height="11.65" fill="#ff1e00"/>
<rect x="162.37" y="50.94" width="11.63" height="11.65" fill="#ff2a00"/>
<rect x="173.90" y="50.94" width="11.63" height="11.65" fill="#ff2100"/>
<rect x="185.43" y="50.94" width="11.63" height="11.65" fill="#ff2800"/>
<rect x="196.96" y="50.94" width="11.63" height="11.65" fill="#ff2d00"/>
<rect x="208.49" y="50.94" width="11.63" height="11.65" fill="#ff2100"/>
<rect x="220.02" y="50.94" width="11.63" height="11.65" fill="#ff2800"/>
<rect x="231.55" y="50.94" width="11.63" height="11.65" fill="#ff2a00"/>
<rect x="243.08" y="50.94" width="11.63" height="11.65" fill="#ff2b00"/>
<rect x="254.61" y="50.94" width="11.63" height="11.65" fill="#ff3900"/>
<rect x="266.14" y="50.94" width="11.63" height="11.65" fill="#ff3c00"/>
<rect x="277.67" y="50.94" width="11.63" height="11.65" fill="#ff3e00"/>
<rect x="289.20" y="50.94" width="11.63" height="11.65" fill="#ff3f00"/>
<rect x="300.73" y="50.94" width="11.63" height="11.65" fill="#ff3c00"/>
<rect x="312.26" y="50.94" width="11.63" height="11.65" fill="#ff4100"/>
<rect x="323.79" y="50.94" width="11.63" height="11.65" fill="#ff4300"/>
<rect x="335.32" y="50.94" width="11.63" height="11.65" fill="#ff4b00"/>
<rect x="346.85" y="50.94" width="11.63" height="11.65" fill="#ff5a00"/>
<rect x="358.38" y="50.94" width="11.63" height="11.65" fill="#ff7400"/>
<rect x="369.91" y="50.94" width="11.63" height="11.65" fill="#fea200"/>
<rect x="381.44" y="50.94" width="11.63" height="11.65" fill="#f7e000"/>
<rect x="392.97" y="50.94" width="11.63" height="11.65" fill="#bef800"/>
<rect x="404.50" y="50.94" width="11.63" height="11.65" fill="#e8f800"/>
<rect x="416.03" y="50.94" width="11.63" height="11.65" fill="#dbf800"/>
<rect x="427.56" y="50.94" width="11.63" height="11.65" fill="#c6f800"/>
<rect x="439.09" y="50.94" width="11.63" height="11.65" fill="#bff800"/>
<rect x="450.62" y="50.94" width="11.63" height="11.65" fill="#b9f800"/>
<rect x="462.15" y="50.94" width="11.63" height="11.65" fill="#b6f800"/>
<rect x="473.68" y="50.94" width="11.63" height="11.65" fill="#b5f700"/>
<rect x="485.21" y="50.94" width="11.63" height="11.65" fill="#b5f700"/>
<rect x="496.74" y="50.94" width="11.63" height="11.65" fill="#adf700"/>
<rect x="508.27" y="50.94" width="11.63" height="11.65" fill="#b3f700"/>
<rect x="519.80" y="50.94" width="11.63" height="11.65" fill="#a5f700"/>
<rect x="116.25" y="62.49" width="11.63" height="11.65" fill="#ff2c00"/>
<rect x="127.78" y="62.49" width="11.63" height="11.65" fill="#ff3600"/>
<rect x="139.31" y="62.49" width="11.63" height="11.65" fill="#ff2c00"/>
<rect x="150.84" y="62.49" width="11.63" height="11.65" fill="#ff3800"/>
<rect x="162.37" y="62.49" width="11.63" height="11.65" fill="#ff2a00"/>
<rect x="173.90" y="62.49" width="11.63" height="11.65" fill="#ff2d00"/>
<rect x="185.43" y="62.49" width="11.63" height="11.65" fill="#ff2a00"/>
<rect x="196.96" y="62.49" width="11.63" height="11.65" fill="#ff3000"/>
<rect x="208.49" y="62.49" width="11.63" height="11.65" fill="#ff3600"/>
<rect x="220.02" y="62.49" width="11.63" height="11.65" fill="#ff2a00"/>
<rect x="231.55" y="62.49" width="11.63" height="11.65" fill="#ff3200"/>
<rect x="243.08" y="62.49" width="11.63" height="11.65" fill="#ff3d00"/>
<rect x="254.61" y="62.49" width="11.63" height="11.65" fill="#ff4100"/>
<rect x="266.14" y="62.49" width="11.63" height="11.65" fill="#ff4800"/>
<rect x="277.67" y="62.49" width="11.63" height="11.65" fill="#ff4800"/>
<rect x="289.20" y="62.49" width="11.63" height="11.65" fill="#ff4d00"/>
<rect x="300.73" y="62.49" width="11.63" height="11.65" fill="#ff4e00"/>
<rect x="312.26" y="62.49" width="11.63" height="11.65" fill="#ff4600"/>
<rect x="323.79" y="62.49" width="11.63" height="11.65" fill="#ff4800"/>
<rect x="335.32" y="62.49" width="11.63" height="11.65" fill="#ff5000"/>
<rect x="346.85" y="62.49" width="11.63" height="11.65" fill="#ff5300"/>
<rect x="358.38" y="62.49" width="11.63" height="11.65" fill="#ff6300"/>
<rect x="369.91" y="62.49" width="11.63" height="11.65" fill="#ff8600"/>
<rect x="381.44" y="62.49" width="11.63" height="11.65" fill="#fea200"/>
<rect x="392.97" y="62.49" width="11.63" height="11.65" fill="#fac900"/>
<rect x="404.50" y="62.49" width="11.63" height="11.65" fill="#f5f700"/>
<rect x="416.03" y="62.49" width="11.63" height="11.65" fill="#d6f800"/>
<rect x="427.56" y="62.49" width="11.63" height="11.65" fill="#c3f800"/>
<rect x="439.09" y="62.49" width="11.63" height="11.65" fill="#c0f800"/>
<rect x="450.62" y="62.49" width="11.63" height="11.65" fill="#b4f700"/>
<rect x="462.15" y="62.49" width="11.63" height="11.65" fill="#b8f800"/>
<rect x="473.68" y="62.49" width="11.63" height="11.65" fill="#b5f800"/>
<rect x="485.21" y="62.49" width="11.63" height="11.65" fill="#b2f700"/>
<rect x="496.74" y="62.49" width="11.63" height="11.65" fill="#a7f700"/>
<rect x="508.27" y="62.49" width="11.63" height="11.65" fill="#a9f700"/>
<rect x="519.80" y="62.49" width="11.63" height="11.65" fill="#a8f700"/>
<rect x="116.25" y="74.04" width="11.63" height="11.65" fill="#ff4600"/>
<rect x="127.78" y="74.04" width="11.63" height="11.65" fill="#ff3900"/>
<rect x="139.31" y="74.04" width="11.63" height="11.65" fill="#ff3c00"/>
<rect x="150.84" y="74.04" width="11.63" height="11.65" fill="#ff4000"/>
<rect x="162.37" y="74.04" width="11.63" height="11.65" fill="#ff3d00"/>
<rect x="173.90" y="74.04" width="11.63" height="11.65" fill="#ff4500"/>
<rect x="185.43" y="74.04" width="11.63" height="11.65" fill="#ff4400"/>
<rect x="196.96" y="74.04" width="11.63" height="11.65" fill="#ff4000"/>
<rect x="208.49" y="74.04" width="11.63" height="11.65" fill="#ff3d00"/>
<rect x="220.02" y="74.04" width="11.63" height="11.65" fill="#ff3e00"/>
<rect x="231.55" y="74.04" width="11.63" height="11.65" fill="#ff4800"/>
<rect x="243.08" y="74.04" width="11.63" height="11.65" fill="#ff4300"/>
<rect x="254.61" y="74.04" width="11.63" height="11.65" fill="#ff4700"/>
<rect x="266.14" y="74.04" width="11.63" height="11.65" fill="#ff4e00"/>
<rect x="277.67" y="74.04" width="11.63" height="11.65" fill="#ff4b00"/>
<rect x="289.20" y="74.04" width="11.63" height="11.65" fill="#ff4b00"/>
<rect x="300.73" y="74.04" width="11.63" height="11.65" fill="#ff5600"/>
<rect x="312.26" y="74.04" width="11.63" height="11.65" fill="#ff5400"/>
<rect x="323.79" y="74.04" width="11.63" height="11.65" fill="#ff4e00"/>
<rect x="335.32" y="74.04" width="11.63" height="11.65" fill="#ff4800"/>
<rect x="346.85" y="74.04" width="11.63" height="11.65" fill="#ff5400"/>
<rect x="358.38" y="74.04" width="11.63" height="11.65" fill="#ff5400"/>
<rect x="369.91" y="74.04" width="11.63" height="11.65" fill="#ff6400"/>
<rect x="381.44" y="74.04" width="11.63" height="11.65" fill="#ff7b00"/>
<rect x="392.97" y="74.04" width="11.63" height="11.65" fill="#ff8f00"/>
<rect x="404.50" y="74.04" width="11.63" height="11.65" fill="#fea200"/>
<rect x="416.03" y="74.04" width="11.63" height="11.65" fill="#f7e800"/>
<rect x="427.56" y="74.04" width="11.63" height="11.65" fill="#e1f800"/>
<rect x="439.09" y="74.04" width="11.63" height="11.65" fill="#e2f800"/>
<rect x="450.62" y="74.04" width="11.63" height="11.65" fill="#d5f800"/>
<rect x="462.15" y="74.04" width="11.63" height="11.65" fill="#d1f800"/>
<rect x="473.68" y="74.04" width="11.63" height="11.65" fill="#d2f800"/>
<rect x="485.21" y="74.04" width="11.63" height="11.65" fill="#cbf800"/>
<rect x="496.74" y="74.04" width="11.63" height="11.65" fill="#bef800"/>
<rect x="508.27" y="74.04" width="11.63" height="11.65" fill="#b7f800"/>
<rect x="519.80" y="74.04" width="11.63" height="11.65" fill="#b8f800"/>
<rect x="116.25" y="85.58" width="11.63" height="11.65" fill="#ff4900"/>
<rect x="127.78" y="85.58" width="11.63" height="11.65" fill="#ff4b00"/>
<rect x="139.31" y="85.58" width="11.63" height="11.65" fill="#ff4800"/>
<rect x="150.84" y="85.58" width="11.63" height="11.65" fill="#ff4b00"/>
<rect x="162.37" y="85.58" width="11.63" height="11.65" fill="#ff4900"/>
<rect x="173.90" y="85.58" width="11.63" height="11.65" fill="#ff4d00"/>
<rect x="185.43" y="85.58" width="11.63" height="11.65" fill="#ff5000"/>
<rect x="196.96" y="85.58" width="11.63" height="11.65" fill="#ff4f00"/>
<rect x="208.49" y="85.58" width="11.63" height="11.65" fill="#ff4e00"/>
<rect x="220.02" y="85.58" width="11.63" height="11.65" fill="#ff4e00"/>
<rect x="231.55" y="85.58" width="11.63" height="11.65" fill="#ff4900"/>
<rect x="243.08" y="85.58" width="11.63" height="11.65" fill="#ff5500"/>
<rect x="254.61" y="85.58" width="11.63" height="11.65" fill="#ff5f00"/>
<rect x="266.14" y="85.58" width="11.63" height="11.65" fill="#ff5900"/>
<rect x="277.67" y="85.58" width="11.63" height="11.65" fill="#ff6000"/>
<rect x="289.20" y="85.58" width="11.63" height="11.65" fill="#ff5f00"/>
<rect x="300.73" y="85.58" width="11.63" height="11.65" fill="#ff6600"/>
<rect x="312.26" y="85.58" width="11.63" height="11.65" fill="#ff5c00"/>
<rect x="323.79" y="85.58" width="11.63" height="11.65" fill="#ff6500"/>
<rect x="335.32" y="85.58" width="11.63" height="11.65" fill="#ff6300"/>
<rect x="346.85" y="85.58" width="11.63" height="11.65" fill="#ff5600"/>
<rect x="358.38" y="85.58" width="11.63" height="11.65" fill="#ff5900"/>
<rect x="369.91" y="85.58" width="11.63" height="11.65" fill="#ff5e00"/>
<rect x="381.44" y="85.58" width="11.63" height="11.65" fill="#ff5900"/>
<rect x="392.97" y="85.58" width="11.63" height="11.65" fill="#ff6700"/>
<rect x="404.50" y="85.58" width="11.63" height="11.65" fill="#ff8e00"/>
<rect x="416.03" y="85.58" width="11.63" height="11.65" fill="#e2f800"/>
<rect x="427.56" y="85.58" width="11.63" height="11.65" fill="#f7e500"/>
<rect x="439.09" y="85.58" width="11.63" height="11.65" fill="#f4f800"/>
<rect x="450.62" y="85.58" width="11.63" height="11.65" fill="#e2f800"/>
<rect x="462.15" y="85.58" width="11.63" height="11.65" fill="#e2f800"/>
<rect x="473.68" y="85.58" width="11.63" height="11.65" fill="#daf800"/>
<rect x="485.21" y="85.58" width="11.63" height="11.65" fill="#d7f800"/>
<rect x="496.74" y="85.58" width="11.63" height="11.65" fill="#ccf800"/>
<rect x="508.27" y="85.58" width="11.63" height="11.65" fill="#cbf800"/>
<rect x="519.80" y="85.58" width="11.63" height="11.65" fill="#c8f800"/>
<rect x="116.25" y="97.13" width="11.63" height="11.65" fill="#ff5c00"/>
<rect x="127.78" y="97.13" width="11.63" height="11.65" fill="#ff5800"/>
<rect x="139.31" y="97.13" width="11.63" height="11.65" fill="#ff5700"/>
<rect x="150.84" y="97.13" width="11.63" height="11.65" fill="#ff5300"/>
<rect x="162.37" y="97.13" width="11.63" height="11.65" fill="#ff5400"/>
<rect x="173.90" y="97.13" width="11.63" height="11.65" fill="#ff5600"/>
<rect x="185.43" y="97.13" width="11.63" height="11.65" fill="#ff6000"/>
<rect x="196.96" y="97.13" width="11.63" height="11.65" fill="#ff5900"/>
<rect x="208.49" y="97.13" width="11.63" height="11.65" fill="#ff5800"/>
<rect x="220.02" y="97.13" width="11.63" height="11.65" fill="#ff6100"/>
<rect x="231.55" y="97.13" width="11.63" height="11.65" fill="#ff5b00"/>
<rect x="243.08" y="97.13" width="11.63" height="11.65" fill="#ff5800"/>
<rect x="254.61" y="97.13" width="11.63" height="11.65" fill="#ff5d00"/>
<rect x="266.14" y="97.13" width="11.63" height="11.65" fill="#ff6000"/>
<rect x="277.67" y="97.13" width="11.63" height="11.65" fill="#ff6c00"/>
<rect x="289.20" y="97.13" width="11.63" height="11.65" fill="#ff6800"/>
<rect x="300.73" y="97.13" width="11.63" height="11.65" fill="#ff6c00"/>
<rect x="312.26" y="97.13" width="11.63" height="11.65" fill="#ff7600"/>
<rect x="323.79" y="97.13" width="11.63" height="11.65" fill="#ff8200"/>
<rect x="335.32" y="97.13" width="11.63" height="11.65" fill="#ff8300"/>
<rect x="346.85" y="97.13" width="11.63" height="11.65" fill="#ff6600"/>
<rect x="358.38" y="97.13" width="11.63" height="11.65" fill="#ff5d00"/>
<rect x="369.91" y="97.13" width="11.63" height="11.65" fill="#ff5c00"/>
<rect x="381.44" y="97.13" width="11.63" height="11.65" fill="#ff6000"/>
<rect x="392.97" y="97.13" width="11.63" height="11.65" fill="#ff5d00"/>
<rect x="404.50" y="97.13" width="11.63" height="11.65" fill="#ff7300"/>
<rect x="416.03" y="97.13" width="11.63" height="11.65" fill="#f5f800"/>
<rect x="427.56" y="97.13" width="11.63" height="11.65" fill="#fac300"/>
<rect x="439.09" y="97.13" width="11.63" height="11.65" fill="#f5f500"/>
<rect x="450.62" y="97.13" width="11.63" height="11.65" fill="#def800"/>
<rect x="462.15" y="97.13" width="11.63" height="11.65" fill="#d9f800"/>
<rect x="473.68" y="97.13" width="11.63" height="11.65" fill="#d3f800"/>
<rect x="485.21" y="97.13" width="11.63" height="11.65" fill="#d0f800"/>
<rect x="496.74" y="97.13" width="11.63" height="11.65" fill="#c5f800"/>
<rect x="508.27" y="97.13" width="11.63" height="11.65" fill="#c7f800"/>
<rect x="519.80" y="97.13" width="11.63" height="11.65" fill="#bff800"/>
<rect x="116.25" y="108.67" width="11.63" height="11.65" fill="#ff6b00"/>
<rect x="127.78" y="108.67" width="11.63" height="11.65" fill="#ff6a00"/>
<rect x="139.31" y="108.67" width="11.63" height="11.65" fill="#ff6800"/>
<rect x="150.84" y="108.67" width="11.63" height="11.65" fill="#ff6700"/>
<rect x="162.37" y="108.67" width="11.63" height="11.65" fill="#ff6200"/>
<rect x="173.90" y="108.67" width="11.63" height="11.65" fill="#ff6c00"/>
<rect x="185.43" y="108.67" width="11.63" height="11.65" fill="#ff6a00"/>
<rect x="196.96" y="108.67" width="11.63" height="11.65" fill="#ff6900"/>
<rect x="208.49" y="108.67" width="11.63" height="11.65" fill="#ff6b00"/>
<rect x="220.02" y="108.67" width="11.63" height="11.65" fill="#ff6200"/>
<rect x="231.55" y="108.67" width="11.63" height="11.65" fill="#ff6c00"/>
<rect x="243.08" y="108.67" width="11.63" height="11.65" fill="#ff6f00"/>
<rect x="254.61" y="108.67" width="11.63" height="11.65" fill="#ff6b00"/>
<rect x="266.14" y="108.67" width="11.63" height="11.65" fill="#ff6a00"/>
<rect x="277.67" y="108.67" width="11.63" height="11.65" fill="#ff6800"/>
<rect x="289.20" y="108.67" width="11.63" height="11.65" fill="#ff6f00"/>
<rect x="300.73" y="108.67" width="11.63" height="11.65" fill="#ff7900"/>
<rect x="312.26" y="108.67" width="11.63" height="11.65" fill="#ff7a00"/>
<rect x="323.79" y="108.67" width="11.63" height="11.65" fill="#ff8800"/>
<rect x="335.32" y="108.67" width="11.63" height="11.65" fill="#ff8a00"/>
<rect x="346.85" y="108.67" width="11.63" height="11.65" fill="#ff7b00"/>
<rect x="358.38" y="108.67" width="11.63" height="11.65" fill="#ff6a00"/>
<rect x="369.91" y="108.67" width="11.63" height="11.65" fill="#ff6000"/>
<rect x="381.44" y="108.67" width="11.63" height="11.65" fill="#ff5c00"/>
<rect x="392.97" y="108.67" width="11.63" height="11.65" fill="#ff6900"/>
<rect x="404.50" y="108.67" width="11.63" height="11.65" fill="#ff7100"/>
<rect x="416.03" y="108.67" width="11.63" height="11.65" fill="#f6f000"/>
<rect x="427.56" y="108.67" width="11.63" height="11.65" fill="#fcb100"/>
<rect x="439.09" y="108.67" width="11.63" height="11.65" fill="#f7e600"/>
<rect x="450.62" y="108.67" width="11.63" height="11.65" fill="#dff800"/>
<rect x="462.15" y="108.67" width="11.63" height="11.65" fill="#e2f800"/>
<rect x="473.68" y="108.67" width="11.63" height="11.65" fill="#d9f800"/>
<rect x="485.21" y="108.67" width="11.63" height="11.65" fill="#d4f800"/>
<rect x="496.74" y="108.67" width="11.63" height="11.65" fill="#ccf800"/>
<rect x="508.27" y="108.67" width="11.63" height="11.65" fill="#ccf800"/>
<rect x="519.80" y="108.67" width="11.63" height="11.65" fill="#c5f800"/>
<rect x="116.25" y="120.22" width="11.63" height="11.65" fill="#ff6a00"/>
<rect x="127.78" y="120.22" width="11.63" height="11.65" fill="#ff6a00"/>
<rect x="139.31" y="120.22" width="11.63" height="11.65" fill="#ff6d00"/>
<rect x="150.84" y="120.22" width="11.63" height="11.65" fill="#ff6900"/>
<rect x="162.37" y="120.22" width="11.63" height="11.65" fill="#ff7000"/>
<rect x="173.90" y="120.22" width="11.63" height="11.65" fill="#ff7200"/>
<rect x="185.43" y="120.22" width="11.63" height="11.65" fill="#ff6b00"/>
<rect x="196.96" y="120.22" width="11.63" height="11.65" fill="#ff7000"/>
<rect x="208.49" y="120.22" width="11.63" height="11.65" fill="#ff7300"/>
<rect x="220.02" y="120.22" width="11.63" height="11.65" fill="#ff6d00"/>
<rect x="231.55" y="120.22" width="11.63" height="11.65" fill="#ff7100"/>
<rect x="243.08" y="120.22" width="11.63" height="11.65" fill="#ff7600"/>
<rect x="254.61" y="120.22" width="11.63" height="11.65" fill="#ff6d00"/>
<rect x="266.14" y="120.22" width="11.63" height="11.65" fill="#ff7200"/>
<rect x="277.67" y="120.22" width="11.63" height="11.65" fill="#ff6900"/>
<rect x="289.20" y="120.22" width="11.63" height="11.65" fill="#ff6f00"/>
<rect x="300.73" y="120.22" width="11.63" height="11.65" fill="#ff6900"/>
<rect x="312.26" y="120.22" width="11.63" height="11.65" fill="#ff7a00"/>
<rect x="323.79" y="120.22" width="11.63" height="11.65" fill="#ff8900"/>
<rect x="335.32" y="120.22" width="11.63" height="11.65" fill="#ff8b00"/>
<rect x="346.85" y="120.22" width="11.63" height="11.65" fill="#ff8600"/>
<rect x="358.38" y="120.22" width="11.63" height="11.65" fill="#ff7e00"/>
<rect x="369.91" y="120.22" width="11.63" height="11.65" fill="#ff7300"/>
<rect x="381.44" y="120.22" width="11.63" height="11.65" fill="#ff7300"/>
<rect x="392.97" y="120.22" width="11.63" height="11.65" fill="#ff6c00"/>
<rect x="404.50" y="120.22" width="11.63" height="11.65" fill="#ff7600"/>
<rect x="416.03" y="120.22" width="11.63" height="11.65" fill="#ff7d00"/>
<rect x="427.56" y="120.22" width="11.63" height="11.65" fill="#e2f800"/>
<rect x="439.09" y="120.22" width="11.63" height="11.65" fill="#f7e100"/>
<rect x="450.62" y="120.22" width="11.63" height="11.65" fill="#f0f800"/>
<rect x="462.15" y="120.22" width="11.63" height="11.65" fill="#e9f800"/>
<rect x="473.68" y="120.22" width="11.63" height="11.65" fill="#def800"/>
<rect x="485.21" y="120.22" width="11.63" height="11.65" fill="#def800"/>
<rect x="496.74" y="120.22" width="11.63" height="11.65" fill="#d1f800"/>
<rect x="508.27" y="120.22" width="11.63" height="11.65" fill="#cdf800"/>
<rect x="519.80" y="120.22" width="11.63" height="11.65" fill="#cef800"/>
<rect x="116.25" y="131.77" width="11.63" height="11.65" fill="#ff8100"/>
<rect x="127.78" y="131.77" width="11.63" height="11.65" fill="#ff7500"/>
<rect x="139.31" y="131.77" width="11.63" height="11.65" fill="#ff7d00"/>
<rect x="150.84" y="131.77" width="11.63" height="11.65" fill="#ff7900"/>
<rect x="162.37" y="131.77" width="11.63" height="11.65" fill="#ff7300"/>
<rect x="173.90" y="131.77" width="11.63" height="11.65" fill="#ff7e00"/>
<rect x="185.43" y="131.77" width="11.63" height="11.65" fill="#ff6f00"/>
<rect x="196.96" y="131.77" width="11.63" height="11.65" fill="#ff7c00"/>
<rect x="208.49" y="131.77" width="11.63" height="11.65" fill="#ff7400"/>
<rect x="220.02" y="131.77" width="11.63" height="11.65" fill="#ff7300"/>
<rect x="231.55" y="131.77" width="11.63" height="11.65" fill="#ff6e00"/>
<rect x="243.08" y="131.77" width="11.63" height="11.65" fill="#ff7700"/>
<rect x="254.61" y="131.77" width="11.63" height="11.65" fill="#ff6e00"/>
<rect x="266.14" y="131.77" width="11.63" height="11.65" fill="#ff7200"/>
<rect x="277.67" y="131.77" width="11.63" height="11.65" fill="#ff7300"/>
<rect x="289.20" y="131.77" width="11.63" height="11.65" fill="#ff7600"/>
<rect x="300.73" y="131.77" width="11.63" height="11.65" fill="#ff7300"/>
<rect x="312.26" y="131.77" width="11.63" height="11.65" fill="#ff7600"/>
<rect x="323.79" y="131.77" width="11.63" height="11.65" fill="#ff8300"/>
<rect x="335.32" y="131.77" width="11.63" height="11.65" fill="#ff8b00"/>
<rect x="346.85" y="131.77" width="11.63" height="11.65" fill="#ff8800"/>
<rect x="358.38" y="131.77" width="11.63" height="11.65" fill="#ff8b00"/>
<rect x="369.91" y="131.77" width="11.63" height="11.65" fill="#ff7b00"/>
<rect x="381.44" y="131.77" width="11.63" height="11.65" fill="#ff7d00"/>
<rect x="392.97" y="131.77" width="11.63" height="11.65" fill="#ff7800"/>
<rect x="404.50" y="131.77" width="11.63" height="11.65" fill="#ff7100"/>
<rect x="416.03" y="131.77" width="11.63" height="11.65" fill="#ff7700"/>
<rect x="427.56" y="131.77" width="11.63" height="11.65" fill="#d6f800"/>
<rect x="439.09" y="131.77" width="11.63" height="11.65" fill="#f7e700"/>
<rect x="450.62" y="131.77" width="11.63" height="11.65" fill="#e0f800"/>
<rect x="462.15" y="131.77" width="11.63" height="11.65" fill="#cef800"/>
<rect x="473.68" y="131.77" width="11.63" height="11.65" fill="#c1f800"/>
<rect x="485.21" y="131.77" width="11.63" height="11.65" fill="#bdf800"/>
<rect x="496.74" y="131.77" width="11.63" height="11.65" fill="#b3f700"/>
<rect x="508.27" y="131.77" width="11.63" height="11.65" fill="#b5f700"/>
<rect x="519.80" y="131.77" width="11.63" height="11.65" fill="#b6f800"/>
<rect x="116.25" y="143.31" width="11.63" height="11.65" fill="#ff8400"/>
<rect x="127.78" y="143.31" width="11.63" height="11.65" fill="#ff8400"/>
<rect x="139.31" y="143.31" width="11.63" height="11.65" fill="#ff8700"/>
<rect x="150.84" y="143.31" width="11.63" height="11.65" fill="#ff8a00"/>
<rect x="162.37" y="143.31" width="11.63" height="11.65" fill="#ff7d00"/>
<rect x="173.90" y="143.31" width="11.63" height="11.65" fill="#ff8100"/>
<rect x="185.43" y="143.31" width="11.63" height="11.65" fill="#ff7300"/>
<rect x="196.96" y="143.31" width="11.63" height="11.65" fill="#ff7600"/>
<rect x="208.49" y="143.31" width="11.63" height="11.65" fill="#ff7300"/>
<rect x="220.02" y="143.31" width="11.63" height="11.65" fill="#ff7500"/>
<rect x="231.55" y="143.31" width="11.63" height="11.65" fill="#ff7300"/>
<rect x="243.08" y="143.31" width="11.63" height="11.65" fill="#ff7800"/>
<rect x="254.61" y="143.31" width="11.63" height="11.65" fill="#ff7400"/>
<rect x="266.14" y="143.31" width="11.63" height="11.65" fill="#ff7100"/>
<rect x="277.67" y="143.31" width="11.63" height="11.65" fill="#ff7600"/>
<rect x="289.20" y="143.31" width="11.63" height="11.65" fill="#ff7200"/>
<rect x="300.73" y="143.31" width="11.63" height="11.65" fill="#ff7400"/>
<rect x="312.26" y="143.31" width="11.63" height="11.65" fill="#ff7700"/>
<rect x="323.79" y="143.31" width="11.63" height="11.65" fill="#ff8000"/>
<rect x="335.32" y="143.31" width="11.63" height="11.65" fill="#ff8200"/>
<rect x="346.85" y="143.31" width="11.63" height="11.65" fill="#ff8100"/>
<rect x="358.38" y="143.31" width="11.63" height="11.65" fill="#ff8700"/>
<rect x="369.91" y="143.31" width="11.63" height="11.65" fill="#ff8400"/>
<rect x="381.44" y="143.31" width="11.63" height="11.65" fill="#ff7700"/>
<rect x="392.97" y="143.31" width="11.63" height="11.65" fill="#ff8100"/>
<rect x="404.50" y="143.31" width="11.63" height="11.65" fill="#ff7b00"/>
<rect x="416.03" y="143.31" width="11.63" height="11.65" fill="#ff8500"/>
<rect x="427.56" y="143.31" width="11.63" height="11.65" fill="#fcb300"/>
<rect x="439.09" y="143.31" width="11.63" height="11.65" fill="#f6ee00"/>
<rect x="450.62" y="143.31" width="11.63" height="11.65" fill="#c3f800"/>
<rect x="462.15" y="143.31" width="11.63" height="11.65" fill="#acf700"/>
<rect x="473.68" y="143.31" width="11.63" height="11.65" fill="#8cf600"/>
<rect x="485.21" y="143.31" width="11.63" height="11.65" fill="#84f500"/>
<rect x="496.74" y="143.31" width="11.63" height="11.65" fill="#7bf500"/>
<rect x="508.27" y="143.31" width="11.63" height="11.65" fill="#7df500"/>
<rect x="519.80" y="143.31" width="11.63" height="11.65" fill="#71f400"/>
<rect x="116.25" y="154.86" width="11.63" height="11.65" fill="#fea100"/>
<rect x="127.78" y="154.86" width="11.63" height="11.65" fill="#ff9800"/>
<rect x="139.31" y="154.86" width="11.63" height="11.65" fill="#ff9900"/>
<rect x="150.84" y="154.86" width="11.63" height="11.65" fill="#ff9600"/>
<rect x="162.37" y="154.86" width="11.63" height="11.65" fill="#ff9500"/>
<rect x="173.90" y="154.86" width="11.63" height="11.65" fill="#ff9000"/>
<rect x="185.43" y="154.86" width="11.63" height="11.65" fill="#ff9700"/>
<rect x="196.96" y="154.86" width="11.63" height="11.65" fill="#ff8700"/>
<rect x="208.49" y="154.86" width="11.63" height="11.65" fill="#ff8b00"/>
<rect x="220.02" y="154.86" width="11.63" height="11.65" fill="#ff7d00"/>
<rect x="231.55" y="154.86" width="11.63" height="11.65" fill="#ff7c00"/>
<rect x="243.08" y="154.86" width="11.63" height="11.65" fill="#ff7000"/>
<rect x="254.61" y="154.86" width="11.63" height="11.65" fill="#ff7e00"/>
<rect x="266.14" y="154.86" width="11.63" height="11.65" fill="#ff6f00"/>
<rect x="277.67" y="154.86" width="11.63" height="11.65" fill="#ff7d00"/>
<rect x="289.20" y="154.86" width="11.63" height="11.65" fill="#ff7600"/>
<rect x="300.73" y="154.86" width="11.63" height="11.65" fill="#ff7700"/>
<rect x="312.26" y="154.86" width="11.63" height="11.65" fill="#ff7200"/>
<rect x="323.79" y="154.86" width="11.63" height="11.65" fill="#ff7c00"/>
<rect x="335.32" y="154.86" width="11.63" height="11.65" fill="#ff7b00"/>
<rect x="346.85" y="154.86" width="11.63" height="11.65" fill="#ff7e00"/>
<rect x="358.38" y="154.86" width="11.63" height="11.65" fill="#ff8500"/>
<rect x="369.91" y="154.86" width="11.63" height="11.65" fill="#ff8a00"/>
<rect x="381.44" y="154.86" width="11.63" height="11.65" fill="#ff8a00"/>
<rect x="392.97" y="154.86" width="11.63" height="11.65" fill="#ff8100"/>
<rect x="404.50" y="154.86" width="11.63" height="11.65" fill="#ff8300"/>
<rect x="416.03" y="154.86" width="11.63" height="11.65" fill="#ff9300"/>
<rect x="427.56" y="154.86" width="11.63" height="11.65" fill="#fcb700"/>
<rect x="439.09" y="154.86" width="11.63" height="11.65" fill="#f6ea00"/>
<rect x="450.62" y="154.86" width="11.63" height="11.65" fill="#c9f800"/>
<rect x="462.15" y="154.86" width="11.63" height="11.65" fill="#96f600"/>
<rect x="473.68" y="154.86" width="11.63" height="11.65" fill="#6ef400"/>
<rect x="485.21" y="154.86" width="11.63" height="11.65" fill="#5df300"/>
<rect x="496.74" y="154.86" width="11.63" height="11.65" fill="#50f200"/>
<rect x="508.27" y="154.86" width="11.63" height="11.65" fill="#44f100"/>
<rect x="519.80" y="154.86" width="11.63" height="11.65" fill="#44f100"/>
<rect x="116.25" y="166.41" width="11.63" height="11.65" fill="#fbb800"/>
<rect x="127.78" y="166.41" width="11.63" height="11.65" fill="#fbbb00"/>
<rect x="139.31" y="166.41" width="11.63" height="11.65" fill="#fcb300"/>
<rect x="150.84" y="166.41" width="11.63" height="11.65" fill="#fdac00"/>
<rect x="162.37" y="166.41" width="11.63" height="11.65" fill="#fcb000"/>
<rect x="173.90" y="166.41" width="11.63" height="11.65" fill="#fcaf00"/>
<rect x="185.43" y="166.41" width="11.63" height="11.65" fill="#fcb200"/>
<rect x="196.96" y="166.41" width="11.63" height="11.65" fill="#fcb300"/>
<rect x="208.49" y="166.41" width="11.63" height="11.65" fill="#fdac00"/>
<rect x="220.02" y="166.41" width="11.63" height="11.65" fill="#ff9900"/>
<rect x="231.55" y="166.41" width="11.63" height="11.65" fill="#ff8200"/>
<rect x="243.08" y="166.41" width="11.63" height="11.65" fill="#ff7e00"/>
<rect x="254.61" y="166.41" width="11.63" height="11.65" fill="#ff7400"/>
<rect x="266.14" y="166.41" width="11.63" height="11.65" fill="#ff7700"/>
<rect x="277.67" y="166.41" width="11.63" height="11.65" fill="#ff7300"/>
<rect x="289.20" y="166.41" width="11.63" height="11.65" fill="#ff7500"/>
<rect x="300.73" y="166.41" width="11.63" height="11.65" fill="#ff7900"/>
<rect x="312.26" y="166.41" width="11.63" height="11.65" fill="#ff7900"/>
<rect x="323.79" y="166.41" width="11.63" height="11.65" fill="#ff8600"/>
<rect x="335.32" y="166.41" width="11.63" height="11.65" fill="#ff8600"/>
<rect x="346.85" y="166.41" width="11.63" height="11.65" fill="#ff9300"/>
<rect x="358.38" y="166.41" width="11.63" height="11.65" fill="#ff9100"/>
<rect x="369.91" y="166.41" width="11.63" height="11.65" fill="#ff8e00"/>
<rect x="381.44" y="166.41" width="11.63" height="11.65" fill="#ff8900"/>
<rect x="392.97" y="166.41" width="11.63" height="11.65" fill="#ff8c00"/>
<rect x="404.50" y="166.41" width="11.63" height="11.65" fill="#ff9000"/>
<rect x="416.03" y="166.41" width="11.63" height="11.65" fill="#fe9d00"/>
<rect x="427.56" y="166.41" width="11.63" height="11.65" fill="#fcb000"/>
<rect x="439.09" y="166.41" width="11.63" height="11.65" fill="#f9d200"/>
<rect x="450.62" y="166.41" width="11.63" height="11.65" fill="#e7f800"/>
<rect x="462.15" y="166.41" width="11.63" height="11.65" fill="#a9f700"/>
<rect x="473.68" y="166.41" width="11.63" height="11.65" fill="#84f600"/>
<rect x="485.21" y="166.41" width="11.63" height="11.65" fill="#85f600"/>
<rect x="496.74" y="166.41" width="11.63" height="11.65" fill="#7af500"/>
<rect x="508.27" y="166.41" width="11.63" height="11.65" fill="#6af400"/>
<rect x="519.80" y="166.41" width="11.63" height="11.65" fill="#66f400"/>
<rect x="116.25" y="177.95" width="11.63" height="11.65" fill="#f9d300"/>
<rect x="127.78" y="177.95" width="11.63" height="11.65" fill="#fac900"/>
<rect x="139.31" y="177.95" width="11.63" height="11.65" fill="#fac200"/>
<rect x="150.84" y="177.95" width="11.63" height="11.65" fill="#fac300"/>
<rect x="162.37" y="177.95" width="11.63" height="11.65" fill="#fbbd00"/>
<rect x="173.90" y="177.95" width="11.63" height="11.65" fill="#fac400"/>
<rect x="185.43" y="177.95" width="11.63" height="11.65" fill="#f9d200"/>
<rect x="196.96" y="177.95" width="11.63" height="11.65" fill="#f9d400"/>
<rect x="208.49" y="177.95" width="11.63" height="11.65" fill="#f9cc00"/>
<rect x="220.02" y="177.95" width="11.63" height="11.65" fill="#faca00"/>
<rect x="231.55" y="177.95" width="11.63" height="11.65" fill="#fcb400"/>
<rect x="243.08" y="177.95" width="11.63" height="11.65" fill="#fe9f00"/>
<rect x="254.61" y="177.95" width="11.63" height="11.65" fill="#ff8f00"/>
<rect x="266.14" y="177.95" width="11.63" height="11.65" fill="#ff8500"/>
<rect x="277.67" y="177.95" width="11.63" height="11.65" fill="#ff8a00"/>
<rect x="289.20" y="177.95" width="11.63" height="11.65" fill="#ff8300"/>
<rect x="300.73" y="177.95" width="11.63" height="11.65" fill="#ff8d00"/>
<rect x="312.26" y="177.95" width="11.63" height="11.65" fill="#ff8d00"/>
<rect x="323.79" y="177.95" width="11.63" height="11.65" fill="#ff8d00"/>
<rect x="335.32" y="177.95" width="11.63" height="11.65" fill="#ff9500"/>
<rect x="346.85" y="177.95" width="11.63" height="11.65" fill="#fe9c00"/>
<rect x="358.38" y="177.95" width="11.63" height="11.65" fill="#fe9e00"/>
<rect x="369.91" y="177.95" width="11.63" height="11.65" fill="#fea200"/>
<rect x="381.44" y="177.95" width="11.63" height="11.65" fill="#fea300"/>
<rect x="392.97" y="177.95" width="11.63" height="11.65" fill="#fe9f00"/>
<rect x="404.50" y="177.95" width="11.63" height="11.65" fill="#fea200"/>
<rect x="416.03" y="177.95" width="11.63" height="11.65" fill="#fcb300"/>
<rect x="427.56" y="177.95" width="11.63" height="11.65" fill="#fbb900"/>
<rect x="439.09" y="177.95" width="11.63" height="11.65" fill="#fac700"/>
<rect x="450.62" y="177.95" width="11.63" height="11.65" fill="#f5f400"/>
<rect x="462.15" y="177.95" width="11.63" height="11.65" fill="#b7f800"/>
<rect x="473.68" y="177.95" width="11.63" height="11.65" fill="#a5f700"/>
<rect x="485.21" y="177.95" width="11.63" height="11.65" fill="#a3f700"/>
<rect x="496.74" y="177.95" width="11.63" height="11.65" fill="#a0f700"/>
<rect x="508.27" y="177.95" width="11.63" height="11.65" fill="#9bf700"/>
<rect x="519.80" y="177.95" width="11.63" height="11.65" fill="#92f600"/>
<rect x="116.25" y="189.50" width="11.63" height="11.65" fill="#f8d800"/>
<rect x="127.78" y="189.50" width="11.63" height="11.65" fill="#f8dc00"/>
<rect x="139.31" y="189.50" width="11.63" height="11.65" fill="#f9cf00"/>
<rect x="150.84" y="189.50" width="11.63" height="11.65" fill="#f9ce00"/>
<rect x="162.37" y="189.50" width="11.63" height="11.65" fill="#fac900"/>
<rect x="173.90" y="189.50" width="11.63" height="11.65" fill="#f8d800"/>
<rect x="185.43" y="189.50" width="11.63" height="11.65" fill="#f7e600"/>
<rect x="196.96" y="189.50" width="11.63" height="11.65" fill="#f5f600"/>
<rect x="208.49" y="189.50" width="11.63" height="11.65" fill="#f5f800"/>
<rect x="220.02" y="189.50" width="11.63" height="11.65" fill="#cff800"/>
<rect x="231.55" y="189.50" width="11.63" height="11.65" fill="#d6f800"/>
<rect x="243.08" y="189.50" width="11.63" height="11.65" fill="#f7e000"/>
<rect x="254.61" y="189.50" width="11.63" height="11.65" fill="#fbb900"/>
<rect x="266.14" y="189.50" width="11.63" height="11.65" fill="#fda700"/>
<rect x="277.67" y="189.50" width="11.63" height="11.65" fill="#fe9d00"/>
<rect x="289.20" y="189.50" width="11.63" height="11.65" fill="#ff9a00"/>
<rect x="300.73" y="189.50" width="11.63" height="11.65" fill="#fea000"/>
<rect x="312.26" y="189.50" width="11.63" height="11.65" fill="#fea200"/>
<rect x="323.79" y="189.50" width="11.63" height="11.65" fill="#fea300"/>
<rect x="335.32" y="189.50" width="11.63" height="11.65" fill="#fda600"/>
<rect x="346.85" y="189.50" width="11.63" height="11.65" fill="#fdae00"/>
<rect x="358.38" y="189.50" width="11.63" height="11.65" fill="#fcb200"/>
<rect x="369.91" y="189.50" width="11.63" height="11.65" fill="#fbbb00"/>
<rect x="381.44" y="189.50" width="11.63" height="11.65" fill="#fbc100"/>
<rect x="392.97" y="189.50" width="11.63" height="11.65" fill="#fbc200"/>
<rect x="404.50" y="189.50" width="11.63" height="11.65" fill="#fac200"/>
<rect x="416.03" y="189.50" width="11.63" height="11.65" fill="#fbc000"/>
<rect x="427.56" y="189.50" width="11.63" height="11.65" fill="#fac700"/>
<rect x="439.09" y="189.50" width="11.63" height="11.65" fill="#f9d200"/>
<rect x="450.62" y="189.50" width="11.63" height="11.65" fill="#f6f200"/>
<rect x="462.15" y="189.50" width="11.63" height="11.65" fill="#d7f800"/>
<rect x="473.68" y="189.50" width="11.63" height="11.65" fill="#ccf800"/>
<rect x="485.21" y="189.50" width="11.63" height="11.65" fill="#c1f800"/>
<rect x="496.74" y="189.50" width="11.63" height="11.65" fill="#bdf800"/>
<rect x="508.27" y="189.50" width="11.63" height="11.65" fill="#baf800"/>
<rect x="519.80" y="189.50" width="11.63" height="11.65" fill="#b7f800"/>
<rect x="116.25" y="201.04" width="11.63" height="11.65" fill="#f7e700"/>
<rect x="127.78" y="201.04" width="11.63" height="11.65" fill="#f8dc00"/>
<rect x="139.31" y="201.04" width="11.63" height="11.65" fill="#f9d400"/>
<rect x="150.84" y="201.04" width="11.63" height="11.65" fill="#f9d200"/>
<rect x="162.37" y="201.04" width="11.63" height="11.65" fill="#f8da00"/>
<rect x="173.90" y="201.04" width="11.63" height="11.65" fill="#f7e600"/>
<rect x="185.43" y="201.04" width="11.63" height="11.65" fill="#f6f000"/>
<rect x="196.96" y="201.04" width="11.63" height="11.65" fill="#e9f800"/>
<rect x="208.49" y="201.04" width="11.63" height="11.65" fill="#cff800"/>
<rect x="220.02" y="201.04" width="11.63" height="11.65" fill="#b5f800"/>
<rect x="231.55" y="201.04" width="11.63" height="11.65" fill="#b5f800"/>
<rect x="243.08" y="201.04" width="11.63" height="11.65" fill="#ecf800"/>
<rect x="254.61" y="201.04" width="11.63" height="11.65" fill="#f8d800"/>
<rect x="266.14" y="201.04" width="11.63" height="11.65" fill="#fcb700"/>
<rect x="277.67" y="201.04" width="11.63" height="11.65" fill="#fcb400"/>
<rect x="289.20" y="201.04" width="11.63" height="11.65" fill="#fdac00"/>
<rect x="300.73" y="201.04" width="11.63" height="11.65" fill="#fda900"/>
<rect x="312.26" y="201.04" width="11.63" height="11.65" fill="#fdac00"/>
<rect x="323.79" y="201.04" width="11.63" height="11.65" fill="#fdac00"/>
<rect x="335.32" y="201.04" width="11.63" height="11.65" fill="#fcb600"/>
<rect x="346.85" y="201.04" width="11.63" height="11.65" fill="#fcb600"/>
<rect x="358.38" y="201.04" width="11.63" height="11.65" fill="#fbbe00"/>
<rect x="369.91" y="201.04" width="11.63" height="11.65" fill="#facc00"/>
<rect x="381.44" y="201.04" width="11.63" height="11.65" fill="#f8d700"/>
<rect x="392.97" y="201.04" width="11.63" height="11.65" fill="#f8d900"/>
<rect x="404.50" y="201.04" width="11.63" height="11.65" fill="#f8d700"/>
<rect x="416.03" y="201.04" width="11.63" height="11.65" fill="#f9d000"/>
<rect x="427.56" y="201.04" width="11.63" height="11.65" fill="#f9d100"/>
<rect x="439.09" y="201.04" width="11.63" height="11.65" fill="#f8d900"/>
<rect x="450.62" y="201.04" width="11.63" height="11.65" fill="#f7e800"/>
<rect x="462.15" y="201.04" width="11.63" height="11.65" fill="#f1f800"/>
<rect x="473.68" y="201.04" width="11.63" height="11.65" fill="#e1f800"/>
<rect x="485.21" y="201.04" width="11.63" height="11.65" fill="#dff800"/>
<rect x="496.74" y="201.04" width="11.63" height="11.65" fill="#d1f800"/>
<rect x="508.27" y="201.04" width="11.63" height="11.65" fill="#cff800"/>
<rect x="519.80" y="201.04" width="11.63" height="11.65" fill="#c9f800"/>
<rect x="116.25" y="212.59" width="11.63" height="11.65" fill="#f6ed00"/>
<rect x="127.78" y="212.59" width="11.63" height="11.65" fill="#f7e400"/>
<rect x="139.31" y="212.59" width="11.63" height="11.65" fill="#f9d300"/>
<rect x="150.84" y="212.59" width="11.63" height="11.65" fill="#fbb900"/>
<rect x="162.37" y="212.59" width="11.63" height="11.65" fill="#f7e300"/>
<rect x="173.90" y="212.59" width="11.63" height="11.65" fill="#f6f200"/>
<rect x="185.43" y="212.59" width="11.63" height="11.65" fill="#e9f800"/>
<rect x="196.96" y="212.59" width="11.63" height="11.65" fill="#cff800"/>
<rect x="208.49" y="212.59" width="11.63" height="11.65" fill="#bef800"/>
<rect x="220.02" y="212.59" width="11.63" height="11.65" fill="#bef800"/>
<rect x="231.55" y="212.59" width="11.63" height="11.65" fill="#cff800"/>
<rect x="243.08" y="212.59" width="11.63" height="11.65" fill="#e9f800"/>
<rect x="254.61" y="212.59" width="11.63" height="11.65" fill="#f7e500"/>
<rect x="266.14" y="212.59" width="11.63" height="11.65" fill="#f9cc00"/>
<rect x="277.67" y="212.59" width="11.63" height="11.65" fill="#fbc200"/>
<rect x="289.20" y="212.59" width="11.63" height="11.65" fill="#fbbb00"/>
<rect x="300.73" y="212.59" width="11.63" height="11.65" fill="#fcaf00"/>
<rect x="312.26" y="212.59" width="11.63" height="11.65" fill="#fda800"/>
<rect x="323.79" y="212.59" width="11.63" height="11.65" fill="#fdaa00"/>
<rect x="335.32" y="212.59" width="11.63" height="11.65" fill="#fdac00"/>
<rect x="346.85" y="212.59" width="11.63" height="11.65" fill="#fcb600"/>
<rect x="358.38" y="212.59" width="11.63" height="11.65" fill="#fbbf00"/>
<rect x="369.91" y="212.59" width="11.63" height="11.65" fill="#f9d200"/>
<rect x="381.44" y="212.59" width="11.63" height="11.65" fill="#f8df00"/>
<rect x="392.97" y="212.59" width="11.63" height="11.65" fill="#f7e300"/>
<rect x="404.50" y="212.59" width="11.63" height="11.65" fill="#f8df00"/>
<rect x="416.03" y="212.59" width="11.63" height="11.65" fill="#f9d300"/>
<rect x="427.56" y="212.59" width="11.63" height="11.65" fill="#f9d400"/>
<rect x="439.09" y="212.59" width="11.63" height="11.65" fill="#f8d700"/>
<rect x="450.62" y="212.59" width="11.63" height="11.65" fill="#f7e300"/>
<rect x="462.15" y="212.59" width="11.63" height="11.65" fill="#f5f400"/>
<rect x="473.68" y="212.59" width="11.63" height="11.65" fill="#e3f800"/>
<rect x="485.21" y="212.59" width="11.63" height="11.65" fill="#e7f800"/>
<rect x="496.74" y="212.59" width="11.63" height="11.65" fill="#d6f800"/>
<rect x="508.27" y="212.59" width="11.63" height="11.65" fill="#dbf800"/>
<rect x="519.80" y="212.59" width="11.63" height="11.65" fill="#d9f800"/>
<rect x="116.25" y="224.14" width="11.63" height="11.65" fill="#f4f800"/>
<rect x="127.78" y="224.14" width="11.63" height="11.65" fill="#f6eb00"/>
<rect x="139.31" y="224.14" width="11.63" height="11.65" fill="#f8df00"/>
<rect x="150.84" y="224.14" width="11.63" height="11.65" fill="#f8dd00"/>
<rect x="162.37" y="224.14" width="11.63" height="11.65" fill="#f7e900"/>
<rect x="173.90" y="224.14" width="11.63" height="11.65" fill="#f5f600"/>
<rect x="185.43" y="224.14" width="11.63" height="11.65" fill="#fac900"/>
<rect x="196.96" y="224.14" width="11.63" height="11.65" fill="#c7f800"/>
<rect x="208.49" y="224.14" width="11.63" height="11.65" fill="#acf700"/>
<rect x="220.02" y="224.14" width="11.63" height="11.65" fill="#a3f700"/>
<rect x="231.55" y="224.14" width="11.63" height="11.65" fill="#acf700"/>
<rect x="243.08" y="224.14" width="11.63" height="11.65" fill="#e9f800"/>
<rect x="254.61" y="224.14" width="11.63" height="11.65" fill="#f8d700"/>
<rect x="266.14" y="224.14" width="11.63" height="11.65" fill="#f9cc00"/>
<rect x="277.67" y="224.14" width="11.63" height="11.65" fill="#facb00"/>
<rect x="289.20" y="224.14" width="11.63" height="11.65" fill="#fac600"/>
<rect x="300.73" y="224.14" width="11.63" height="11.65" fill="#fbba00"/>
<rect x="312.26" y="224.14" width="11.63" height="11.65" fill="#fbbd00"/>
<rect x="323.79" y="224.14" width="11.63" height="11.65" fill="#fbb900"/>
<rect x="335.32" y="224.14" width="11.63" height="11.65" fill="#fbbe00"/>
<rect x="346.85" y="224.14" width="11.63" height="11.65" fill="#faca00"/>
<rect x="358.38" y="224.14" width="11.63" height="11.65" fill="#f9d000"/>
<rect x="369.91" y="224.14" width="11.63" height="11.65" fill="#f8db00"/>
<rect x="381.44" y="224.14" width="11.63" height="11.65" fill="#f7e300"/>
<rect x="392.97" y="224.14" width="11.63" height="11.65" fill="#f8df00"/>
<rect x="404.50" y="224.14" width="11.63" height="11.65" fill="#f7e200"/>
<rect x="416.03" y="224.14" width="11.63" height="11.65" fill="#f8d700"/>
<rect x="427.56" y="224.14" width="11.63" height="11.65" fill="#f8d900"/>
<rect x="439.09" y="224.14" width="11.63" height="11.65" fill="#f7e400"/>
<rect x="450.62" y="224.14" width="11.63" height="11.65" fill="#f3f800"/>
<rect x="462.15" y="224.14" width="11.63" height="11.65" fill="#e0f800"/>
<rect x="473.68" y="224.14" width="11.63" height="11.65" fill="#d1f800"/>
<rect x="485.21" y="224.14" width="11.63" height="11.65" fill="#cbf800"/>
<rect x="496.74" y="224.14" width="11.63" height="11.65" fill="#c3f800"/>
<rect x="508.27" y="224.14" width="11.63" height="11.65" fill="#c0f800"/>
<rect x="519.80" y="224.14" width="11.63" height="11.65" fill="#c1f800"/>
<rect x="116.25" y="235.68" width="11.63" height="11.65" fill="#ebf800"/>
<rect x="127.78" y="235.68" width="11.63" height="11.65" fill="#e8f800"/>
<rect x="139.31" y="235.68" width="11.63" height="11.65" fill="#f5f500"/>
<rect x="150.84" y="235.68" width="11.63" height="11.65" fill="#f5f300"/>
<rect x="162.37" y="235.68" width="11.63" height="11.65" fill="#f4f800"/>
<rect x="173.90" y="235.68" width="11.63" height="11.65" fill="#f0f800"/>
<rect x="185.43" y="235.68" width="11.63" height="11.65" fill="#daf800"/>
<rect x="196.96" y="235.68" width="11.63" height="11.65" fill="#d2f800"/>
<rect x="208.49" y="235.68" width="11.63" height="11.65" fill="#d7f800"/>
<rect x="220.02" y="235.68" width="11.63" height="11.65" fill="#d6f800"/>
<rect x="231.55" y="235.68" width="11.63" height="11.65" fill="#e6f800"/>
<rect x="243.08" y="235.68" width="11.63" height="11.65" fill="#f7e800"/>
<rect x="254.61" y="235.68" width="11.63" height="11.65" fill="#facc00"/>
<rect x="266.14" y="235.68" width="11.63" height="11.65" fill="#fdaa00"/>
<rect x="277.67" y="235.68" width="11.63" height="11.65" fill="#fdaa00"/>
<rect x="289.20" y="235.68" width="11.63" height="11.65" fill="#f9cd00"/>
<rect x="300.73" y="235.68" width="11.63" height="11.65" fill="#f8df00"/>
<rect x="312.26" y="235.68" width="11.63" height="11.65" fill="#f7e500"/>
<rect x="323.79" y="235.68" width="11.63" height="11.65" fill="#f9d200"/>
<rect x="335.32" y="235.68" width="11.63" height="11.65" fill="#f9d400"/>
<rect x="346.85" y="235.68" width="11.63" height="11.65" fill="#f8de00"/>
<rect x="358.38" y="235.68" width="11.63" height="11.65" fill="#f7e900"/>
<rect x="369.91" y="235.68" width="11.63" height="11.65" fill="#f6ed00"/>
<rect x="381.44" y="235.68" width="11.63" height="11.65" fill="#f7e600"/>
<rect x="392.97" y="235.68" width="11.63" height="11.65" fill="#f7e000"/>
<rect x="404.50" y="235.68" width="11.63" height="11.65" fill="#f7e400"/>
<rect x="416.03" y="235.68" width="11.63" height="11.65" fill="#f6ee00"/>
<rect x="427.56" y="235.68" width="11.63" height="11.65" fill="#f5f600"/>
<rect x="439.09" y="235.68" width="11.63" height="11.65" fill="#e8f800"/>
<rect x="450.62" y="235.68" width="11.63" height="11.65" fill="#d1f800"/>
<rect x="462.15" y="235.68" width="11.63" height="11.65" fill="#b9f800"/>
<rect x="473.68" y="235.68" width="11.63" height="11.65" fill="#aef700"/>
<rect x="485.21" y="235.68" width="11.63" height="11.65" fill="#aaf700"/>
<rect x="496.74" y="235.68" width="11.63" height="11.65" fill="#a1f700"/>
<rect x="508.27" y="235.68" width="11.63" height="11.65" fill="#a0f700"/>
<rect x="519.80" y="235.68" width="11.63" height="11.65" fill="#95f600"/>
<rect x="116.25" y="247.23" width="11.63" height="11.65" fill="#daf800"/>
<rect x="127.78" y="247.23" width="11.63" height="11.65" fill="#e1f800"/>
<rect x="139.31" y="247.23" width="11.63" height="11.65" fill="#e6f800"/>
<rect x="150.84" y="247.23" width="11.63" height="11.65" fill="#ebf800"/>
<rect x="162.37" y="247.23" width="11.63" height="11.65" fill="#e7f800"/>
<rect x="173.90" y="247.23" width="11.63" height="11.65" fill="#dff800"/>
<rect x="185.43" y="247.23" width="11.63" height="11.65" fill="#d3f800"/>
<rect x="196.96" y="247.23" width="11.63" height="11.65" fill="#d2f800"/>
<rect x="208.49" y="247.23" width="11.63" height="11.65" fill="#daf800"/>
<rect x="220.02" y="247.23" width="11.63" height="11.65" fill="#e2f800"/>
<rect x="231.55" y="247.23" width="11.63" height="11.65" fill="#f5f600"/>
<rect x="243.08" y="247.23" width="11.63" height="11.65" fill="#f8de00"/>
<rect x="254.61" y="247.23" width="11.63" height="11.65" fill="#f9cd00"/>
<rect x="266.14" y="247.23" width="11.63" height="11.65" fill="#fdaa00"/>
<rect x="277.67" y="247.23" width="11.63" height="11.65" fill="#fcb100"/>
<rect x="289.20" y="247.23" width="11.63" height="11.65" fill="#f7e000"/>
<rect x="300.73" y="247.23" width="11.63" height="11.65" fill="#f2f800"/>
<rect x="312.26" y="247.23" width="11.63" height="11.65" fill="#f2f800"/>
<rect x="323.79" y="247.23" width="11.63" height="11.65" fill="#f5f400"/>
<rect x="335.32" y="247.23" width="11.63" height="11.65" fill="#acf700"/>
<rect x="346.85" y="247.23" width="11.63" height="11.65" fill="#a3f700"/>
<rect x="358.38" y="247.23" width="11.63" height="11.65" fill="#acf700"/>
<rect x="369.91" y="247.23" width="11.63" height="11.65" fill="#f6ee00"/>
<rect x="381.44" y="247.23" width="11.63" height="11.65" fill="#f7e200"/>
<rect x="392.97" y="247.23" width="11.63" height="11.65" fill="#f8dc00"/>
<rect x="404.50" y="247.23" width="11.63" height="11.65" fill="#f9d600"/>
<rect x="416.03" y="247.23" width="11.63" height="11.65" fill="#f7e800"/>
<rect x="427.56" y="247.23" width="11.63" height="11.65" fill="#f6f000"/>
<rect x="439.09" y="247.23" width="11.63" height="11.65" fill="#e1f800"/>
<rect x="450.62" y="247.23" width="11.63" height="11.65" fill="#c3f800"/>
<rect x="462.15" y="247.23" width="11.63" height="11.65" fill="#abf700"/>
<rect x="473.68" y="247.23" width="11.63" height="11.65" fill="#8ef600"/>
<rect x="485.21" y="247.23" width="11.63" height="11.65" fill="#87f600"/>
<rect x="496.74" y="247.23" width="11.63" height="11.65" fill="#80f500"/>
<rect x="508.27" y="247.23" width="11.63" height="11.65" fill="#74f400"/>
<rect x="519.80" y="247.23" width="11.63" height="11.65" fill="#6ef400"/>
<rect x="116.25" y="258.77" width="11.63" height="11.65" fill="#c9f800"/>
<rect x="127.78" y="258.77" width="11.63" height="11.65" fill="#caf800"/>
<rect x="139.31" y="258.77" width="11.63" height="11.65" fill="#d7f800"/>
<rect x="150.84" y="258.77" width="11.63" height="11.65" fill="#d9f800"/>
<rect x="162.37" y="258.77" width="11.63" height="11.65" fill="#d0f800"/>
<rect x="173.90" y="258.77" width="11.63" height="11.65" fill="#d2f800"/>
<rect x="185.43" y="258.77" width="11.63" height="11.65" fill="#d6f800"/>
<rect x="196.96" y="258.77" width="11.63" height="11.65" fill="#ccf800"/>
<rect x="208.49" y="258.77" width="11.63" height="11.65" fill="#ccf800"/>
<rect x="220.02" y="258.77" width="11.63" height="11.65" fill="#dff800"/>
<rect x="231.55" y="258.77" width="11.63" height="11.65" fill="#f8d900"/>
<rect x="243.08" y="258.77" width="11.63" height="11.65" fill="#f9d100"/>
<rect x="254.61" y="258.77" width="11.63" height="11.65" fill="#f9d100"/>
<rect x="266.14" y="258.77" width="11.63" height="11.65" fill="#f8d900"/>
<rect x="277.67" y="258.77" width="11.63" height="11.65" fill="#f6ea00"/>
<rect x="289.20" y="258.77" width="11.63" height="11.65" fill="#f4f800"/>
<rect x="300.73" y="258.77" width="11.63" height="11.65" fill="#e9f800"/>
<rect x="312.26" y="258.77" width="11.63" height="11.65" fill="#ddf800"/>
<rect x="323.79" y="258.77" width="11.63" height="11.65" fill="#d1f800"/>
<rect x="335.32" y="258.77" width="11.63" height="11.65" fill="#acf700"/>
<rect x="346.85" y="258.77" width="11.63" height="11.65" fill="#a3f700"/>
<rect x="358.38" y="258.77" width="11.63" height="11.65" fill="#b5f800"/>
<rect x="369.91" y="258.77" width="11.63" height="11.65" fill="#f6f000"/>
<rect x="381.44" y="258.77" width="11.63" height="11.65" fill="#f9d100"/>
<rect x="392.97" y="258.77" width="11.63" height="11.65" fill="#f9d500"/>
<rect x="404.50" y="258.77" width="11.63" height="11.65" fill="#f9d200"/>
<rect x="416.03" y="258.77" width="11.63" height="11.65" fill="#f9d100"/>
<rect x="427.56" y="258.77" width="11.63" height="11.65" fill="#fbb900"/>
<rect x="439.09" y="258.77" width="11.63" height="11.65" fill="#fbc100"/>
<rect x="450.62" y="258.77" width="11.63" height="11.65" fill="#c6f800"/>
<rect x="462.15" y="258.77" width="11.63" height="11.65" fill="#a0f700"/>
<rect x="473.68" y="258.77" width="11.63" height="11.65" fill="#79f500"/>
<rect x="485.21" y="258.77" width="11.63" height="11.65" fill="#6df400"/>
<rect x="496.74" y="258.77" width="11.63" height="11.65" fill="#67f400"/>
<rect x="508.27" y="258.77" width="11.63" height="11.65" fill="#57f300"/>
<rect x="519.80" y="258.77" width="11.63" height="11.65" fill="#55f300"/>
<rect x="116.25" y="270.32" width="11.63" height="11.65" fill="#aef700"/>
<rect x="127.78" y="270.32" width="11.63" height="11.65" fill="#b3f700"/>
<rect x="139.31" y="270.32" width="11.63" height="11.65" fill="#bcf800"/>
<rect x="150.84" y="270.32" width="11.63" height="11.65" fill="#c8f800"/>
<rect x="162.37" y="270.32" width="11.63" height="11.65" fill="#c6f800"/>
<rect x="173.90" y="270.32" width="11.63" height="11.65" fill="#c7f800"/>
<rect x="185.43" y="270.32" width="11.63" height="11.65" fill="#cdf800"/>
<rect x="196.96" y="270.32" width="11.63" height="11.65" fill="#d2f800"/>
<rect x="208.49" y="270.32" width="11.63" height="11.65" fill="#d0f800"/>
<rect x="220.02" y="270.32" width="11.63" height="11.65" fill="#dcf800"/>
<rect x="231.55" y="270.32" width="11.63" height="11.65" fill="#f2f800"/>
<rect x="243.08" y="270.32" width="11.63" height="11.65" fill="#f6ec00"/>
<rect x="254.61" y="270.32" width="11.63" height="11.65" fill="#f6ed00"/>
<rect x="266.14" y="270.32" width="11.63" height="11.65" fill="#f6f100"/>
<rect x="277.67" y="270.32" width="11.63" height="11.65" fill="#f3f800"/>
<rect x="289.20" y="270.32" width="11.63" height="11.65" fill="#e8f800"/>
<rect x="300.73" y="270.32" width="11.63" height="11.65" fill="#ddf800"/>
<rect x="312.26" y="270.32" width="11.63" height="11.65" fill="#d6f800"/>
<rect x="323.79" y="270.32" width="11.63" height="11.65" fill="#d4f800"/>
<rect x="335.32" y="270.32" width="11.63" height="11.65" fill="#c7f800"/>
<rect x="346.85" y="270.32" width="11.63" height="11.65" fill="#c4f800"/>
<rect x="358.38" y="270.32" width="11.63" height="11.65" fill="#d3f800"/>
<rect x="369.91" y="270.32" width="11.63" height="11.65" fill="#f6f200"/>
<rect x="381.44" y="270.32" width="11.63" height="11.65" fill="#f7e000"/>
<rect x="392.97" y="270.32" width="11.63" height="11.65" fill="#f9d400"/>
<rect x="404.50" y="270.32" width="11.63" height="11.65" fill="#f9cd00"/>
<rect x="416.03" y="270.32" width="11.63" height="11.65" fill="#facb00"/>
<rect x="427.56" y="270.32" width="11.63" height="11.65" fill="#f7e000"/>
<rect x="439.09" y="270.32" width="11.63" height="11.65" fill="#eef800"/>
<rect x="450.62" y="270.32" width="11.63" height="11.65" fill="#c6f800"/>
<rect x="462.15" y="270.32" width="11.63" height="11.65" fill="#9bf700"/>
<rect x="473.68" y="270.32" width="11.63" height="11.65" fill="#64f300"/>
<rect x="485.21" y="270.32" width="11.63" height="11.65" fill="#57f300"/>
<rect x="496.74" y="270.32" width="11.63" height="11.65" fill="#56f300"/>
<rect x="508.27" y="270.32" width="11.63" height="11.65" fill="#45f100"/>
<rect x="519.80" y="270.32" width="11.63" height="11.65" fill="#40f001"/>
<rect x="116.25" y="281.87" width="11.63" height="11.65" fill="#adf700"/>
<rect x="127.78" y="281.87" width="11.63" height="11.65" fill="#b3f700"/>
<rect x="139.31" y="281.87" width="11.63" height="11.65" fill="#abf700"/>
<rect x="150.84" y="281.87" width="11.63" height="11.65" fill="#aff700"/>
<rect x="162.37" y="281.87" width="11.63" height="11.65" fill="#aef700"/>
<rect x="173.90" y="281.87" width="11.63" height="11.65" fill="#bdf800"/>
<rect x="185.43" y="281.87" width="11.63" height="11.65" fill="#bff800"/>
<rect x="196.96" y="281.87" width="11.63" height="11.65" fill="#cdf800"/>
<rect x="208.49" y="281.87" width="11.63" height="11.65" fill="#caf800"/>
<rect x="220.02" y="281.87" width="11.63" height="11.65" fill="#cff800"/>
<rect x="231.55" y="281.87" width="11.63" height="11.65" fill="#daf800"/>
<rect x="243.08" y="281.87" width="11.63" height="11.65" fill="#edf800"/>
<rect x="254.61" y="281.87" width="11.63" height="11.65" fill="#eff800"/>
<rect x="266.14" y="281.87" width="11.63" height="11.65" fill="#f5f300"/>
<rect x="277.67" y="281.87" width="11.63" height="11.65" fill="#f6f000"/>
<rect x="289.20" y="281.87" width="11.63" height="11.65" fill="#f4f800"/>
<rect x="300.73" y="281.87" width="11.63" height="11.65" fill="#e0f800"/>
<rect x="312.26" y="281.87" width="11.63" height="11.65" fill="#ddf800"/>
<rect x="323.79" y="281.87" width="11.63" height="11.65" fill="#e3f800"/>
<rect x="335.32" y="281.87" width="11.63" height="11.65" fill="#ebf800"/>
<rect x="346.85" y="281.87" width="11.63" height="11.65" fill="#e5f800"/>
<rect x="358.38" y="281.87" width="11.63" height="11.65" fill="#f1f800"/>
<rect x="369.91" y="281.87" width="11.63" height="11.65" fill="#cff800"/>
<rect x="381.44" y="281.87" width="11.63" height="11.65" fill="#f6f200"/>
<rect x="392.97" y="281.87" width="11.63" height="11.65" fill="#f8df00"/>
<rect x="404.50" y="281.87" width="11.63" height="11.65" fill="#f8dc00"/>
<rect x="416.03" y="281.87" width="11.63" height="11.65" fill="#f7e700"/>
<rect x="427.56" y="281.87" width="11.63" height="11.65" fill="#f5f400"/>
<rect x="439.09" y="281.87" width="11.63" height="11.65" fill="#d9f800"/>
<rect x="450.62" y="281.87" width="11.63" height="11.65" fill="#b4f700"/>
<rect x="462.15" y="281.87" width="11.63" height="11.65" fill="#9af600"/>
<rect x="473.68" y="281.87" width="11.63" height="11.65" fill="#67f400"/>
<rect x="485.21" y="281.87" width="11.63" height="11.65" fill="#60f300"/>
<rect x="496.74" y="281.87" width="11.63" height="11.65" fill="#51f200"/>
<rect x="508.27" y="281.87" width="11.63" height="11.65" fill="#4af200"/>
<rect x="519.80" y="281.87" width="11.63" height="11.65" fill="#3df001"/>
<rect x="116.25" y="293.41" width="11.63" height="11.65" fill="#a6f700"/>
<rect x="127.78" y="293.41" width="11.63" height="11.65" fill="#a0f700"/>
<rect x="139.31" y="293.41" width="11.63" height="11.65" fill="#9ff700"/>
<rect x="150.84" y="293.41" width="11.63" height="11.65" fill="#a3f700"/>
<rect x="162.37" y="293.41" width="11.63" height="11.65" fill="#a0f700"/>
<rect x="173.90" y="293.41" width="11.63" height="11.65" fill="#aaf700"/>
<rect x="185.43" y="293.41" width="11.63" height="11.65" fill="#b7f800"/>
<rect x="196.96" y="293.41" width="11.63" height="11.65" fill="#bbf800"/>
<rect x="208.49" y="293.41" width="11.63" height="11.65" fill="#bcf800"/>
<rect x="220.02" y="293.41" width="11.63" height="11.65" fill="#bef800"/>
<rect x="231.55" y="293.41" width="11.63" height="11.65" fill="#cef800"/>
<rect x="243.08" y="293.41" width="11.63" height="11.65" fill="#dcf800"/>
<rect x="254.61" y="293.41" width="11.63" height="11.65" fill="#e9f800"/>
<rect x="266.14" y="293.41" width="11.63" height="11.65" fill="#eff800"/>
<rect x="277.67" y="293.41" width="11.63" height="11.65" fill="#f8d900"/>
<rect x="289.20" y="293.41" width="11.63" height="11.65" fill="#f5f400"/>
<rect x="300.73" y="293.41" width="11.63" height="11.65" fill="#edf800"/>
<rect x="312.26" y="293.41" width="11.63" height="11.65" fill="#e8f800"/>
<rect x="323.79" y="293.41" width="11.63" height="11.65" fill="#eef800"/>
<rect x="335.32" y="293.41" width="11.63" height="11.65" fill="#f6ef00"/>
<rect x="346.85" y="293.41" width="11.63" height="11.65" fill="#f6f200"/>
<rect x="358.38" y="293.41" width="11.63" height="11.65" fill="#fdaa00"/>
<rect x="369.91" y="293.41" width="11.63" height="11.65" fill="#f5f600"/>
<rect x="381.44" y="293.41" width="11.63" height="11.65" fill="#f3f800"/>
<rect x="392.97" y="293.41" width="11.63" height="11.65" fill="#fbb900"/>
<rect x="404.50" y="293.41" width="11.63" height="11.65" fill="#f7e700"/>
<rect x="416.03" y="293.41" width="11.63" height="11.65" fill="#f6f000"/>
<rect x="427.56" y="293.41" width="11.63" height="11.65" fill="#e2f800"/>
<rect x="439.09" y="293.41" width="11.63" height="11.65" fill="#caf800"/>
<rect x="450.62" y="293.41" width="11.63" height="11.65" fill="#aff700"/>
<rect x="462.15" y="293.41" width="11.63" height="11.65" fill="#96f600"/>
<rect x="473.68" y="293.41" width="11.63" height="11.65" fill="#89f600"/>
<rect x="485.21" y="293.41" width="11.63" height="11.65" fill="#75f500"/>
<rect x="496.74" y="293.41" width="11.63" height="11.65" fill="#70f400"/>
<rect x="508.27" y="293.41" width="11.63" height="11.65" fill="#6df400"/>
<rect x="519.80" y="293.41" width="11.63" height="11.65" fill="#63f300"/>
<rect x="116.25" y="304.96" width="11.63" height="11.65" fill="#89f600"/>
<rect x="127.78" y="304.96" width="11.63" height="11.65" fill="#85f600"/>
<rect x="139.31" y="304.96" width="11.63" height="11.65" fill="#83f500"/>
<rect x="150.84" y="304.96" width="11.63" height="11.65" fill="#7df500"/>
<rect x="162.37" y="304.96" width="11.63" height="11.65" fill="#7bf500"/>
<rect x="173.90" y="304.96" width="11.63" height="11.65" fill="#89f600"/>
<rect x="185.43" y="304.96" width="11.63" height="11.65" fill="#a8f700"/>
<rect x="196.96" y="304.96" width="11.63" height="11.65" fill="#adf700"/>
<rect x="208.49" y="304.96" width="11.63" height="11.65" fill="#b0f700"/>
<rect x="220.02" y="304.96" width="11.63" height="11.65" fill="#b9f800"/>
<rect x="231.55" y="304.96" width="11.63" height="11.65" fill="#b4f700"/>
<rect x="243.08" y="304.96" width="11.63" height="11.65" fill="#cdf800"/>
<rect x="254.61" y="304.96" width="11.63" height="11.65" fill="#e1f800"/>
<rect x="266.14" y="304.96" width="11.63" height="11.65" fill="#eff800"/>
<rect x="277.67" y="304.96" width="11.63" height="11.65" fill="#fac900"/>
<rect x="289.20" y="304.96" width="11.63" height="11.65" fill="#eff800"/>
<rect x="300.73" y="304.96" width="11.63" height="11.65" fill="#f0f800"/>
<rect x="312.26" y="304.96" width="11.63" height="11.65" fill="#f3f800"/>
<rect x="323.79" y="304.96" width="11.63" height="11.65" fill="#f5f500"/>
<rect x="335.32" y="304.96" width="11.63" height="11.65" fill="#f6f200"/>
<rect x="346.85" y="304.96" width="11.63" height="11.65" fill="#fac900"/>
<rect x="358.38" y="304.96" width="11.63" height="11.65" fill="#f7e100"/>
<rect x="369.91" y="304.96" width="11.63" height="11.65" fill="#f7e400"/>
<rect x="381.44" y="304.96" width="11.63" height="11.65" fill="#fac900"/>
<rect x="392.97" y="304.96" width="11.63" height="11.65" fill="#fac900"/>
<rect x="404.50" y="304.96" width="11.63" height="11.65" fill="#f5f700"/>
<rect x="416.03" y="304.96" width="11.63" height="11.65" fill="#dff800"/>
<rect x="427.56" y="304.96" width="11.63" height="11.65" fill="#d0f800"/>
<rect x="439.09" y="304.96" width="11.63" height="11.65" fill="#c6f800"/>
<rect x="450.62" y="304.96" width="11.63" height="11.65" fill="#b5f700"/>
<rect x="462.15" y="304.96" width="11.63" height="11.65" fill="#b0f700"/>
<rect x="473.68" y="304.96" width="11.63" height="11.65" fill="#9ef700"/>
<rect x="485.21" y="304.96" width="11.63" height="11.65" fill="#9af700"/>
<rect x="496.74" y="304.96" width="11.63" height="11.65" fill="#9ef700"/>
<rect x="508.27" y="304.96" width="11.63" height="11.65" fill="#93f600"/>
<rect x="519.80" y="304.96" width="11.63" height="11.65" fill="#94f600"/>
<rect x="116.25" y="316.51" width="11.63" height="11.65" fill="#6ff400"/>
<rect x="127.78" y="316.51" width="11.63" height="11.65" fill="#68f400"/>
<rect x="139.31" y="316.51" width="11.63" height="11.65" fill="#67f400"/>
<rect x="150.84" y="316.51" width="11.63" height="11.65" fill="#5df300"/>
<rect x="162.37" y="316.51" width="11.63" height="11.65" fill="#5df300"/>
<rect x="173.90" y="316.51" width="11.63" height="11.65" fill="#7ff500"/>
<rect x="185.43" y="316.51" width="11.63" height="11.65" fill="#9ff700"/>
<rect x="196.96" y="316.51" width="11.63" height="11.65" fill="#b0f700"/>
<rect x="208.49" y="316.51" width="11.63" height="11.65" fill="#aaf700"/>
<rect x="220.02" y="316.51" width="11.63" height="11.65" fill="#abf700"/>
<rect x="231.55" y="316.51" width="11.63" height="11.65" fill="#b2f700"/>
<rect x="243.08" y="316.51" width="11.63" height="11.65" fill="#bff800"/>
<rect x="254.61" y="316.51" width="11.63" height="11.65" fill="#def800"/>
<rect x="266.14" y="316.51" width="11.63" height="11.65" fill="#e5f800"/>
<rect x="277.67" y="316.51" width="11.63" height="11.65" fill="#f0f800"/>
<rect x="289.20" y="316.51" width="11.63" height="11.65" fill="#a3f700"/>
<rect x="300.73" y="316.51" width="11.63" height="11.65" fill="#f5f800"/>
<rect x="312.26" y="316.51" width="11.63" height="11.65" fill="#f3f800"/>
<rect x="323.79" y="316.51" width="11.63" height="11.65" fill="#fdaa00"/>
<rect x="335.32" y="316.51" width="11.63" height="11.65" fill="#f3f800"/>
<rect x="346.85" y="316.51" width="11.63" height="11.65" fill="#f9d100"/>
<rect x="358.38" y="316.51" width="11.63" height="11.65" fill="#f6ee00"/>
<rect x="369.91" y="316.51" width="11.63" height="11.65" fill="#f7e200"/>
<rect x="381.44" y="316.51" width="11.63" height="11.65" fill="#f9d100"/>
<rect x="392.97" y="316.51" width="11.63" height="11.65" fill="#f8d900"/>
<rect x="404.50" y="316.51" width="11.63" height="11.65" fill="#d3f800"/>
<rect x="416.03" y="316.51" width="11.63" height="11.65" fill="#c2f800"/>
<rect x="427.56" y="316.51" width="11.63" height="11.65" fill="#b7f800"/>
<rect x="439.09" y="316.51" width="11.63" height="11.65" fill="#b1f700"/>
<rect x="450.62" y="316.51" width="11.63" height="11.65" fill="#b3f700"/>
<rect x="462.15" y="316.51" width="11.63" height="11.65" fill="#b3f700"/>
<rect x="473.68" y="316.51" width="11.63" height="11.65" fill="#a9f700"/>
<rect x="485.21" y="316.51" width="11.63" height="11.65" fill="#a1f700"/>
<rect x="496.74" y="316.51" width="11.63" height="11.65" fill="#a5f700"/>
<rect x="508.27" y="316.51" width="11.63" height="11.65" fill="#a3f700"/>
<rect x="519.80" y="316.51" width="11.63" height="11.65" fill="#9cf700"/>
<rect x="116.25" y="328.05" width="11.63" height="11.65" fill="#58f300"/>
<rect x="127.78" y="328.05" width="11.63" height="11.65" fill="#4ef200"/>
<rect x="139.31" y="328.05" width="11.63" height="11.65" fill="#49f200"/>
<rect x="150.84" y="328.05" width="11.63" height="11.65" fill="#59f300"/>
<rect x="162.37" y="328.05" width="11.63" height="11.65" fill="#74f400"/>
<rect x="173.90" y="328.05" width="11.63" height="11.65" fill="#8cf600"/>
<rect x="185.43" y="328.05" width="11.63" height="11.65" fill="#a5f700"/>
<rect x="196.96" y="328.05" width="11.63" height="11.65" fill="#aff700"/>
<rect x="208.49" y="328.05" width="11.63" height="11.65" fill="#a7f700"/>
<rect x="220.02" y="328.05" width="11.63" height="11.65" fill="#b4f700"/>
<rect x="231.55" y="328.05" width="11.63" height="11.65" fill="#aff700"/>
<rect x="243.08" y="328.05" width="11.63" height="11.65" fill="#baf800"/>
<rect x="254.61" y="328.05" width="11.63" height="11.65" fill="#ccf800"/>
<rect x="266.14" y="328.05" width="11.63" height="11.65" fill="#dcf800"/>
<rect x="277.67" y="328.05" width="11.63" height="11.65" fill="#eef800"/>
<rect x="289.20" y="328.05" width="11.63" height="11.65" fill="#f6f300"/>
<rect x="300.73" y="328.05" width="11.63" height="11.65" fill="#f6f000"/>
<rect x="312.26" y="328.05" width="11.63" height="11.65" fill="#fea200"/>
<rect x="323.79" y="328.05" width="11.63" height="11.65" fill="#e9f800"/>
<rect x="335.32" y="328.05" width="11.63" height="11.65" fill="#dcf800"/>
<rect x="346.85" y="328.05" width="11.63" height="11.65" fill="#dff800"/>
<rect x="358.38" y="328.05" width="11.63" height="11.65" fill="#e6f800"/>
<rect x="369.91" y="328.05" width="11.63" height="11.65" fill="#e9f800"/>
<rect x="381.44" y="328.05" width="11.63" height="11.65" fill="#dff800"/>
<rect x="392.97" y="328.05" width="11.63" height="11.65" fill="#c6f800"/>
<rect x="404.50" y="328.05" width="11.63" height="11.65" fill="#aef700"/>
<rect x="416.03" y="328.05" width="11.63" height="11.65" fill="#9af700"/>
<rect x="427.56" y="328.05" width="11.63" height="11.65" fill="#9ef700"/>
<rect x="439.09" y="328.05" width="11.63" height="11.65" fill="#a5f700"/>
<rect x="450.62" y="328.05" width="11.63" height="11.65" fill="#a5f700"/>
<rect x="462.15" y="328.05" width="11.63" height="11.65" fill="#a2f700"/>
<rect x="473.68" y="328.05" width="11.63" height="11.65" fill="#9af700"/>
<rect x="485.21" y="328.05" width="11.63" height="11.65" fill="#9cf700"/>
<rect x="496.74" y="328.05" width="11.63" height="11.65" fill="#98f600"/>
<rect x="508.27" y="328.05" width="11.63" height="11.65" fill="#93f600"/>
<rect x="519.80" y="328.05" width="11.63" height="11.65" fill="#8df600"/>
<rect x="116.25" y="339.60" width="11.63" height="11.65" fill="#46f100"/>
<rect x="127.78" y="339.60" width="11.63" height="11.65" fill="#37ef01"/>
<rect x="139.31" y="339.60" width="11.63" height="11.65" fill="#37ef01"/>
<rect x="150.84" y="339.60" width="11.63" height="11.65" fill="#59f300"/>
<rect x="162.37" y="339.60" width="11.63" height="11.65" fill="#81f500"/>
<rect x="173.90" y="339.60" width="11.63" height="11.65" fill="#95f600"/>
<rect x="185.43" y="339.60" width="11.63" height="11.65" fill="#a4f700"/>
<rect x="196.96" y="339.60" width="11.63" height="11.65" fill="#a6f700"/>
<rect x="208.49" y="339.60" width="11.63" height="11.65" fill="#a9f700"/>
<rect x="220.02" y="339.60" width="11.63" height="11.65" fill="#aef700"/>
<rect x="231.55" y="339.60" width="11.63" height="11.65" fill="#aff700"/>
<rect x="243.08" y="339.60" width="11.63" height="11.65" fill="#b4f700"/>
<rect x="254.61" y="339.60" width="11.63" height="11.65" fill="#c6f800"/>
<rect x="266.14" y="339.60" width="11.63" height="11.65" fill="#c5f800"/>
<rect x="277.67" y="339.60" width="11.63" height="11.65" fill="#cef800"/>
<rect x="289.20" y="339.60" width="11.63" height="11.65" fill="#daf800"/>
<rect x="300.73" y="339.60" width="11.63" height="11.65" fill="#edf800"/>
<rect x="312.26" y="339.60" width="11.63" height="11.65" fill="#e7f800"/>
<rect x="323.79" y="339.60" width="11.63" height="11.65" fill="#dbf800"/>
<rect x="335.32" y="339.60" width="11.63" height="11.65" fill="#cff800"/>
<rect x="346.85" y="339.60" width="11.63" height="11.65" fill="#c6f800"/>
<rect x="358.38" y="339.60" width="11.63" height="11.65" fill="#bdf800"/>
<rect x="369.91" y="339.60" width="11.63" height="11.65" fill="#c5f800"/>
<rect x="381.44" y="339.60" width="11.63" height="11.65" fill="#c1f800"/>
<rect x="392.97" y="339.60" width="11.63" height="11.65" fill="#acf700"/>
<rect x="404.50" y="339.60" width="11.63" height="11.65" fill="#a4f700"/>
<rect x="416.03" y="339.60" width="11.63" height="11.65" fill="#8af600"/>
<rect x="427.56" y="339.60" width="11.63" height="11.65" fill="#7ff500"/>
<rect x="439.09" y="339.60" width="11.63" height="11.65" fill="#92f600"/>
<rect x="450.62" y="339.60" width="11.63" height="11.65" fill="#96f600"/>
<rect x="462.15" y="339.60" width="11.63" height="11.65" fill="#8bf600"/>
<rect x="473.68" y="339.60" width="11.63" height="11.65" fill="#8af600"/>
<rect x="485.21" y="339.60" width="11.63" height="11.65" fill="#83f500"/>
<rect x="496.74" y="339.60" width="11.63" height="11.65" fill="#79f500"/>
<rect x="508.27" y="339.60" width="11.63" height="11.65" fill="#73f400"/>
<rect x="519.80" y="339.60" width="11.63" height="11.65" fill="#77f500"/>
<rect x="116.25" y="351.14" width="11.63" height="11.65" fill="#37ef01"/>
<rect x="127.78" y="351.14" width="11.63" height="11.65" fill="#38ef01"/>
<rect x="139.31" y="351.14" width="11.63" height="11.65" fill="#41f001"/>
<rect x="150.84" y="351.14" width="11.63" height="11.65" fill="#60f300"/>
<rect x="162.37" y="351.14" width="11.63" height="11.65" fill="#75f500"/>
<rect x="173.90" y="351.14" width="11.63" height="11.65" fill="#8ef600"/>
<rect x="185.43" y="351.14" width="11.63" height="11.65" fill="#9ef700"/>
<rect x="196.96" y="351.14" width="11.63" height="11.65" fill="#9df700"/>
<rect x="208.49" y="351.14" width="11.63" height="11.65" fill="#9ef700"/>
<rect x="220.02" y="351.14" width="11.63" height="11.65" fill="#a4f700"/>
<rect x="231.55" y="351.14" width="11.63" height="11.65" fill="#b0f700"/>
<rect x="243.08" y="351.14" width="11.63" height="11.65" fill="#abf700"/>
<rect x="254.61" y="351.14" width="11.63" height="11.65" fill="#b6f800"/>
<rect x="266.14" y="351.14" width="11.63" height="11.65" fill="#aef700"/>
<rect x="277.67" y="351.14" width="11.63" height="11.65" fill="#a7f700"/>
<rect x="289.20" y="351.14" width="11.63" height="11.65" fill="#a4f700"/>
<rect x="300.73" y="351.14" width="11.63" height="11.65" fill="#bbf800"/>
<rect x="312.26" y="351.14" width="11.63" height="11.65" fill="#d6f800"/>
<rect x="323.79" y="351.14" width="11.63" height="11.65" fill="#dcf800"/>
<rect x="335.32" y="351.14" width="11.63" height="11.65" fill="#cef800"/>
<rect x="346.85" y="351.14" width="11.63" height="11.65" fill="#b2f700"/>
<rect x="358.38" y="351.14" width="11.63" height="11.65" fill="#a4f700"/>
<rect x="369.91" y="351.14" width="11.63" height="11.65" fill="#b4f700"/>
<rect x="381.44" y="351.14" width="11.63" height="11.65" fill="#a7f700"/>
<rect x="392.97" y="351.14" width="11.63" height="11.65" fill="#a0f700"/>
<rect x="404.50" y="351.14" width="11.63" height="11.65" fill="#91f600"/>
<rect x="416.03" y="351.14" width="11.63" height="11.65" fill="#7bf500"/>
<rect x="427.56" y="351.14" width="11.63" height="11.65" fill="#6af400"/>
<rect x="439.09" y="351.14" width="11.63" height="11.65" fill="#75f500"/>
<rect x="450.62" y="351.14" width="11.63" height="11.65" fill="#6cf400"/>
<rect x="462.15" y="351.14" width="11.63" height="11.65" fill="#5ff300"/>
<rect x="473.68" y="351.14" width="11.63" height="11.65" fill="#58f300"/>
<rect x="485.21" y="351.14" width="11.63" height="11.65" fill="#54f300"/>
<rect x="496.74" y="351.14" width="11.63" height="11.65" fill="#47f100"/>
<rect x="508.27" y="351.14" width="11.63" height="11.65" fill="#37ef01"/>
<rect x="519.80" y="351.14" width="11.63" height="11.65" fill="#3df001"/>
<rect x="116.25" y="362.69" width="11.63" height="11.65" fill="#32ee01"/>
<rect x="127.78" y="362.69" width="11.63" height="11.65" fill="#37ef01"/>
<rect x="139.31" y="362.69" width="11.63" height="11.65" fill="#44f100"/>
<rect x="150.84" y="362.69" width="11.63" height="11.65" fill="#4ff200"/>
<rect x="162.37" y="362.69" width="11.63" height="11.65" fill="#71f400"/>
<rect x="173.90" y="362.69" width="11.63" height="11.65" fill="#83f500"/>
<rect x="185.43" y="362.69" width="11.63" height="11.65" fill="#8ff600"/>
<rect x="196.96" y="362.69" width="11.63" height="11.65" fill="#8ff600"/>
<rect x="208.49" y="362.69" width="11.63" height="11.65" fill="#90f600"/>
<rect x="220.02" y="362.69" width="11.63" height="11.65" fill="#a0f700"/>
<rect x="231.55" y="362.69" width="11.63" height="11.65" fill="#aef700"/>
<rect x="243.08" y="362.69" width="11.63" height="11.65" fill="#b0f700"/>
<rect x="254.61" y="362.69" width="11.63" height="11.65" fill="#a9f700"/>
<rect x="266.14" y="362.69" width="11.63" height="11.65" fill="#9cf700"/>
<rect x="277.67" y="362.69" width="11.63" height="11.65" fill="#8bf600"/>
<rect x="289.20" y="362.69" width="11.63" height="11.65" fill="#90f600"/>
<rect x="300.73" y="362.69" width="11.63" height="11.65" fill="#b6f800"/>
<rect x="312.26" y="362.69" width="11.63" height="11.65" fill="#d9f800"/>
<rect x="323.79" y="362.69" width="11.63" height="11.65" fill="#e1f800"/>
<rect x="335.32" y="362.69" width="11.63" height="11.65" fill="#d6f800"/>
<rect x="346.85" y="362.69" width="11.63" height="11.65" fill="#a5f700"/>
<rect x="358.38" y="362.69" width="11.63" height="11.65" fill="#95f600"/>
<rect x="369.91" y="362.69" width="11.63" height="11.65" fill="#92f600"/>
<rect x="381.44" y="362.69" width="11.63" height="11.65" fill="#97f600"/>
<rect x="392.97" y="362.69" width="11.63" height="11.65" fill="#88f600"/>
<rect x="404.50" y="362.69" width="11.63" height="11.65" fill="#7ef500"/>
<rect x="416.03" y="362.69" width="11.63" height="11.65" fill="#6df400"/>
<rect x="427.56" y="362.69" width="11.63" height="11.65" fill="#62f300"/>
<rect x="439.09" y="362.69" width="11.63" height="11.65" fill="#53f200"/>
<rect x="450.62" y="362.69" width="11.63" height="11.65" fill="#52f200"/>
<rect x="462.15" y="362.69" width="11.63" height="11.65" fill="#4af200"/>
<rect x="473.68" y="362.69" width="11.63" height="11.65" fill="#3bf001"/>
<rect x="485.21" y="362.69" width="11.63" height="11.65" fill="#20ec03"/>
<rect x="496.74" y="362.69" width="11.63" height="11.65" fill="#1fec03"/>
<rect x="508.27" y="362.69" width="11.63" height="11.65" fill="#15ea03"/>
<rect x="519.80" y="362.69" width="11.63" height="11.65" fill="#1beb03"/>
<rect x="116.25" y="374.24" width="11.63" height="11.65" fill="#20ec03"/>
<rect x="127.78" y="374.24" width="11.63" height="11.65" fill="#35ef01"/>
<rect x="139.31" y="374.24" width="11.63" height="11.65" fill="#36ef01"/>
<rect x="150.84" y="374.24" width="11.63" height="11.65" fill="#40f001"/>
<rect x="162.37" y="374.24" width="11.63" height="11.65" fill="#56f300"/>
<rect x="173.90" y="374.24" width="11.63" height="11.65" fill="#64f300"/>
<rect x="185.43" y="374.24" width="11.63" height="11.65" fill="#73f400"/>
<rect x="196.96" y="374.24" width="11.63" height="11.65" fill="#7bf500"/>
<rect x="208.49" y="374.24" width="11.63" height="11.65" fill="#89f600"/>
<rect x="220.02" y="374.24" width="11.63" height="11.65" fill="#8af600"/>
<rect x="231.55" y="374.24" width="11.63" height="11.65" fill="#93f600"/>
<rect x="243.08" y="374.24" width="11.63" height="11.65" fill="#a1f700"/>
<rect x="254.61" y="374.24" width="11.63" height="11.65" fill="#a3f700"/>
<rect x="266.14" y="374.24" width="11.63" height="11.65" fill="#9bf700"/>
<rect x="277.67" y="374.24" width="11.63" height="11.65" fill="#92f600"/>
<rect x="289.20" y="374.24" width="11.63" height="11.65" fill="#a3f700"/>
<rect x="300.73" y="374.24" width="11.63" height="11.65" fill="#c1f800"/>
<rect x="312.26" y="374.24" width="11.63" height="11.65" fill="#def800"/>
<rect x="323.79" y="374.24" width="11.63" height="11.65" fill="#f5f800"/>
<rect x="335.32" y="374.24" width="11.63" height="11.65" fill="#d0f800"/>
<rect x="346.85" y="374.24" width="11.63" height="11.65" fill="#9ff700"/>
<rect x="358.38" y="374.24" width="11.63" height="11.65" fill="#67f400"/>
<rect x="369.91" y="374.24" width="11.63" height="11.65" fill="#62f300"/>
<rect x="381.44" y="374.24" width="11.63" height="11.65" fill="#66f400"/>
<rect x="392.97" y="374.24" width="11.63" height="11.65" fill="#66f400"/>
<rect x="404.50" y="374.24" width="11.63" height="11.65" fill="#69f400"/>
<rect x="416.03" y="374.24" width="11.63" height="11.65" fill="#5ff300"/>
<rect x="427.56" y="374.24" width="11.63" height="11.65" fill="#65f400"/>
<rect x="439.09" y="374.24" width="11.63" height="11.65" fill="#54f200"/>
<rect x="450.62" y="374.24" width="11.63" height="11.65" fill="#43f101"/>
<rect x="462.15" y="374.24" width="11.63" height="11.65" fill="#3bf001"/>
<rect x="473.68" y="374.24" width="11.63" height="11.65" fill="#25ec02"/>
<rect x="485.21" y="374.24" width="11.63" height="11.65" fill="#27ed02"/>
<rect x="496.74" y="374.24" width="11.63" height="11.65" fill="#1ceb03"/>
<rect x="508.27" y="374.24" width="11.63" height="11.65" fill="#15ea03"/>
<rect x="519.80" y="374.24" width="11.63" height="11.65" fill="#12ea03"/>
<rect x="116.25" y="385.78" width="11.63" height="11.65" fill="#24ec02"/>
<rect x="127.78" y="385.78" width="11.63" height="11.65" fill="#2eee02"/>
<rect x="139.31" y="385.78" width="11.63" height="11.65" fill="#2dee02"/>
<rect x="150.84" y="385.78" width="11.63" height="11.65" fill="#46f100"/>
<rect x="162.37" y="385.78" width="11.63" height="11.65" fill="#4df200"/>
<rect x="173.90" y="385.78" width="11.63" height="11.65" fill="#59f300"/>
<rect x="185.43" y="385.78" width="11.63" height="11.65" fill="#6df400"/>
<rect x="196.96" y="385.78" width="11.63" height="11.65" fill="#6ef400"/>
<rect x="208.49" y="385.78" width="11.63" height="11.65" fill="#79f500"/>
<rect x="220.02" y="385.78" width="11.63" height="11.65" fill="#80f500"/>
<rect x="231.55" y="385.78" width="11.63" height="11.65" fill="#8ef600"/>
<rect x="243.08" y="385.78" width="11.63" height="11.65" fill="#9af700"/>
<rect x="254.61" y="385.78" width="11.63" height="11.65" fill="#a6f700"/>
<rect x="266.14" y="385.78" width="11.63" height="11.65" fill="#97f600"/>
<rect x="277.67" y="385.78" width="11.63" height="11.65" fill="#8df600"/>
<rect x="289.20" y="385.78" width="11.63" height="11.65" fill="#9bf700"/>
<rect x="300.73" y="385.78" width="11.63" height="11.65" fill="#c8f800"/>
<rect x="312.26" y="385.78" width="11.63" height="11.65" fill="#e4f800"/>
<rect x="323.79" y="385.78" width="11.63" height="11.65" fill="#f5f800"/>
<rect x="335.32" y="385.78" width="11.63" height="11.65" fill="#cff800"/>
<rect x="346.85" y="385.78" width="11.63" height="11.65" fill="#97f600"/>
<rect x="358.38" y="385.78" width="11.63" height="11.65" fill="#51f200"/>
<rect x="369.91" y="385.78" width="11.63" height="11.65" fill="#42f101"/>
<rect x="381.44" y="385.78" width="11.63" height="11.65" fill="#47f100"/>
<rect x="392.97" y="385.78" width="11.63" height="11.65" fill="#48f100"/>
<rect x="404.50" y="385.78" width="11.63" height="11.65" fill="#54f200"/>
<rect x="416.03" y="385.78" width="11.63" height="11.65" fill="#56f300"/>
<rect x="427.56" y="385.78" width="11.63" height="11.65" fill="#61f300"/>
<rect x="439.09" y="385.78" width="11.63" height="11.65" fill="#52f200"/>
<rect x="450.62" y="385.78" width="11.63" height="11.65" fill="#3ef001"/>
<rect x="462.15" y="385.78" width="11.63" height="11.65" fill="#35ef01"/>
<rect x="473.68" y="385.78" width="11.63" height="11.65" fill="#26ed02"/>
<rect x="485.21" y="385.78" width="11.63" height="11.65" fill="#25ec02"/>
<rect x="496.74" y="385.78" width="11.63" height="11.65" fill="#1deb03"/>
<rect x="508.27" y="385.78" width="11.63" height="11.65" fill="#1deb03"/>
<rect x="519.80" y="385.78" width="11.63" height="11.65" fill="#1ceb03"/>
</g></g>
<use href="#landshape" fill="none" stroke="#505040" stroke-width="0.7"/>
<path d="M466.2,326.7 L468.5,326.0 L470.3,330.0 L470.5,335.5 L468.5,336.5 L467.0,332.0Z" fill="#fff" stroke="#666" stroke-width="0.4"/>
<path d="M447.0,336.5 L451.5,335.5 L452.5,340.0 L454.5,346.0 L452.0,349.5 L449.0,344.5 L446.5,341.0Z" fill="#fff" stroke="#666" stroke-width="0.4"/>
<path d="M401.5,386.5 L405.0,384.0 L409.0,385.0 L413.5,384.5 L414.8,388.0 L411.0,390.5 L407.0,388.5 L403.0,389.5Z" fill="#fff" stroke="#666" stroke-width="0.4"/>
<path d="M461.0,286.0 L466.0,288.5 L471.5,285.0 L476.0,278.5 L479.0,278.5 L475.0,286.0 L469.0,291.5 L463.0,291.0Z" fill="#fff" stroke="#666" stroke-width="0.4"/>
<path d="M504.1,259.3 L505.5,261.2 L503.3,264.3 L497.2,266.1 L491.3,266.5 L489.4,264.2 L486.2,262.4 L490.5,259.4 L495.9,258.5 L500.3,256.5 L502.1,258.3Z" fill="none" stroke="#444" stroke-width="0.5"/>
<path d="M497.1,248.9 L494.8,249.8 L493.6,252.6 L490.3,251.8 L489.0,249.2 L487.5,247.2 L489.5,245.8 L490.9,244.8 L492.9,244.5 L495.7,244.5 L495.7,246.9Z" fill="none" stroke="#444" stroke-width="0.5"/>
<path d="M485.0,244.5 L484.8,245.6 L483.9,245.3 L483.3,244.5 L483.8,243.4 L484.7,243.5Z" fill="none" stroke="#444" stroke-width="0.5"/>
<path d="M489.0,260.5 L485.9,260.7 L483.8,261.6 L481.0,260.4 L480.6,258.0 L480.7,256.7 L479.9,254.4 L482.5,255.0 L484.4,254.7 L487.5,255.3 L488.9,257.9Z" fill="none" stroke="#444" stroke-width="0.5"/>
<path d="M481.1,255.0 L480.4,256.9 L478.8,257.5 L477.7,256.3 L477.2,255.0 L477.4,253.2 L478.8,252.4 L479.7,253.9Z" fill="none" stroke="#444" stroke-width="0.5"/>
<path d="M502.9,270.8 L498.8,271.4 L496.8,273.0 L491.9,272.7 L489.8,270.1 L485.8,268.4 L488.4,267.1 L491.0,266.7 L493.7,266.3 L498.1,266.5 L498.4,268.7Z" fill="none" stroke="#444" stroke-width="0.5"/>
<path d="M489.0,266.5 L488.4,267.9 L486.5,267.6 L484.5,267.9 L483.9,266.5 L485.4,265.7 L486.5,264.6 L488.3,265.2Z" fill="none" stroke="#444" stroke-width="0.5"/>
<path d="M505.5,269.4 L504.8,270.5 L502.6,270.6 L501.1,269.0 L501.1,267.5 L502.4,266.8 L504.0,267.2 L506.3,267.9Z" fill="none" stroke="#444" stroke-width="0.5"/>
<path d="M507.7,256.5 L507.9,257.8 L506.0,258.3 L504.6,257.5 L504.1,256.5 L504.7,255.6 L506.0,255.4 L507.3,255.6Z" fill="none" stroke="#444" stroke-width="0.5"/>
<path d="M490.4,252.5 L490.1,253.3 L489.0,253.6 L488.1,253.1 L487.4,252.5 L487.6,251.5 L489.0,251.4 L490.1,251.7Z" fill="none" stroke="#444" stroke-width="0.5"/>
<path d="M502.8,252.0 L501.7,252.7 L500.5,253.2 L499.4,252.6 L498.7,252.0 L499.4,251.4 L500.5,251.0 L501.4,251.5Z" fill="none" stroke="#444" stroke-width="0.5"/>
<path d="M484.9,263.0 L483.9,263.7 L483.0,264.5 L481.9,263.8 L481.5,263.0 L481.8,262.1 L483.0,262.0 L483.9,262.3Z" fill="none" stroke="#444" stroke-width="0.5"/>
<path d="M500.5,272.5 L500.2,273.3 L499.0,273.6 L497.8,273.3 L497.1,272.5 L497.8,271.7 L499.0,271.7 L499.9,271.9Z" fill="none" stroke="#444" stroke-width="0.5"/>
<path d="M479.4,262.5 L479.2,263.6 L477.8,263.5 L477.6,262.5 L477.9,261.6 L479.0,261.8Z" fill="none" stroke="#444" stroke-width="0.5"/>
<path d="M507.6,262.5 L507.0,263.6 L505.8,264.0 L505.4,262.5 L505.8,261.0 L507.0,261.4Z" fill="none" stroke="#444" stroke-width="0.5"/>
<path d="M492.1,231.2 L490.8,231.3 L489.8,231.2 L488.9,230.7 L488.0,229.9 L488.8,229.3 L490.3,229.4 L491.6,230.2Z" fill="none" stroke="#444" stroke-width="0.5"/>
<path d="M490.4,224.0 L489.7,224.3 L488.5,224.5 L487.7,224.2 L486.8,224.0 L487.2,223.7 L488.5,223.6 L489.6,223.7Z" fill="none" stroke="#444" stroke-width="0.5"/>
<path d="M508.4,226.6 L507.7,226.9 L506.6,226.9 L505.8,226.1 L505.4,225.3 L506.3,225.1 L507.4,225.1 L508.5,225.8Z" fill="none" stroke="#444" stroke-width="0.5"/>
<path d="M511.9,228.0 L511.0,228.5 L510.0,228.5 L509.4,228.0 L509.8,227.3 L511.0,227.5Z" fill="none" stroke="#444" stroke-width="0.5"/>
<path d="M517.3,218.3 L516.2,219.1 L515.3,219.9 L513.9,220.0 L512.7,219.7 L513.5,218.9 L514.8,218.3 L515.8,218.3Z" fill="none" stroke="#444" stroke-width="0.5"/>
<path d="M523.4,224.8 L522.9,225.6 L521.9,226.1 L521.5,224.8 L522.0,223.7 L523.1,223.5Z" fill="none" stroke="#444" stroke-width="0.5"/>
<path d="M502.5,236.2 L502.4,236.7 L500.9,236.7 L499.2,236.5 L498.9,235.8 L499.6,235.3 L501.1,235.0 L502.3,235.6Z" fill="none" stroke="#444" stroke-width="0.5"/>
<path d="M506.7,239.0 L506.1,239.5 L504.5,239.6 L502.5,239.6 L502.0,239.0 L502.7,238.4 L504.5,238.3 L506.4,238.4Z" fill="none" stroke="#444" stroke-width="0.5"/>
<path d="M502.2,232.0 L501.9,232.4 L501.0,232.5 L500.7,232.0 L500.9,231.4 L501.9,231.6Z" fill="none" stroke="#444" stroke-width="0.5"/>
<path d="M505.9,247.6 L504.1,248.2 L502.1,248.3 L500.3,249.0 L498.8,248.3 L496.8,247.9 L498.8,247.4 L499.3,247.0 L500.3,246.2 L502.9,246.5 L502.9,247.3Z" fill="none" stroke="#444" stroke-width="0.5"/>
<path d="M513.0,249.3 L511.9,249.7 L511.0,250.0 L510.0,249.7 L509.2,249.3 L510.0,248.9 L511.0,248.7 L512.2,248.8Z" fill="none" stroke="#444" stroke-width="0.5"/>
<path d="M517.6,249.8 L517.1,250.2 L516.0,250.3 L514.8,250.2 L514.5,249.8 L515.0,249.5 L516.0,249.4 L516.8,249.5Z" fill="none" stroke="#444" stroke-width="0.5"/>
<path d="M521.6,253.0 L521.4,253.5 L520.6,253.4 L520.4,253.0 L520.7,252.7 L521.5,252.5Z" fill="none" stroke="#444" stroke-width="0.5"/>
<path d="M530.0,251.4 L528.7,251.7 L527.5,251.9 L526.4,251.7 L526.1,251.4 L526.4,251.1 L527.5,250.9 L528.7,251.1Z" fill="none" stroke="#444" stroke-width="0.5"/>
<path d="M495.2,229.0 L494.9,229.5 L494.2,229.4 L493.6,229.0 L494.1,228.5 L494.9,228.4Z" fill="none" stroke="#444" stroke-width="0.5"/>
<path d="M513.3,228.5 L512.8,228.9 L512.0,229.1 L511.6,228.5 L512.1,227.9 L512.8,228.1Z" fill="none" stroke="#444" stroke-width="0.5"/>
<path d="M482.3,301.5 L482.1,302.3 L480.0,302.3 L478.4,302.1 L477.6,301.5 L477.7,300.6 L480.0,300.6 L481.9,300.8Z" fill="none" stroke="#444" stroke-width="0.5"/>
<path d="M481.4,316.5 L481.0,317.4 L480.0,318.2 L478.7,317.7 L478.7,316.5 L478.7,315.3 L480.0,314.7 L481.3,315.3Z" fill="none" stroke="#444" stroke-width="0.5"/>
<path d="M481.3,329.5 L480.9,330.8 L480.0,331.0 L479.6,329.5 L480.1,328.3 L480.9,328.2Z" fill="none" stroke="#444" stroke-width="0.5"/>
<path d="M447.0,356.0 L445.6,357.7 L443.6,359.8 L441.7,358.0 L441.6,354.9 L442.9,352.2 L445.0,353.1 L447.1,353.2Z" fill="none" stroke="#444" stroke-width="0.5"/>
<path d="M443.3,359.0 L442.6,360.4 L441.4,360.4 L440.8,359.0 L441.3,357.5 L442.5,358.0Z" fill="none" stroke="#444" stroke-width="0.5"/>
<path d="M432.8,366.5 L432.4,367.2 L431.6,367.2 L431.1,366.5 L431.6,365.8 L432.3,366.0Z" fill="none" stroke="#444" stroke-width="0.5"/>
<path d="M445.0,368.0 L444.9,368.5 L444.0,369.0 L443.2,368.5 L442.7,368.0 L442.8,367.3 L444.0,367.0 L445.0,367.4Z" fill="none" stroke="#444" stroke-width="0.5"/>
<path d="M450.0,369.5 L449.6,370.1 L448.3,370.2 L448.0,369.5 L448.3,368.8 L449.5,369.0Z" fill="none" stroke="#444" stroke-width="0.5"/>
<path d="M438.5,367.0 L438.4,367.6 L437.6,367.5 L437.1,367.0 L437.6,366.3 L438.4,366.4Z" fill="none" stroke="#444" stroke-width="0.5"/>
<path d="M445.5,376.2 L444.3,376.7 L443.3,377.1 L441.9,376.9 L441.9,376.2 L441.8,375.4 L443.3,375.5 L444.4,375.6Z" fill="none" stroke="#444" stroke-width="0.5"/>
<path d="M491.0,350.7 L490.4,351.2 L489.4,351.5 L489.2,350.7 L489.4,349.9 L490.4,350.2Z" fill="none" stroke="#444" stroke-width="0.5"/>
<path d="M495.0,285.8 L494.7,286.5 L494.0,286.4 L493.6,285.8 L494.0,285.3 L494.7,285.1Z" fill="none" stroke="#444" stroke-width="0.5"/>
<path d="M479.8,322.0 L479.3,324.3 L478.5,323.4 L478.1,322.0 L478.5,320.4 L479.3,319.8Z" fill="none" stroke="#444" stroke-width="0.5"/>
<path d="M453.5,352.0 L453.0,352.8 L452.0,353.5 L450.8,353.0 L450.2,352.0 L451.2,351.4 L452.0,350.9 L453.1,351.1Z" fill="none" stroke="#444" stroke-width="0.5"/>
<path d="M449.0,362.0 L448.2,363.0 L446.8,363.1 L446.7,362.0 L447.1,361.4 L448.0,361.2Z" fill="none" stroke="#444" stroke-width="0.5"/>
<path d="M465.0,192.5 L470.0,193.0 L476.0,195.0 L479.0,197.0 L476.0,197.5 L470.0,195.5Z" fill="none" stroke="#444" stroke-width="0.5"/>
<path d="M476.0,196.5 L480.0,197.5 L481.0,199.0 L478.0,199.0Z" fill="none" stroke="#444" stroke-width="0.5"/>
<g fill="#555">
</g>
<g clip-path="url(#frameclip)" fill="none" stroke="#4a4a18" stroke-width="0.75" stroke-opacity="0.8">
<path d="M169.4,28.0 L173.8,31.9 L181.7,35.9 L185.2,41.1 L187.8,46.4 L194.9,46.9 L203.6,45.9 L211.5,45.5 L217.6,47.3 L222.0,45.2 L226.0,43.4"/>
<path d="M226.0,43.4 L225.5,39.4 L229.0,35.0 L236.9,32.4 L245.7,30.1 L250.0,32.4 L254.4,36.8 L257.9,42.0 L261.4,48.2 L264.9,52.5 L268.4,49.4 L272.8,47.6 L279.0,45.9 L286.0,45.5 L292.1,43.4 L300.0,43.4 L306.1,45.2 L309.6,49.9 L312.3,54.6 L317.5,54.6 L325.0,51.7 L326.8,45.5 L332.1,41.1 L336.4,40.3 L339.1,33.3 L340.8,28.0"/>
<path d="M226.0,43.4 L221.1,47.6 L218.0,51.7 L220.3,56.0 L225.5,58.7 L231.6,60.4 L234.8,65.7 L236.9,71.8 L237.8,75.3 L232.5,78.8 L225.5,82.3 L219.4,86.2 L214.5,84.4 L211.5,79.7 L208.9,74.4 L203.6,71.5 L195.7,70.9 L191.0,73.9 L189.6,80.2 L190.5,87.2 L188.2,93.2 L181.2,95.5 L177.7,98.4 L175.9,105.1 L172.4,110.4 L167.2,113.9 L160.7,114.7 L158.1,120.0 L163.3,122.6 L171.2,125.3 L172.9,131.4 L176.5,139.3 L182.6,141.9 L189.6,146.3 L194.0,147.2 L200.1,143.7 L203.6,139.6 L205.4,141.0 L202.7,144.5 L204.5,151.5 L205.7,162.1 L205.0,170.8 L205.7,175.2 L198.4,177.8 L191.3,180.5 L186.1,184.8 L182.6,190.1 L180.0,194.5"/>
<path d="M231.6,60.4 L238.7,61.3 L247.1,56.4 L253.6,57.8 L256.2,63.0 L258.8,66.5 L264.9,68.7 L273.7,71.5 L281.6,72.7 L285.1,74.4 L286.8,80.6 L290.3,85.8 L298.2,86.7 L306.6,87.6 L308.7,92.5 L305.6,98.1 L302.1,103.3 L300.0,110.4 L304.4,115.6 L309.6,120.0 L312.0,124.4 L318.1,128.8 L321.6,132.3 L328.6,132.3 L336.5,128.8 L339.2,124.4 L342.7,122.6 L349.7,123.5 L354.9,127.9 L357.6,134.0 L356.7,141.0 L353.2,144.5 L347.9,141.9 L342.7,138.9 L334.8,138.4 L327.8,140.2 L328.6,144.5 L332.1,147.2 L331.3,152.4 L326.9,155.9 L321.6,160.3 L318.5,165.6 L319.0,170.8 L322.5,175.2 L326.9,176.9 L332.1,181.3 L339.2,184.0 L341.8,187.5 L339.2,191.8 L335.6,196.2 L337.4,200.6 L344.4,202.0 L353.2,200.3 L360.2,198.9 L365.4,201.0 L368.9,204.1 L375.9,205.9"/>
<path d="M376.6,207.5 L374.8,214.5 L371.3,221.5 L366.1,226.8 L359.0,231.2 L361.7,235.6 L366.1,238.2 L367.2,240.0 L360.2,242.6 L351.4,243.5 L343.5,244.4 L340.9,250.5 L341.8,257.5 L337.4,264.5 L333.9,270.7 L325.1,275.0 L318.1,279.4 L312.0,283.8 L309.4,286.4"/>
<path d="M376.6,207.5 L381.8,205.8 L388.8,206.6 L392.3,211.0 L397.6,214.5 L404.6,216.3 L409.9,218.0 L413.4,221.5 L417.7,223.3 L422.1,220.7 L425.6,216.3 L430.9,213.7 L436.1,211.0 L439.6,211.9"/>
<path d="M439.6,211.9 L440.5,206.6 L443.2,200.5 L444.9,195.3 L446.7,190.0 L447.5,187.4"/>
<path d="M439.6,211.9 L440.5,216.3 L443.2,220.7 L448.4,222.4 L451.0,225.0 L453.7,225.9"/>
<path d="M309.4,286.4 L307.0,282.1 L299.1,279.4 L290.3,277.7 L281.6,276.8 L277.2,272.4 L274.6,267.2 L269.3,263.7 L264.9,262.4 L261.4,264.5 L259.7,268.9 L256.2,272.4 L251.8,275.9 L245.7,277.7 L240.4,275.9 L238.7,272.4 L241.3,268.0 L247.4,264.5 L250.0,261.9 L246.5,257.5 L240.4,255.4 L236.0,257.5 L233.4,262.8 L226.4,266.3 L220.3,268.0 L215.0,268.4"/>
<path d="M180.0,194.7 L185.2,199.1 L189.6,202.6 L194.9,204.3 L200.1,206.9 L205.4,209.6 L210.6,212.7 L213.2,214.0 L207.1,216.6 L202.7,220.1 L200.1,224.5 L201.9,229.7 L205.4,234.1 L204.5,239.9 L207.1,244.4 L210.6,248.8 L212.4,254.0 L213.2,261.0 L215.0,268.4"/>
<path d="M215.0,268.4 L210.6,269.8 L203.6,268.9 L198.4,267.2 L191.3,265.9 L186.1,268.0 L181.7,272.4 L177.3,274.2 L172.1,273.3 L168.6,277.7 L163.3,279.4 L158.1,281.2 L158.9,284.7 L153.7,286.4 L145.8,287.3 L138.8,288.2 L133.5,290.8 L128.3,293.4 L123.0,295.2 L118.6,296.1 L119.5,301.3 L121.3,308.3 L123.9,315.3 L123.0,322.4 L123.9,332.0 L123.1,332.3 L126.6,337.7 L123.1,342.1 L116.0,343.9"/>
<path d="M115.1,178.9 L117.8,178.0 L123.0,172.8 L126.5,171.9 L133.5,175.4 L142.3,178.0 L144.9,184.2 L151.0,187.7 L157.2,191.2 L164.2,187.7 L168.6,185.0 L172.4,187.7 L174.7,193.8 L180.0,194.7"/>
<path d="M309.4,286.4 L306.1,291.7 L303.5,296.1 L304.4,301.3 L308.7,306.6 L313.1,311.0 L317.5,314.5 L320.1,320.6 L321.0,325.9 L321.9,332.0 L321.5,338.4"/>
<path d="M321.5,338.4 L316.7,341.0 L315.9,345.4 L310.6,348.9 L303.6,352.4 L296.6,353.0 L291.3,356.8 L287.8,359.4 L282.6,355.1 L279.9,353.0 L273.8,355.9 L268.5,358.6 L266.8,363.8 L261.5,367.3 L256.3,369.4 L258.0,374.3 L261.5,379.6 L262.4,384.9 L259.8,390.1 L254.5,395.4 L247.5,398.0"/>
<path d="M321.5,338.4 L325.5,339.3 L330.8,338.4 L334.3,336.7 L336.9,340.2 L338.6,343.7 L335.1,348.1 L336.0,352.4 L339.5,357.7 L343.0,362.9 L342.1,367.3 L342.1,373.5 L345.6,375.2 L352.7,376.1 L356.2,378.2 L361.4,376.1 L365.8,373.5 L370.2,369.1 L374.6,366.5 L377.2,370.0 L380.7,376.1 L384.2,382.2 L389.5,383.1 L394.7,381.3 L400.8,380.5 L405.2,378.7 L410.5,383.1 L413.1,386.6 L415.7,388.4"/>
</g>
<g clip-path="url(#frameclip)" stroke="#262a00" stroke-width="1.15" filter="url(#blur2)">
<circle cx="130.9" cy="37.6" r="3.1" fill="#f39b01"/>
<circle cx="192.6" cy="54.6" r="3.1" fill="#f1a901"/>
<circle cx="194.1" cy="55.7" r="3.1" fill="#efc801"/>
<circle cx="268.1" cy="38.0" r="3.1" fill="#f41701"/>
<circle cx="280.7" cy="34.7" r="3.1" fill="#f41701"/>
<circle cx="282.1" cy="38.9" r="3.1" fill="#f42501"/>
<circle cx="288.6" cy="47.8" r="3.1" fill="#f0b501"/>
<circle cx="313.7" cy="29.1" r="3.1" fill="#f47801"/>
<circle cx="262.8" cy="60.9" r="3.1" fill="#edda01"/>
<circle cx="266.3" cy="60.6" r="3.1" fill="#ebee01"/>
<circle cx="267.0" cy="64.4" r="3.1" fill="#f42f01"/>
<circle cx="245.3" cy="75.0" r="3.1" fill="#c1e702"/>
<circle cx="245.0" cy="77.1" r="3.1" fill="#f2a301"/>
<circle cx="247.1" cy="78.8" r="3.1" fill="#f41b01"/>
<circle cx="198.4" cy="80.6" r="3.1" fill="#8fd904"/>
<circle cx="200.1" cy="81.3" r="3.1" fill="#f42f01"/>
<circle cx="312.3" cy="76.2" r="3.1" fill="#f49001"/>
<circle cx="314.7" cy="76.4" r="3.1" fill="#f39b01"/>
<circle cx="254.1" cy="91.1" r="3.1" fill="#f0c001"/>
<circle cx="147.9" cy="92.3" r="3.1" fill="#f0b501"/>
<circle cx="146.8" cy="91.1" r="3.1" fill="#f2a301"/>
<circle cx="119.9" cy="94.2" r="3.1" fill="#edda01"/>
<circle cx="117.4" cy="118.8" r="3.1" fill="#edda01"/>
<circle cx="271.1" cy="120.5" r="3.1" fill="#c1e702"/>
<circle cx="364.0" cy="39.4" r="3.1" fill="#ebee01"/>
<circle cx="363.6" cy="42.9" r="3.1" fill="#ebee01"/>
<circle cx="353.8" cy="46.9" r="3.1" fill="#f0b501"/>
<circle cx="355.5" cy="46.9" r="3.1" fill="#f0c001"/>
<circle cx="346.8" cy="92.5" r="3.1" fill="#5fc906"/>
<circle cx="349.4" cy="93.7" r="3.1" fill="#8fd904"/>
<circle cx="353.4" cy="97.2" r="3.1" fill="#8fd904"/>
<circle cx="398.5" cy="101.9" r="3.1" fill="#77d105"/>
<circle cx="400.6" cy="102.5" r="3.1" fill="#5fc906"/>
<circle cx="403.7" cy="101.9" r="3.1" fill="#a8e003"/>
<circle cx="117.8" cy="122.1" r="3.1" fill="#edda01"/>
<circle cx="199.2" cy="125.3" r="3.1" fill="#efc801"/>
<circle cx="201.5" cy="125.3" r="3.1" fill="#f43d01"/>
<circle cx="269.8" cy="123.5" r="3.1" fill="#5fc906"/>
<circle cx="273.4" cy="122.6" r="3.1" fill="#77d105"/>
<circle cx="274.6" cy="126.1" r="3.1" fill="#efc801"/>
<circle cx="245.7" cy="131.4" r="3.1" fill="#c1e702"/>
<circle cx="241.3" cy="137.5" r="3.1" fill="#d8ee01"/>
<circle cx="247.4" cy="137.5" r="3.1" fill="#ebee01"/>
<circle cx="248.6" cy="138.9" r="3.1" fill="#edda01"/>
<circle cx="256.2" cy="137.0" r="3.1" fill="#edda01"/>
<circle cx="315.8" cy="152.4" r="3.1" fill="#efc801"/>
<circle cx="119.5" cy="160.3" r="3.1" fill="#f47801"/>
<circle cx="121.6" cy="161.2" r="3.1" fill="#f0b501"/>
<circle cx="231.3" cy="177.5" r="3.1" fill="#31b909"/>
<circle cx="235.2" cy="176.9" r="3.1" fill="#48c208"/>
<circle cx="261.4" cy="170.8" r="3.1" fill="#f41701"/>
<circle cx="260.0" cy="173.4" r="3.1" fill="#f41b01"/>
<circle cx="266.3" cy="169.1" r="3.1" fill="#efc801"/>
<circle cx="269.8" cy="172.2" r="3.1" fill="#a8e003"/>
<circle cx="264.6" cy="176.4" r="3.1" fill="#8fd904"/>
<circle cx="268.4" cy="178.7" r="3.1" fill="#edda01"/>
<circle cx="271.6" cy="174.3" r="3.1" fill="#efc801"/>
<circle cx="323.3" cy="181.3" r="3.1" fill="#f47801"/>
<circle cx="318.4" cy="193.6" r="3.1" fill="#efc801"/>
<circle cx="317.2" cy="196.7" r="3.1" fill="#edda01"/>
<circle cx="364.7" cy="148.9" r="3.1" fill="#f41701"/>
<circle cx="368.7" cy="147.2" r="3.1" fill="#f43d01"/>
<circle cx="388.5" cy="144.5" r="3.1" fill="#f2a301"/>
<circle cx="387.4" cy="151.5" r="3.1" fill="#f47801"/>
<circle cx="369.2" cy="155.9" r="3.1" fill="#efc801"/>
<circle cx="366.9" cy="157.7" r="3.1" fill="#f41b01"/>
<circle cx="366.9" cy="160.7" r="3.1" fill="#f41701"/>
<circle cx="378.7" cy="157.7" r="3.1" fill="#ebee01"/>
<circle cx="330.1" cy="162.4" r="3.1" fill="#f41701"/>
<circle cx="334.9" cy="166.4" r="3.1" fill="#f41b01"/>
<circle cx="338.0" cy="162.1" r="3.1" fill="#f0b501"/>
<circle cx="342.9" cy="161.7" r="3.1" fill="#f48101"/>
<circle cx="338.9" cy="165.9" r="3.1" fill="#f2a301"/>
<circle cx="354.7" cy="168.5" r="3.1" fill="#f41701"/>
<circle cx="388.8" cy="170.8" r="3.1" fill="#f41701"/>
<circle cx="404.6" cy="170.5" r="3.1" fill="#f42f01"/>
<circle cx="406.7" cy="170.5" r="3.1" fill="#f47801"/>
<circle cx="417.4" cy="172.2" r="3.1" fill="#efc801"/>
<circle cx="430.0" cy="164.2" r="3.1" fill="#f2a301"/>
<circle cx="433.5" cy="165.9" r="3.1" fill="#8fd904"/>
<circle cx="436.1" cy="169.9" r="3.1" fill="#8fd904"/>
<circle cx="446.7" cy="171.3" r="3.1" fill="#f48101"/>
<circle cx="388.0" cy="176.1" r="3.1" fill="#edda01"/>
<circle cx="392.0" cy="175.2" r="3.1" fill="#ebee01"/>
<circle cx="395.5" cy="176.9" r="3.1" fill="#f43d01"/>
<circle cx="390.6" cy="180.5" r="3.1" fill="#f41701"/>
<circle cx="373.9" cy="178.2" r="3.1" fill="#8fd904"/>
<circle cx="325.4" cy="177.8" r="3.1" fill="#ebee01"/>
<circle cx="330.7" cy="179.9" r="3.1" fill="#f48101"/>
<circle cx="324.9" cy="182.2" r="3.1" fill="#f2a301"/>
<circle cx="426.9" cy="182.2" r="3.1" fill="#f49001"/>
<circle cx="406.4" cy="181.0" r="3.1" fill="#f48101"/>
<circle cx="405.0" cy="186.2" r="3.1" fill="#f0b501"/>
<circle cx="409.3" cy="185.7" r="3.1" fill="#edda01"/>
<circle cx="404.6" cy="189.7" r="3.1" fill="#f43d01"/>
<circle cx="407.8" cy="189.2" r="3.1" fill="#efc801"/>
<circle cx="368.2" cy="193.9" r="3.1" fill="#f39b01"/>
<circle cx="367.5" cy="198.0" r="3.1" fill="#ebee01"/>
<circle cx="383.9" cy="195.7" r="3.1" fill="#8fd904"/>
<circle cx="437.0" cy="195.0" r="3.1" fill="#efc801"/>
<circle cx="444.6" cy="191.8" r="3.1" fill="#f41701"/>
<circle cx="445.8" cy="193.2" r="3.1" fill="#f41b01"/>
<circle cx="417.7" cy="198.0" r="3.1" fill="#8fd904"/>
<circle cx="423.0" cy="195.3" r="3.1" fill="#77d105"/>
<circle cx="424.2" cy="198.5" r="3.1" fill="#5fc906"/>
<circle cx="419.5" cy="201.0" r="3.1" fill="#ebee01"/>
<circle cx="423.0" cy="205.0" r="3.1" fill="#f43d01"/>
<circle cx="438.2" cy="208.5" r="3.1" fill="#f42f01"/>
<circle cx="457.5" cy="201.5" r="3.1" fill="#77d105"/>
<circle cx="460.7" cy="198.5" r="3.1" fill="#5fc906"/>
<circle cx="464.2" cy="199.7" r="3.1" fill="#77d105"/>
<circle cx="461.6" cy="203.2" r="3.1" fill="#5fc906"/>
<circle cx="465.9" cy="203.2" r="3.1" fill="#77d105"/>
<circle cx="471.2" cy="203.8" r="3.1" fill="#8fd904"/>
<circle cx="467.7" cy="200.6" r="3.1" fill="#5fc906"/>
<circle cx="288.6" cy="218.1" r="3.1" fill="#3bbd08"/>
<circle cx="291.6" cy="215.2" r="3.1" fill="#48c208"/>
<circle cx="294.7" cy="213.8" r="3.1" fill="#5fc906"/>
<circle cx="126.2" cy="229.2" r="3.1" fill="#f47801"/>
<circle cx="130.0" cy="229.5" r="3.1" fill="#eed001"/>
<circle cx="133.5" cy="232.2" r="3.1" fill="#f49001"/>
<circle cx="137.0" cy="230.4" r="3.1" fill="#ebee01"/>
<circle cx="123.9" cy="236.5" r="3.1" fill="#ebee01"/>
<circle cx="128.6" cy="233.9" r="3.1" fill="#d8ee01"/>
<circle cx="158.1" cy="237.4" r="3.1" fill="#c1e702"/>
<circle cx="154.2" cy="239.7" r="3.1" fill="#8fd904"/>
<circle cx="158.9" cy="242.1" r="3.1" fill="#d8ee01"/>
<circle cx="158.1" cy="249.3" r="3.1" fill="#c1e702"/>
<circle cx="164.2" cy="249.1" r="3.1" fill="#f2a301"/>
<circle cx="166.5" cy="249.3" r="3.1" fill="#5fc906"/>
<circle cx="131.4" cy="264.6" r="3.1" fill="#d8ee01"/>
<circle cx="130.9" cy="266.7" r="3.1" fill="#c1e702"/>
<circle cx="257.1" cy="234.4" r="3.1" fill="#ebee01"/>
<circle cx="256.2" cy="231.3" r="3.1" fill="#f47801"/>
<circle cx="277.2" cy="228.6" r="3.1" fill="#ebee01"/>
<circle cx="307.3" cy="245.6" r="3.1" fill="#48c208"/>
<circle cx="205.7" cy="271.6" r="3.1" fill="#48c208"/>
<circle cx="209.7" cy="270.7" r="3.1" fill="#5fc906"/>
<circle cx="212.4" cy="269.8" r="3.1" fill="#8fd904"/>
<circle cx="208.0" cy="274.2" r="3.1" fill="#3bbd08"/>
<circle cx="204.5" cy="277.2" r="3.1" fill="#5fc906"/>
<circle cx="211.5" cy="273.3" r="3.1" fill="#48c208"/>
<circle cx="315.8" cy="271.9" r="3.1" fill="#31b909"/>
<circle cx="269.3" cy="287.0" r="3.1" fill="#31b909"/>
<circle cx="265.8" cy="290.0" r="3.1" fill="#3bbd08"/>
<circle cx="263.2" cy="292.3" r="3.1" fill="#48c208"/>
<circle cx="261.4" cy="293.0" r="3.1" fill="#48c208"/>
<circle cx="334.9" cy="215.2" r="3.1" fill="#3bbd08"/>
<circle cx="397.2" cy="217.6" r="3.1" fill="#f41b01"/>
<circle cx="401.6" cy="219.0" r="3.1" fill="#f42f01"/>
<circle cx="395.8" cy="220.8" r="3.1" fill="#efc801"/>
<circle cx="426.5" cy="222.5" r="3.1" fill="#48c208"/>
<circle cx="427.7" cy="224.6" r="3.1" fill="#f42501"/>
<circle cx="406.7" cy="239.7" r="3.1" fill="#f1a901"/>
<circle cx="409.5" cy="244.4" r="3.1" fill="#f46e01"/>
<circle cx="395.8" cy="245.3" r="3.1" fill="#f43d01"/>
<circle cx="399.3" cy="244.4" r="3.1" fill="#8fd904"/>
<circle cx="401.1" cy="247.0" r="3.1" fill="#8fd904"/>
<circle cx="397.2" cy="250.5" r="3.1" fill="#f39b01"/>
<circle cx="405.5" cy="250.2" r="3.1" fill="#efc801"/>
<circle cx="380.1" cy="247.9" r="3.1" fill="#31b909"/>
<circle cx="390.6" cy="256.3" r="3.1" fill="#31b909"/>
<circle cx="420.9" cy="254.4" r="3.1" fill="#8fd904"/>
<circle cx="420.7" cy="259.0" r="3.1" fill="#8fd904"/>
<circle cx="428.8" cy="258.4" r="3.1" fill="#8fd904"/>
<circle cx="467.7" cy="262.8" r="3.1" fill="#d8ee01"/>
<circle cx="463.3" cy="266.3" r="3.1" fill="#8fd904"/>
<circle cx="468.0" cy="268.4" r="3.1" fill="#ebee01"/>
<circle cx="464.2" cy="263.7" r="3.1" fill="#f47801"/>
<circle cx="471.5" cy="260.2" r="3.1" fill="#77d105"/>
<circle cx="477.8" cy="262.8" r="3.1" fill="#5fc906"/>
<circle cx="490.5" cy="257.9" r="3.1" fill="#3bbd08"/>
<circle cx="493.6" cy="259.0" r="3.1" fill="#48c208"/>
<circle cx="499.2" cy="260.7" r="3.1" fill="#3bbd08"/>
<circle cx="348.5" cy="275.4" r="3.1" fill="#3bbd08"/>
<circle cx="395.0" cy="289.1" r="3.1" fill="#3bbd08"/>
<circle cx="397.2" cy="290.9" r="3.1" fill="#5fc906"/>
<circle cx="376.6" cy="301.4" r="3.1" fill="#8fd904"/>
<circle cx="377.4" cy="299.3" r="3.1" fill="#ebee01"/>
<circle cx="340.6" cy="304.2" r="3.1" fill="#31b909"/>
<circle cx="196.6" cy="313.7" r="3.1" fill="#8fd904"/>
<circle cx="200.1" cy="316.4" r="3.1" fill="#8fd904"/>
<circle cx="204.2" cy="319.6" r="3.1" fill="#48c208"/>
<circle cx="207.8" cy="318.5" r="3.1" fill="#5fc906"/>
<circle cx="204.6" cy="323.1" r="3.1" fill="#8fd904"/>
<circle cx="219.1" cy="347.0" r="3.1" fill="#5fc906"/>
<circle cx="225.5" cy="350.9" r="3.1" fill="#3bbd08"/>
<circle cx="257.4" cy="338.5" r="3.1" fill="#8fd904"/>
<circle cx="255.1" cy="341.2" r="3.1" fill="#5fc906"/>
<circle cx="252.8" cy="346.5" r="3.1" fill="#77d105"/>
<circle cx="296.7" cy="330.9" r="3.1" fill="#31b909"/>
<circle cx="299.3" cy="330.2" r="3.1" fill="#48c208"/>
<circle cx="301.7" cy="330.6" r="3.1" fill="#5fc906"/>
<circle cx="132.3" cy="360.3" r="3.1" fill="#5fc906"/>
<circle cx="135.1" cy="360.7" r="3.1" fill="#5fc906"/>
<circle cx="158.5" cy="359.8" r="3.1" fill="#48c208"/>
<circle cx="161.7" cy="358.0" r="3.1" fill="#5fc906"/>
<circle cx="166.0" cy="361.6" r="3.1" fill="#77d105"/>
<circle cx="121.0" cy="374.5" r="3.1" fill="#5fc906"/>
<circle cx="162.4" cy="390.8" r="3.1" fill="#77d105"/>
<circle cx="162.1" cy="394.3" r="3.1" fill="#8fd904"/>
<circle cx="388.7" cy="330.6" r="3.1" fill="#31b909"/>
<circle cx="389.5" cy="329.9" r="3.1" fill="#3bbd08"/>
<circle cx="458.3" cy="321.2" r="3.1" fill="#5fc906"/>
<circle cx="422.3" cy="350.4" r="3.1" fill="#48c208"/>
<circle cx="424.4" cy="350.9" r="3.1" fill="#77d105"/>
</g>
<g font-family="Liberation Serif, serif" font-size="11" fill="#1c1c08" stroke="#1c1c08" stroke-width="0.2" fill-opacity="0.92">
<text x="279.0" y="39.8" textLength="43.8" lengthAdjust="spacingAndGlyphs">Shandong</text>
<text x="133.2" y="111.3" textLength="28.0" lengthAdjust="spacingAndGlyphs">Henan</text>
<text x="381.8" y="163.6" textLength="33.0" lengthAdjust="spacingAndGlyphs">Jiangsu</text>
<text x="447.5" y="209.8" textLength="40.3" lengthAdjust="spacingAndGlyphs">Shanghai</text>
<text x="256.2" y="213.3" textLength="25.4" lengthAdjust="spacingAndGlyphs">Anhui</text>
<text x="145.4" y="266.8" textLength="25.8" lengthAdjust="spacingAndGlyphs">Hubei</text>
<text x="201.4" y="357.6" textLength="30.6" lengthAdjust="spacingAndGlyphs">Jiangxi</text>
<text x="371.5" y="338.0" textLength="38.5" lengthAdjust="spacingAndGlyphs">Zhejiang</text>
<text x="313.0" y="380.2" textLength="27.3" lengthAdjust="spacingAndGlyphs">Fujian</text>
</g>
<text x="117.8" y="49.8" font-family="Liberation Serif, serif" font-weight="bold" font-size="25" fill="#000" textLength="71" lengthAdjust="spacingAndGlyphs">(2019)</text>
<rect x="116.3" y="27.9" width="415.1" height="369.5" fill="none" stroke="#484848" stroke-width="0.95"/>
<g stroke="#484848" stroke-width="0.8">
<line x1="162.4" y1="27.9" x2="162.4" y2="25.4"/>
<line x1="162.4" y1="397.4" x2="162.4" y2="400.2"/>
<line x1="208.5" y1="27.9" x2="208.5" y2="25.4"/>
<line x1="208.5" y1="397.4" x2="208.5" y2="400.2"/>
<line x1="254.7" y1="27.9" x2="254.7" y2="25.4"/>
<line x1="254.7" y1="397.4" x2="254.7" y2="400.2"/>
<line x1="300.8" y1="27.9" x2="300.8" y2="25.4"/>
<line x1="300.8" y1="397.4" x2="300.8" y2="400.2"/>
<line x1="346.9" y1="27.9" x2="346.9" y2="25.4"/>
<line x1="346.9" y1="397.4" x2="346.9" y2="400.2"/>
<line x1="393.0" y1="27.9" x2="393.0" y2="25.4"/>
<line x1="393.0" y1="397.4" x2="393.0" y2="400.2"/>
<line x1="439.1" y1="27.9" x2="439.1" y2="25.4"/>
<line x1="439.1" y1="397.4" x2="439.1" y2="400.2"/>
<line x1="485.3" y1="27.9" x2="485.3" y2="25.4"/>
<line x1="485.3" y1="397.4" x2="485.3" y2="400.2"/>
<line x1="531.4" y1="27.9" x2="531.4" y2="25.4"/>
<line x1="531.4" y1="397.4" x2="531.4" y2="400.2"/>
<line x1="116.3" y1="397.4" x2="116.3" y2="400.2"/>
<line x1="116.3" y1="27.9" x2="113.8" y2="27.9"/>
<line x1="531.4" y1="27.9" x2="533.9" y2="27.9"/>
<line x1="116.3" y1="74.1" x2="113.8" y2="74.1"/>
<line x1="531.4" y1="74.1" x2="533.9" y2="74.1"/>
<line x1="116.3" y1="120.3" x2="113.8" y2="120.3"/>
<line x1="531.4" y1="120.3" x2="533.9" y2="120.3"/>
<line x1="116.3" y1="166.5" x2="113.8" y2="166.5"/>
<line x1="531.4" y1="166.5" x2="533.9" y2="166.5"/>
<line x1="116.3" y1="212.6" x2="113.8" y2="212.6"/>
<line x1="531.4" y1="212.6" x2="533.9" y2="212.6"/>
<line x1="116.3" y1="258.8" x2="113.8" y2="258.8"/>
<line x1="531.4" y1="258.8" x2="533.9" y2="258.8"/>
<line x1="116.3" y1="305.0" x2="113.8" y2="305.0"/>
<line x1="531.4" y1="305.0" x2="533.9" y2="305.0"/>
<line x1="116.3" y1="351.2" x2="113.8" y2="351.2"/>
<line x1="531.4" y1="351.2" x2="533.9" y2="351.2"/>
</g>
<g font-family="Liberation Serif, serif" font-size="9.5" fill="#333" text-anchor="middle">
<text x="162.1" y="23.1">115° E</text>
<text x="208.2" y="23.1">116° E</text>
<text x="254.4" y="23.1">117° E</text>
<text x="300.5" y="23.1">118° E</text>
<text x="346.6" y="23.1">119° E</text>
<text x="392.7" y="23.1">120° E</text>
<text x="438.8" y="23.1">121° E</text>
<text x="485.0" y="23.1">122° E</text>
<text x="531.1" y="23.1">123° E</text>
<text x="116.6" y="410.1">114° E</text>
<text x="162.7" y="410.1">115° E</text>
<text x="208.8" y="410.1">116° E</text>
<text x="255.0" y="410.1">117° E</text>
<text x="301.1" y="410.1">118° E</text>
<text x="347.2" y="410.1">119° E</text>
<text x="393.3" y="410.1">120° E</text>
<text x="439.4" y="410.1">121° E</text>
<text x="485.6" y="410.1">122° E</text>
<text x="531.7" y="410.1">123° E</text>
<text transform="translate(110.3,27.9) rotate(-90)">35° N</text>
<text transform="translate(110.3,74.1) rotate(-90)">34° N</text>
<text transform="translate(543.9,74.1) rotate(-90)">34° N</text>
<text transform="translate(110.3,120.3) rotate(-90)">33° N</text>
<text transform="translate(543.9,120.3) rotate(-90)">33° N</text>
<text transform="translate(110.3,166.5) rotate(-90)">32° N</text>
<text transform="translate(543.9,166.5) rotate(-90)">32° N</text>
<text transform="translate(110.3,212.6) rotate(-90)">31° N</text>
<text transform="translate(543.9,212.6) rotate(-90)">31° N</text>
<text transform="translate(110.3,258.8) rotate(-90)">30° N</text>
<text transform="translate(543.9,258.8) rotate(-90)">30° N</text>
<text transform="translate(110.3,305.0) rotate(-90)">29° N</text>
<text transform="translate(543.9,305.0) rotate(-90)">29° N</text>
<text transform="translate(110.3,351.2) rotate(-90)">28° N</text>
<text transform="translate(543.9,351.2) rotate(-90)">28° N</text>
</g>
<rect x="130.2" y="421.7" width="174.2" height="11.1" fill="url(#cb)"/>
<g font-family="Liberation Serif, serif" font-size="14" fill="#222">
<text x="124.5" y="445.3">38</text><text x="216.8" y="445.3" text-anchor="middle">59</text><text x="286.7" y="445.3" textLength="39.6" lengthAdjust="spacingAndGlyphs">80 ppb</text>
</g>
<g stroke="#555" stroke-width="0.8" fill="none">
<path d="M337.5,437.6 V442.0 H480.7 V437.6"/>
<line x1="355.4" y1="442.0" x2="355.4" y2="439.4"/>
<line x1="373.3" y1="442.0" x2="373.3" y2="439.0"/>
<line x1="391.2" y1="442.0" x2="391.2" y2="439.4"/>
<line x1="409.1" y1="442.0" x2="409.1" y2="437.6"/>
<line x1="427.0" y1="442.0" x2="427.0" y2="439.4"/>
<line x1="444.9" y1="442.0" x2="444.9" y2="439.4"/>
<line x1="462.8" y1="442.0" x2="462.8" y2="439.4"/>
</g>
<g font-family="Liberation Serif, serif" font-size="11.7" fill="#2a2a2a" text-anchor="middle">
<text x="337.5" y="433.8">0</text><text x="373.8" y="433.8">70</text><text x="409.4" y="433.8">140</text><text x="471.9" y="433.8" text-anchor="start" textLength="38" lengthAdjust="spacingAndGlyphs">280 Km</text>
</g>
<g><text x="538.8" y="424.2" font-family="Liberation Sans, sans-serif" font-weight="bold" font-size="6.2" fill="#222" textLength="5.2" lengthAdjust="spacingAndGlyphs">N</text>
<path d="M541.6,427.8 L547.3,446 L541.6,441.1 Z" fill="#fff" stroke="#111" stroke-width="0.7" stroke-linejoin="miter"/>
<path d="M541.6,427.8 L536,445.8 L541.6,441.1 Z" fill="#111" stroke="#111" stroke-width="0.6"/></g>
</g>
</svg>
<svg width="1378" height="525" viewBox="0 0 1378 525" style="pointer-events:none"><g font-family="Liberation Serif, serif" font-size="24.5" fill="#1c1c1c">
<text x="10.3" y="480.4" textLength="631.6" lengthAdjust="spacing">(<tspan font-weight="bold">a</tspan>) Annual mean surface ozone concentrations in 2018 for</text>
<text x="325.9" y="514.3" text-anchor="middle" textLength="51.8" lengthAdjust="spacing">YRD</text>
<text x="729.3" y="480.4" textLength="631.6" lengthAdjust="spacing">(<tspan font-weight="bold">b</tspan>) Annual mean surface ozone concentrations in 2019 for</text>
<text x="1047.0" y="514.3" text-anchor="middle" textLength="51.8" lengthAdjust="spacing">YRD</text>
</g></svg>
</body></html>
